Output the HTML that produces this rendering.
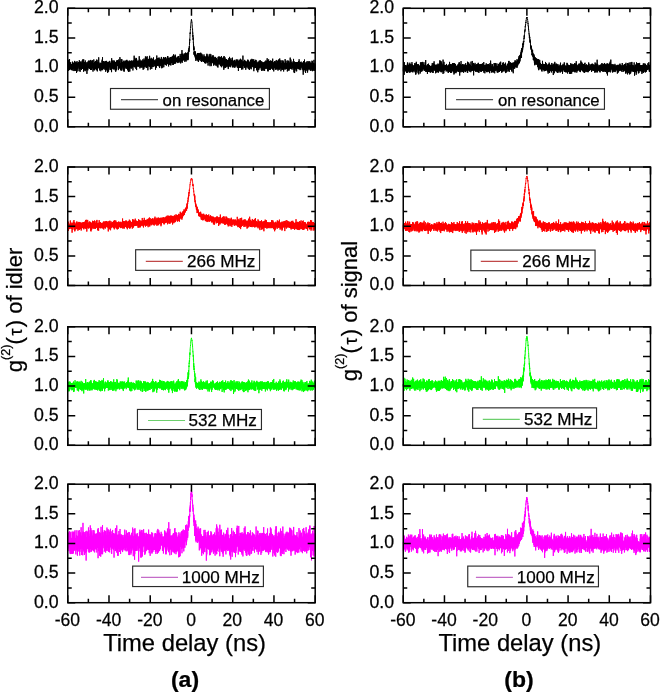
<!DOCTYPE html>
<html><head><meta charset="utf-8"><style>
html,body{margin:0;padding:0;background:#fff;}
svg{display:block;will-change:transform;}
</style></head><body>
<svg width="660" height="692" viewBox="0 0 660 692" font-family="Liberation Sans, sans-serif" fill="#000">
<style>text{stroke:#000;stroke-width:0.25px;}</style>
<rect width="660" height="692" fill="#fff"/>
<path transform="translate(67.750 8.300) scale(0.0103130)" d="M0 5946 l6 -680 6 540 6 -155 6 -46 6 168 6 158 6 -509 6 72 6 585 6 -1087 6 349 6 436 6 -420 6 346 6 -102 6 -215 6 517 6 -463 6 -208 6 19 6 410 6 -304 6 638 6 -370 6 -154 6 454 6 -319 6 -457 6 -226 6 465 6 -13 6 452 6 63 6 52 6 -494 6 -53 6 356 6 144 6 -376 6 -14 6 113 6 -355 6 345 6 -7 6 263 6 -314 6 -306 6 325 6 -3 6 -91 6 39 6 -64 6 -2 6 -20 6 357 6 -277 6 481 6 -473 6 387 6 -301 6 -138 6 225 6 -130 6 439 6 -198 6 -390 6 465 6 -456 6 515 6 -121 6 47 6 -278 6 -134 6 405 6 -224 6 -456 6 490 6 126 6 -304 6 154 6 121 6 277 6 -661 6 351 6 -144 6 268 6 -597 6 140 6 -59 6 275 6 -146 6 -106 6 -34 6 180 6 94 6 75 6 98 6 55 6 -335 6 153 6 442 6 -465 6 -308 6 339 6 398 6 -437 6 -229 6 147 6 159 6 -575 6 -13 6 505 6 -231 6 106 6 -98 6 -170 6 160 6 185 6 187 6 40 6 -198 6 -299 6 216 6 63 6 -52 6 56 6 -129 6 422 6 215 6 -392 6 183 6 -698 6 448 6 24 6 324 6 -460 6 229 6 -441 6 71 6 408 6 -299 6 791 6 -518 6 -484 6 115 6 155 6 52 6 351 6 -16 6 -399 6 -389 6 993 6 -707 6 7 6 -88 6 459 6 -86 6 -145 6 271 6 51 6 -87 6 -206 6 -112 6 101 6 -26 6 192 6 9 6 -465 6 297 6 7 6 -257 6 -77 6 -8 6 218 6 116 6 -86 6 27 6 -307 6 279 6 -88 6 169 6 -354 6 865 6 -615 6 -94 6 483 6 -836 6 581 6 3 6 232 6 -495 6 165 6 206 6 -206 6 -116 6 -134 6 252 6 298 6 -103 6 440 6 -396 6 -370 6 68 6 145 6 59 6 -487 6 329 6 -158 6 129 6 269 6 -561 6 704 6 -10 6 -194 6 76 6 -44 6 11 6 -400 6 235 6 -75 6 489 6 -187 6 -487 6 577 6 -601 6 557 6 -335 6 289 6 -264 6 277 6 -162 6 -487 6 517 6 -609 6 629 6 181 6 -315 6 122 6 -547 6 226 6 -81 6 139 6 -464 6 423 6 66 6 343 6 20 6 -275 6 -206 6 -30 6 520 6 -372 6 85 6 331 6 -411 6 701 6 -639 6 -557 6 881 6 -262 6 482 6 -287 6 -382 6 454 6 -254 6 81 6 5 6 -143 6 -74 6 -189 6 101 6 352 6 -499 6 42 6 708 6 -561 6 -41 6 -35 6 105 6 465 6 -259 6 454 6 -482 6 -552 6 340 6 -39 6 340 6 127 6 13 6 -301 6 234 6 -42 6 -449 6 702 6 -82 6 -203 6 -104 6 8 6 319 6 -401 6 81 6 -122 6 363 6 -335 6 6 6 222 6 -111 6 85 6 -483 6 1129 6 -422 6 65 6 -335 6 76 6 -67 6 -285 6 592 6 -198 6 -157 6 247 6 -397 6 10 6 262 6 268 6 -850 6 284 6 12 6 89 6 20 6 -211 6 213 6 155 6 -338 6 164 6 209 6 34 6 -522 6 134 6 -338 6 630 6 55 6 -290 6 -245 6 197 6 41 6 -367 6 663 6 127 6 -127 6 -108 6 -174 6 -163 6 155 6 -281 6 592 6 -689 6 685 6 -500 6 531 6 -323 6 74 6 -118 6 -59 6 243 6 -37 6 -77 6 389 6 -145 6 225 6 -410 6 -559 6 373 6 405 6 -40 6 -424 6 365 6 286 6 -148 6 8 6 -8 6 -428 6 152 6 393 6 -239 6 151 6 17 6 75 6 -819 6 517 6 -222 6 -74 6 315 6 -231 6 -2 6 80 6 -490 6 475 6 129 6 -221 6 -285 6 197 6 371 6 96 6 18 6 -68 6 -264 6 -116 6 785 6 -567 6 273 6 -450 6 -58 6 426 6 -83 6 126 6 -338 6 504 6 -122 6 -111 6 -481 6 -296 6 599 6 315 6 -329 6 238 6 -335 6 396 6 -187 6 -90 6 -134 6 150 6 -338 6 287 6 488 6 -689 6 305 6 95 6 -548 6 630 6 -269 6 198 6 -520 6 432 6 -151 6 409 6 -711 6 630 6 -498 6 -51 6 -30 6 -147 6 751 6 -396 6 67 6 -71 6 -171 6 249 6 233 6 -182 6 -411 6 683 6 -316 6 266 6 -525 6 693 6 -329 6 -54 6 -61 6 -565 6 203 6 650 6 -802 6 843 6 170 6 -94 6 -428 6 -83 6 690 6 -665 6 176 6 -245 6 275 6 -324 6 85 6 436 6 -658 6 310 6 -130 6 -134 6 562 6 -224 6 186 6 30 6 -304 6 -19 6 -249 6 -14 6 354 6 205 6 -1015 6 264 6 567 6 207 6 -128 6 -177 6 -214 6 41 6 134 6 171 6 -104 6 120 6 -96 6 44 6 -158 6 605 6 -387 6 -13 6 211 6 -241 6 221 6 -98 6 -94 6 -9 6 80 6 -422 6 227 6 -30 6 22 6 226 6 54 6 -433 6 300 6 356 6 107 6 -608 6 241 6 -169 6 121 6 -35 6 -59 6 269 6 -308 6 -253 6 73 6 611 6 -100 6 -2 6 -272 6 -277 6 133 6 521 6 -454 6 -189 6 315 6 -591 6 642 6 -458 6 -296 6 911 6 -240 6 -225 6 -662 6 1255 6 -592 6 71 6 177 6 104 6 -78 6 -56 6 243 6 -715 6 674 6 -171 6 58 6 -62 6 -127 6 213 6 -131 6 -492 6 168 6 337 6 -300 6 420 6 -249 6 415 6 -72 6 -70 6 -528 6 253 6 -80 6 99 6 -54 6 -13 6 -87 6 152 6 270 6 -32 6 -503 6 -50 6 214 6 553 6 -808 6 314 6 100 6 -24 6 98 6 -534 6 18 6 689 6 -219 6 -124 6 -244 6 929 6 -843 6 -185 6 502 6 -71 6 -324 6 219 6 429 6 -41 6 -34 6 97 6 -354 6 128 6 -140 6 -168 6 -271 6 394 6 522 6 -817 6 379 6 -322 6 405 6 -189 6 110 6 -28 6 -327 6 485 6 -206 6 -14 6 153 6 455 6 -640 6 800 6 -336 6 -262 6 -223 6 -109 6 9 6 58 6 240 6 -396 6 372 6 -349 6 842 6 -321 6 -95 6 -145 6 600 6 -805 6 -44 6 51 6 327 6 -495 6 502 6 -365 6 242 6 -10 6 34 6 -34 6 -284 6 -82 6 3 6 130 6 60 6 54 6 -328 6 552 6 48 6 -171 6 430 6 -359 6 -45 6 243 6 -113 6 -319 6 231 6 -76 6 -241 6 413 6 133 6 -277 6 -116 6 560 6 -619 6 243 6 25 6 112 6 -170 6 -288 6 109 6 -71 6 294 6 -490 6 79 6 324 6 652 6 -673 6 -675 6 704 6 241 6 -683 6 581 6 -278 6 -68 6 560 6 -401 6 -267 6 380 6 -245 6 169 6 -264 6 -206 6 738 6 -203 6 -171 6 257 6 48 6 -120 6 -19 6 96 6 -247 6 -120 6 15 6 17 6 -129 6 640 6 -313 6 -76 6 -85 6 535 6 -873 6 692 6 -289 6 -118 6 -88 6 443 6 -36 6 -228 6 -55 6 -81 6 242 6 159 6 160 6 -770 6 779 6 -518 6 105 6 -121 6 -48 6 -99 6 351 6 -114 6 587 6 -500 6 238 6 -188 6 -348 6 282 6 -246 6 323 6 -151 6 203 6 532 6 -457 6 -112 6 -106 6 38 6 32 6 -268 6 80 6 255 6 -317 6 713 6 -425 6 -34 6 -362 6 458 6 234 6 -412 6 -379 6 475 6 -28 6 26 6 -64 6 -313 6 -165 6 372 6 144 6 -489 6 437 6 8 6 106 6 -11 6 -139 6 131 6 -176 6 81 6 -116 6 234 6 -46 6 -110 6 43 6 -8 6 -267 6 559 6 216 6 -665 6 241 6 -397 6 358 6 270 6 -838 6 446 6 212 6 75 6 -327 6 308 6 -266 6 -193 6 636 6 -257 6 -209 6 -294 6 182 6 345 6 -478 6 453 6 -49 6 -134 6 366 6 -1038 6 467 6 244 6 196 6 147 6 -382 6 -80 6 272 6 -51 6 -187 6 153 6 447 6 -628 6 105 6 -121 6 369 6 341 6 -218 6 -385 6 -443 6 -69 6 510 6 438 6 -279 6 -195 6 2 6 85 6 -310 6 557 6 315 6 -321 6 71 6 -845 6 602 6 308 6 -508 6 -98 6 237 6 -35 6 -206 6 126 6 302 6 -321 6 -85 6 146 6 -132 6 71 6 204 6 -22 6 -189 6 289 6 -423 6 -17 6 807 6 -487 6 169 6 -30 6 -193 6 77 6 -182 6 60 6 -12 6 286 6 -108 6 -449 6 978 6 -1043 6 566 6 -432 6 936 6 -540 6 -315 6 173 6 -215 6 469 6 -78 6 23 6 -289 6 11 6 145 6 35 6 7 6 -94 6 256 6 -221 6 21 6 98 6 7 6 -508 6 519 6 -255 6 -237 6 155 6 179 6 -247 6 605 6 -49 6 -207 6 -44 6 -31 6 -490 6 47 6 428 6 -73 6 288 6 -304 6 411 6 -680 6 476 6 -268 6 462 6 -669 6 193 6 -334 6 469 6 417 6 -207 6 117 6 -703 6 546 6 31 6 -334 6 81 6 -56 6 246 6 370 6 -158 6 207 6 -861 6 91 6 318 6 -247 6 -13 6 9 6 25 6 -87 6 198 6 570 6 135 6 -998 6 165 6 769 6 -665 6 260 6 -82 6 508 6 -835 6 211 6 -223 6 -67 6 -50 6 -90 6 336 6 18 6 212 6 -290 6 190 6 232 6 -589 6 120 6 841 6 -203 6 -408 6 278 6 -637 6 258 6 -97 6 -92 6 -100 6 400 6 -224 6 92 6 -136 6 60 6 -216 6 219 6 253 6 -150 6 312 6 -362 6 -296 6 525 6 260 6 -391 6 106 6 -126 6 146 6 -166 6 272 6 -639 6 441 6 -184 6 -61 6 226 6 -151 6 174 6 49 6 -56 6 -177 6 436 6 -90 6 -26 6 -60 6 -427 6 294 6 68 6 -112 6 -228 6 448 6 -439 6 830 6 -358 6 -586 6 -20 6 336 6 153 6 -310 6 304 6 -485 6 90 6 102 6 398 6 -450 6 302 6 -5 6 46 6 -76 6 -153 6 -86 6 -1 6 -631 6 923 6 -372 6 449 6 -116 6 239 6 -587 6 234 6 31 6 61 6 -258 6 350 6 -222 6 -524 6 656 6 119 6 95 6 -451 6 183 6 202 6 19 6 -213 6 254 6 -765 6 565 6 -4 6 -22 6 424 6 -89 6 -269 6 -84 6 299 6 -724 6 305 6 -207 6 30 6 344 6 -657 6 570 6 495 6 111 6 -577 6 -215 6 197 6 -410 6 501 6 -214 6 -42 6 435 6 -330 6 -15 6 -180 6 -28 6 55 6 429 6 -368 6 -83 6 254 6 -176 6 -4 6 -102 6 271 6 -98 6 68 6 32 6 167 6 -69 6 193 6 -227 6 -217 6 17 6 -32 6 210 6 -368 6 452 6 -300 6 86 6 284 6 -10 6 -356 6 173 6 -58 6 -686 6 613 6 109 6 -151 6 326 6 -104 6 -152 6 307 6 -192 6 37 6 -72 6 457 6 -865 6 454 6 -156 6 387 6 66 6 -326 6 85 6 -238 6 383 6 15 6 -322 6 -90 6 -55 6 232 6 -72 6 258 6 -516 6 43 6 8 6 661 6 -606 6 392 6 -298 6 15 6 -193 6 343 6 37 6 162 6 43 6 -430 6 362 6 -385 6 256 6 45 6 -372 6 25 6 449 6 -199 6 -40 6 -164 6 341 6 -78 6 -74 6 -196 6 -50 6 349 6 -559 6 323 6 297 6 183 6 -256 6 456 6 -622 6 -92 6 -173 6 187 6 536 6 -347 6 -239 6 697 6 -328 6 -352 6 138 6 501 6 -366 6 -128 6 -500 6 611 6 113 6 -280 6 -22 6 -58 6 -212 6 365 6 316 6 -343 6 5 6 -231 6 31 6 381 6 -365 6 -57 6 288 6 -276 6 189 6 -4 6 79 6 -231 6 -502 6 640 6 336 6 -226 6 85 6 -220 6 112 6 -648 6 432 6 -270 6 621 6 -120 6 -550 6 903 6 -440 6 408 6 -747 6 714 6 -269 6 -31 6 365 6 -1006 6 637 6 -439 6 566 6 186 6 -407 6 6 6 -661 6 961 6 122 6 -207 6 -244 6 -64 6 317 6 -97 6 -217 6 -131 6 407 6 -176 6 699 6 -434 6 -338 6 106 6 41 6 -434 6 458 6 194 6 -315 6 0 6 326 6 -519 6 -170 6 553 6 68 6 -191 6 -321 6 436 6 39 6 -34 6 -201 6 6 6 92 6 -332 6 -253 6 682 6 -391 6 185 6 -659 6 935 6 -130 6 -109 6 369 6 -294 6 -223 6 520 6 -380 6 -400 6 574 6 71 6 394 6 -585 6 365 6 -526 6 -262 6 261 6 324 6 -348 6 270 6 158 6 -152 6 -179 6 145 6 -215 6 -389 6 367 6 -34 6 341 6 -481 6 235 6 -158 6 429 6 -244 6 621 6 -480 6 117 6 38 6 -658 6 784 6 -333 6 -2 6 -162 6 -115 6 626 6 -255 6 38 6 -336 6 -58 6 323 6 31 6 112 6 -331 6 -312 6 309 6 258 6 31 6 -30 6 224 6 -810 6 397 6 96 6 -615 6 482 6 -303 6 290 6 -199 6 245 6 105 6 -187 6 -74 6 -89 6 211 6 107 6 29 6 -163 6 189 6 -39 6 -208 6 -11 6 19 6 298 6 165 6 -410 6 37 6 118 6 -141 6 -154 6 250 6 -144 6 328 6 -181 6 145 6 146 6 -449 6 779 6 -662 6 -201 6 90 6 463 6 -426 6 492 6 -226 6 -551 6 302 6 -243 6 540 6 233 6 -317 6 -483 6 84 6 -35 6 288 6 -14 6 25 6 -737 6 667 6 -399 6 460 6 -370 6 583 6 -138 6 -205 6 219 6 -39 6 -60 6 89 6 -497 6 99 6 599 6 -739 6 414 6 -2 6 31 6 -247 6 37 6 292 6 -137 6 321 6 -750 6 640 6 8 6 -42 6 -203 6 -146 6 261 6 -91 6 85 6 -386 6 250 6 454 6 -750 6 268 6 -377 6 599 6 -28 6 -77 6 290 6 -245 6 -385 6 130 6 732 6 -872 6 218 6 -110 6 183 6 -36 6 31 6 0 6 256 6 -491 6 194 6 -41 6 9 6 152 6 -58 6 300 6 -378 6 -4 6 121 6 347 6 -719 6 354 6 -37 6 68 6 66 6 -46 6 165 6 -125 6 -622 6 206 6 -193 6 614 6 297 6 -124 6 298 6 -874 6 -34 6 261 6 -64 6 1 6 113 6 -199 6 408 6 -135 6 -70 6 363 6 -163 6 -339 6 20 6 658 6 -793 6 131 6 -98 6 194 6 -153 6 438 6 -253 6 198 6 -128 6 -396 6 -107 6 371 6 110 6 -286 6 74 6 -341 6 299 6 692 6 -560 6 88 6 111 6 -220 6 18 6 94 6 -433 6 262 6 -8 6 56 6 -247 6 541 6 -540 6 335 6 -402 6 15 6 213 6 220 6 -172 6 -17 6 419 6 -264 6 86 6 -481 6 -77 6 561 6 -47 6 182 6 -366 6 -128 6 -228 6 710 6 -512 6 248 6 131 6 -87 6 95 6 -280 6 102 6 -274 6 394 6 309 6 -204 6 -308 6 418 6 -168 6 -297 6 438 6 -510 6 115 6 211 6 -125 6 104 6 -25 6 -17 6 -80 6 24 6 149 6 53 6 -700 6 726 6 -219 6 -311 6 47 6 393 6 -627 6 54 6 475 6 210 6 -428 6 185 6 24 6 117 6 -49 6 -175 6 -170 6 678 6 69 6 -765 6 413 6 -352 6 132 6 -261 6 76 6 269 6 -27 6 -111 6 -98 6 312 6 202 6 -371 6 33 6 24 6 191 6 -367 6 530 6 -284 6 -405 6 545 6 -348 6 -9 6 4 6 476 6 -611 6 196 6 -81 6 41 6 55 6 -265 6 -50 6 747 6 -247 6 -140 6 453 6 -825 6 506 6 -304 6 77 6 97 6 178 6 -148 6 -103 6 -158 6 222 6 42 6 -35 6 -351 6 227 6 217 6 131 6 -193 6 112 6 -112 6 -403 6 149 6 104 6 -41 6 -298 6 643 6 -358 6 145 6 -79 6 14 6 87 6 -195 6 607 6 -552 6 -89 6 366 6 3 6 -648 6 628 6 -118 6 87 6 -37 6 12 6 321 6 -1007 6 694 6 -248 6 101 6 -320 6 145 6 -98 6 -10 6 72 6 179 6 -197 6 556 6 -553 6 40 6 87 6 363 6 -594 6 445 6 -291 6 549 6 -372 6 103 6 27 6 -26 6 -543 6 400 6 -84 6 -399 6 789 6 -657 6 419 6 56 6 -50 6 309 6 -63 6 -89 6 -128 6 -284 6 -83 6 320 6 -165 6 -15 6 145 6 -102 6 179 6 -254 6 171 6 -60 6 -49 6 23 6 189 6 137 6 -283 6 109 6 -10 6 -95 6 132 6 -256 6 9 6 284 6 -280 6 291 6 -371 6 21 6 137 6 -199 6 -30 6 125 6 498 6 -432 6 -16 6 -134 6 390 6 -371 6 76 6 -13 6 358 6 -83 6 -438 6 66 6 197 6 -257 6 178 6 147 6 252 6 -566 6 250 6 -83 6 440 6 -274 6 -184 6 117 6 105 6 80 6 -288 6 123 6 -7 6 -12 6 76 6 -70 6 60 6 -141 6 301 6 -61 6 -244 6 40 6 -71 6 -401 6 271 6 -84 6 152 6 113 6 145 6 226 6 -97 6 197 6 -263 6 98 6 -135 6 -204 6 81 6 -279 6 -5 6 -27 6 33 6 125 6 165 6 -208 6 148 6 -12 6 -131 6 318 6 113 6 -418 6 -312 6 139 6 -517 6 1050 6 -162 6 350 6 -308 6 -587 6 57 6 557 6 -149 6 105 6 109 6 -236 6 16 6 -91 6 -37 6 -94 6 -145 6 306 6 25 6 -47 6 -94 6 119 6 180 6 -101 6 -268 6 371 6 -389 6 462 6 -423 6 2 6 167 6 -41 6 42 6 -404 6 443 6 60 6 -234 6 -156 6 161 6 99 6 -247 6 371 6 3 6 94 6 -514 6 713 6 -195 6 -322 6 -36 6 -279 6 272 6 190 6 -393 6 64 6 -21 6 17 6 114 6 406 6 -85 6 -629 6 397 6 389 6 -395 6 -190 6 116 6 77 6 480 6 -494 6 38 6 -376 6 343 6 9 6 78 6 -68 6 -84 6 159 6 73 6 70 6 -281 6 93 6 -11 6 242 6 -149 6 217 6 -586 6 -51 6 152 6 100 6 -124 6 388 6 -40 6 -514 6 437 6 -209 6 113 6 341 6 -367 6 -313 6 -112 6 739 6 -209 6 -216 6 -328 6 -68 6 -96 6 -45 6 369 6 70 6 -392 6 178 6 -94 6 25 6 -43 6 -280 6 279 6 65 6 -240 6 -196 6 -1 6 -97 6 210 6 -249 6 -367 6 99 6 -14 6 -331 6 134 6 -257 6 -25 6 -115 6 -163 6 -221 6 14 6 118 6 -75 6 -170 6 -107 6 -162 6 -36 6 -99 6 46 6 -191 6 -111 6 -136 6 -13 6 -24 6 6 6 -106 6 -44 6 -31 6 -43 6 -37 6 -14 6 -76 6 121 6 32 6 -58 6 88 6 -10 6 32 6 77 6 -25 6 61 6 87 6 39 6 54 6 148 6 20 6 114 6 97 6 126 6 -92 6 211 6 257 6 -85 6 407 6 -195 6 39 6 15 6 235 6 206 6 -249 6 202 6 47 6 300 6 -47 6 437 6 -262 6 478 6 -96 6 143 6 -368 6 94 6 316 6 -264 6 254 6 420 6 -242 6 290 6 -292 6 -18 6 243 6 -264 6 -19 6 404 6 -260 6 153 6 58 6 -371 6 493 6 -53 6 -44 6 -115 6 -29 6 359 6 -459 6 -86 6 -29 6 385 6 145 6 122 6 -285 6 92 6 2 6 121 6 333 6 -393 6 -21 6 44 6 221 6 -233 6 -24 6 207 6 -366 6 144 6 -34 6 -51 6 137 6 -34 6 -126 6 -45 6 -26 6 227 6 -197 6 -77 6 535 6 -206 6 -79 6 -4 6 -374 6 130 6 279 6 -3 6 271 6 -84 6 -488 6 647 6 -493 6 282 6 -82 6 -42 6 -405 6 316 6 -34 6 -106 6 685 6 -863 6 751 6 -200 6 -296 6 408 6 111 6 -616 6 315 6 -264 6 98 6 146 6 -400 6 416 6 -482 6 621 6 24 6 -65 6 -195 6 294 6 -91 6 -455 6 269 6 -206 6 170 6 205 6 40 6 -202 6 26 6 129 6 9 6 -428 6 89 6 160 6 139 6 19 6 -518 6 559 6 -621 6 638 6 179 6 -750 6 459 6 -350 6 235 6 148 6 -253 6 267 6 -154 6 125 6 351 6 -463 6 202 6 -82 6 -118 6 396 6 -420 6 -7 6 -288 6 239 6 106 6 215 6 -133 6 301 6 -390 6 133 6 37 6 -80 6 -93 6 44 6 313 6 -540 6 282 6 -64 6 73 6 206 6 -259 6 144 6 101 6 -209 6 -135 6 33 6 92 6 176 6 -60 6 -40 6 281 6 -482 6 157 6 298 6 -600 6 -93 6 701 6 -240 6 144 6 -346 6 466 6 -403 6 25 6 -156 6 654 6 -243 6 -120 6 -252 6 190 6 -141 6 65 6 296 6 -169 6 63 6 -16 6 132 6 -362 6 100 6 483 6 -575 6 286 6 202 6 -587 6 271 6 -80 6 108 6 -20 6 389 6 -559 6 328 6 -163 6 23 6 195 6 64 6 -240 6 -312 6 426 6 -11 6 -152 6 150 6 -415 6 188 6 -449 6 505 6 -441 6 621 6 -180 6 286 6 -148 6 -15 6 -204 6 -165 6 359 6 264 6 -319 6 38 6 72 6 -298 6 -60 6 406 6 4 6 419 6 -435 6 -325 6 391 6 -405 6 53 6 13 6 -3 6 160 6 -245 6 -8 6 159 6 87 6 -297 6 -44 6 477 6 -327 6 175 6 -509 6 596 6 68 6 67 6 -408 6 441 6 -379 6 260 6 -414 6 -50 6 97 6 694 6 -109 6 280 6 -1195 6 726 6 -40 6 -102 6 -124 6 212 6 -88 6 18 6 292 6 -700 6 19 6 385 6 37 6 -453 6 -126 6 540 6 -123 6 230 6 -168 6 654 6 -68 6 -609 6 146 6 -132 6 73 6 -118 6 79 6 98 6 -133 6 246 6 -470 6 543 6 -130 6 -295 6 289 6 -300 6 -113 6 153 6 280 6 -533 6 330 6 325 6 -678 6 418 6 -98 6 -64 6 324 6 -322 6 490 6 -59 6 -133 6 -587 6 362 6 -128 6 366 6 -221 6 606 6 -424 6 -157 6 230 6 325 6 -77 6 -520 6 -161 6 395 6 -450 6 665 6 -439 6 75 6 -171 6 588 6 -573 6 205 6 226 6 -92 6 -53 6 -114 6 263 6 5 6 -218 6 31 6 -122 6 -92 6 638 6 -404 6 -74 6 45 6 261 6 -411 6 -230 6 438 6 145 6 -361 6 176 6 -21 6 -23 6 159 6 -101 6 165 6 290 6 -696 6 176 6 84 6 -328 6 350 6 -295 6 69 6 261 6 225 6 -401 6 59 6 -182 6 597 6 -330 6 -83 6 -24 6 53 6 -43 6 615 6 -468 6 84 6 206 6 -386 6 119 6 180 6 56 6 -400 6 670 6 -571 6 241 6 -292 6 -416 6 210 6 254 6 -366 6 -88 6 209 6 -201 6 384 6 -98 6 170 6 70 6 -94 6 189 6 -159 6 -542 6 353 6 213 6 -449 6 66 6 592 6 -86 6 -571 6 385 6 -19 6 168 6 138 6 -531 6 462 6 -317 6 -310 6 312 6 178 6 -198 6 17 6 242 6 -170 6 350 6 129 6 -283 6 287 6 -265 6 -120 6 -71 6 -397 6 662 6 -109 6 2 6 131 6 -719 6 667 6 -127 6 -13 6 -621 6 654 6 111 6 -477 6 453 6 347 6 -772 6 48 6 566 6 -44 6 -287 6 225 6 133 6 -75 6 -713 6 171 6 515 6 -218 6 -61 6 108 6 -71 6 -428 6 575 6 34 6 -173 6 152 6 -54 6 1 6 135 6 -531 6 453 6 -478 6 525 6 17 6 -280 6 124 6 -267 6 42 6 -396 6 1275 6 -460 6 -241 6 42 6 -38 6 -640 6 1177 6 -713 6 222 6 -57 6 -261 6 279 6 -207 6 -121 6 24 6 747 6 -295 6 160 6 -125 6 -144 6 -553 6 665 6 -83 6 -30 6 -406 6 503 6 -246 6 -90 6 62 6 637 6 -174 6 -484 6 601 6 -375 6 315 6 -465 6 111 6 370 6 -317 6 200 6 -123 6 -441 6 238 6 -13 6 -292 6 350 6 -294 6 225 6 31 6 156 6 115 6 50 6 -25 6 -354 6 28 6 305 6 -503 6 455 6 -59 6 240 6 -130 6 -416 6 105 6 262 6 -454 6 317 6 -34 6 -238 6 146 6 193 6 177 6 -570 6 888 6 -422 6 275 6 -282 6 -348 6 288 6 23 6 -91 6 -489 6 144 6 279 6 212 6 -59 6 -179 6 142 6 -28 6 224 6 78 6 -63 6 -325 6 283 6 -841 6 480 6 -24 6 -84 6 496 6 31 6 -229 6 -201 6 9 6 -266 6 59 6 83 6 -22 6 209 6 -145 6 274 6 33 6 -331 6 629 6 -742 6 -112 6 567 6 -301 6 140 6 278 6 -328 6 -40 6 -117 6 326 6 -114 6 182 6 -392 6 269 6 -233 6 373 6 -192 6 248 6 -38 6 -449 6 315 6 -23 6 -198 6 375 6 -668 6 660 6 -92 6 -623 6 946 6 -845 6 335 6 -30 6 381 6 -296 6 350 6 -549 6 304 6 99 6 -39 6 -79 6 -274 6 149 6 276 6 27 6 40 6 -443 6 78 6 387 6 126 6 -379 6 127 6 -267 6 158 6 -119 6 -104 6 -57 6 307 6 -225 6 314 6 154 6 -346 6 -236 6 -52 6 361 6 403 6 -495 6 131 6 -202 6 -109 6 368 6 67 6 -77 6 72 6 77 6 -293 6 231 6 -108 6 13 6 68 6 -294 6 260 6 -91 6 -213 6 230 6 318 6 -237 6 1 6 -267 6 -249 6 355 6 81 6 -385 6 523 6 -241 6 -42 6 129 6 33 6 -88 6 -323 6 229 6 283 6 -213 6 -163 6 -197 6 236 6 149 6 -287 6 120 6 180 6 196 6 -181 6 -208 6 489 6 128 6 -509 6 495 6 -56 6 -263 6 8 6 -70 6 -25 6 -87 6 153 6 176 6 484 6 -982 6 111 6 41 6 157 6 208 6 -328 6 134 6 312 6 -575 6 592 6 -238 6 -530 6 622 6 -238 6 -212 6 256 6 343 6 -221 6 -106 6 352 6 -709 6 270 6 -94 6 108 6 -26 6 179 6 271 6 -519 6 155 6 -371 6 662 6 -320 6 -488 6 854 6 -36 6 -343 6 -355 6 700 6 -302 6 60 6 91 6 -73 6 -357 6 264 6 354 6 -169 6 -173 6 365 6 -172 6 -69 6 414 6 -962 6 845 6 -407 6 58 6 105 6 -442 6 281 6 219 6 -489 6 152 6 387 6 120 6 -587 6 249 6 324 6 -490 6 485 6 -182 6 32 6 284 6 -651 6 -688 6 699 6 58 6 162 6 -46 6 -84 6 -85 6 276 6 -134 6 62 6 -189 6 -94 6 -40 6 377 6 9 6 -288 6 232 6 -12 6 -166 6 19 6 -232 6 622 6 -573 6 389 6 -280 6 483 6 -286 6 120 6 -587 6 667 6 -512 6 478 6 76 6 -350 6 -184 6 274 6 -161 6 89 6 72 6 -354 6 339 6 -213 6 498 6 -238 6 -278 6 345 6 413 6 -711 6 42 6 213 6 -98 6 110 6 -178 6 -176 6 195 6 98 6 98 6 -80 6 84 6 -361 6 498 6 -117 6 -229 6 4 6 20 6 166 6 -153 6 401 6 24 6 -59 6 -409 6 -243 6 442 6 31 6 -65 6 -518 6 392 6 28 6 163 6 -261 6 -198 6 273 6 246 6 -522 6 329 6 -444 6 698 6 -223 6 -101 6 497 6 -455 6 -126 6 182 6 -139 6 65 6 253 6 -385 6 363 6 -110 6 108 6 -338 6 274 6 1 6 411 6 -458 6 -312 6 758 6 -603 6 101 6 418 6 -324 6 -336 6 236 6 -88 6 -185 6 351 6 -291 6 519 6 -94 6 -568 6 23 6 103 6 598 6 -313 6 163 6 -689 6 801 6 -18 6 -166 6 -227 6 223 6 -68 6 -147 6 65 6 468 6 -152 6 -709 6 389 6 -434 6 88 6 86 6 255 6 -361 6 488 6 -660 6 403 6 -3 6 240 6 44 6 -80 6 65 6 86 6 50 6 -312 6 -245 6 -188 6 292 6 212 6 -177 6 -267 6 384 6 -214 6 151 6 62 6 171 6 -313 6 377 6 43 6 -329 6 -154 6 12 6 20 6 282 6 -42 6 -307 6 -230 6 1164 6 -954 6 242 6 69 6 168 6 -25 6 140 6 -359 6 305 6 -193 6 324 6 -659 6 126 6 453 6 -398 6 210 6 117 6 -230 6 -188 6 -164 6 305 6 -221 6 121 6 1 6 -74 6 574 6 -235 6 -465 6 697 6 -121 6 -670 6 716 6 -281 6 -35 6 139 6 -300 6 17 6 385 6 -601 6 633 6 -91 6 -73 6 -84 6 323 6 -330 6 603 6 -418 6 102 6 -46 6 -151 6 -78 6 245 6 -188 6 377 6 -276 6 -320 6 398 6 -91 6 -70 6 -203 6 108 6 132 6 205 6 -303 6 764 6 -807 6 287 6 -340 6 173 6 -344 6 486 6 328 6 -489 6 126 6 -96 6 -313 6 511 6 -385 6 -51 6 -45 6 749 6 -524 6 206 6 -112 6 142 6 -118 6 -309 6 -190 6 249 6 470 6 -604 6 606 6 -209 6 -367 6 419 6 -319 6 241 6 216 6 -333 6 183 6 -560 6 -20 6 66 6 632 6 -712 6 387 6 -48 6 76 6 182 6 -165 6 -184 6 -163 6 239 6 136 6 121 6 -40 6 -474 6 229 6 112 6 459 6 31 6 -598 6 11 6 -119 6 225 6 210 6 259 6 -194 6 344 6 -642 6 -43 6 -221 6 787 6 -101 6 -498 6 71 6 575 6 -319 6 -198 6 120 6 -187 6 84 6 147 6 -232 6 114 6 -306 6 644 6 -299 6 110 6 -107 6 -160 6 -59 6 689 6 -815 6 153 6 4 6 112 6 -217 6 133 6 547 6 -280 6 -102 6 28 6 21 6 -261 6 428 6 -91 6 60 6 -238 6 -116 6 333 6 -320 6 232 6 -485 6 905 6 -551 6 -288 6 376 6 183 6 -58 6 -354 6 273 6 -398 6 250 6 150 6 -29 6 -227 6 -135 6 453 6 94 6 -4 6 -409 6 -336 6 583 6 -297 6 266 6 -330 6 600 6 -517 6 473 6 -113 6 -295 6 143 6 -43 6 -148 6 82 6 -322 6 183 6 401 6 -195 6 120 6 -36 6 -546 6 640 6 -513 6 -58 6 -307 6 680 6 -62 6 -11 6 166 6 -534 6 -47 6 1064 6 -493 6 -378 6 557 6 -85 6 -181 6 12 6 43 6 -10 6 -489 6 1036 6 -454 6 160 6 -346 6 171 6 -232 6 119 6 -577 6 910 6 -209 6 -342 6 317 6 -134 6 424 6 -564 6 211 6 -173 6 374 6 -93 6 79 6 -634 6 861 6 -550 6 43 6 -255 6 250 6 332 6 -390 6 567 6 -703 6 294 6 161 6 -61 6 -274 6 571 6 -854 6 610 6 -563 6 342 6 -443 6 794 6 -530 6 238 6 145 6 -373 6 273 6 127 6 -131 6 143 6 -141 6 -45 6 -285 6 298 6 173 6 -388 6 285 6 154 6 61 6 -754 6 475 6 -437 6 660 6 20 6 -706 6 502 6 -16 6 9 6 205 6 -521 6 568 6 -502 6 467 6 -939 6 483 6 -99 6 714 6 -521 6 251 6 61 6 -7 6 -425 6 200 6 138 6 27 6 10 6 -26 6 -66 6 221 6 -61 6 335 6 -557 6 -154 6 271 6 -478 6 548 6 -204 6 -286 6 233 6 263 6 -293 6 193 6 -385 6 88 6 252 6 -190 6 -307 6 153 6 68 6 266 6 102 6 42 6 -452 6 535 6 -377 6 -303 6 810 6 -493 6 342 6 -220 6 -164 6 382 6 85 6 -232 6 -156 6 153 6 143 6 -416 6 459 6 81 6 -392 6 -520 6 674 6 -105 6 237 6 -105 6 133 6 -357 6 242 6 29 6 -437 6 606 6 -605 6 282 6 186 6 -225 6 63 6 -150 6 135 6 -533 6 210 6 -17 6 591 6 -219 6 -389 6 149 6 147 6 26 6 -287 6 749 6 -264 6 132 6 -644 6 643 6 -282 6 -412 6 419 6 -149 6 65 6 -166 6 -386 6 857 6 -285 6 -433 6 -183 6 658 6 -407 6 181 6 10 6 522 6 53 6 -449 6 66 6 -6 6 275 6 -667 6 414 6 -737 6 749 6 -154 6 -97 6 280 6 167 6 -111 6 -148 6 132 6 -634 6 638 6 -329 6 -10 6 159 6 319 6 -402 6 -111 6 197 6 38 6 556 6 -273 6 -230 6 -95 6 -143 6 268 6 -121 6 305 6 -420 6 -24 6 212 6 -274 6 322 6 48 6 -50 6 -580 6 917 6 -461 6 139 6 -117 6 403 6 -561 6 19 6 234 6 42 6 -126 6 -226 6 630 6 -744 6 435 6 -292 6 422 6 -708 6 429 6 -382 6 604 6 7 6 -451 6 107 6 92 6 -228 6 206 6 194 6 394 6 100 6 -745 6 20 6 373 6 -366 6 189 6 -62 6 -236 6 645 6 -490 6 -43 6 181 6 -90 6 331 6 -328 6 -122 6 -37 6 374 6 -380 6 127 6 -92 6 179 6 -170 6 110 6 -566 6 694 6 -365 6 295 6 373 6 -499 6 -189 6 118 6 -6 6 405 6 -284 6 429 6 -802 6 58 6 657 6 -164 6 214 6 -123 6 -78 6 186 6 -180 6 -280 6 235 6 -255 6 226 6 -68 6 347 6 -557 6 525 6 -197 6 235 6 -455 6 395 6 -411 6 -346 6 404 6 659 6 -824 6 207 6 -112 6 51 6 -191 6 36 6 274 6 301 6 -295 6 -218 6 671 6 -513 6 497 6 -744 6 -188 6 248 6 331 6 -309 6 -139 6 -87 6 65 6 83 6 530 6 -226 6 -146 6 109 6 510 6 -454 6 137 6 -234 6 -34 6 455 6 -173 6 -234 6 308 6 -257 6 206 6 -34 6 -404 6 258 6 108 6 -531 6 471 6 -72 6 -12 6 -767 6 610 6 -58 6 313 6 -309 6 -72 6 586 6 -409 6 -310 6 -44 6 401 6 -526 6 762 6 -442 6 130 6 404 6 -525 6 582 6 -159 6 -142 6 282 6 -606 6 414 6 202 6 -382 6 68 6 275 6 -139 6 -366 6 17 6 614 6 -652 6 -2 6 -44 6 415 6 74 6 -172 6 141 6 -101 6 88 6 -80 6 53 6 -135 6 -32 6 107 6 74 6 -548 6 171 6 113 6 349 6 -384 6 201 6 -193 6 93 6 -583 6 638 6 263 6 -534 6 -17 6 -48 6 1009 6 -426 6 -30 6 211 6 -450 6 -134 6 -107 6 43 6 227 6 -389 6 333 6 782 6 -634 6 113 6 -278 6 196 6 -24 6 -434 6 547 6 158 6 -413 6 -102 6 196 6 -27 6 150 6 188 6 -143 6 79 6 -587 6 381 6 -427 6 397 6 199 6 -282 6 -3 6 -289 6 860 6 -410 6 -212 6 296 6 -223 6 105 6 -441 6 44 6 850 6 -132 6 -192 6 -186 6 23 6 91 6 -287 6 -69 6 198 6 101 6 -86 6 223 6 -425 6 -2 6 451 6 -611 6 386 6 -224 6 212 6 45 6 -228 6 432 6 -187 6 243 6 -432 6 185 6 23 6 53 6 -300 6 97 6 124 6 63 6 -576 6 73 6 671 6 -596 6 174 6 56 6 -31 6 459 6 -982 6 106 6 515 6 7 6 -35 6 210 6 -310 6 149 6 266 6 -148 6 41 6 -10 6 -68 6 -246 6 268 6 308 6 -782 6 518 6 -519 6 307 6 -77 6 355 6 -240 6 123 6 -83 6 -136 6 221 6 -312 6 574 6 -87 6 -385 6 -24 6 -139 6 -140 6 297 6 -79 6 128 6 25 6 63 6 -54 6 171 6 -103 6 -243 6 76 6 -166 6 413 6 -29 6 -200 6 327 6 11 6 -385 6 235 6 -296 6 198 6 134 6 156 6 -570 6 326 6 207 6 156 6 -63 6 -213 6 -417 6 548 6 -306 6 19 6 903 6 -520 6 -530 6 731 6 -809 6 285 6 432 6 -903 6 508 6 -434 6 350 6 245 6 -478 6 -171 6 132 6 629 6 -462 6 459 6 -147 6 -497 6 710 6 -1003 6 1033 6 -61 6 -526 6 246 6 -15 6 201 6 -426 6 131 6 79 6 187 6 176 6 -381 6 557 6 -392 6 -329 6 -15 6 282 6 557 6 -804 6 -86 6 213 6 -315 6 64 6 695 6 -372 6 67 6 -529 6 127 6 247 6 -117 6 -81 6 409 6 -136 6 -21 6 83 6 -24 6 -144 6 394 6 -37 6 -498 6 -191 6 -89 6 935 6 -549 6 312 6 -76 6 -81 6 -160 6 -42 6 768 6 -468 6 -433 6 246 6 449 6 -162 6 -46 6 -467 6 -191 6 734 6 -413 6 205 6 -221 6 208 6 230 6 -122 6 2 6 -543 6 569 6 -337 6 361 6 -45 6 -230 6 206 6 -652 6 166 6 630 6 -423 6 -256 6 699 6 -206 6 -486 6 594 6 -375 6 183 6 -66 6 313 6 -249 6 94 6 -565 6 288 6 136 6 34 6 -182 6 590 6 -153 6 -22 6 -30 6 217 6 -556 6 255 6 -444 6 353 6 65 6 -209 6 2 6 186 6 -223 6 -175 6 440 6 -449 6 383 6 -272 6 234 6 87 6 -176 6 365 6 124 6 -401 6 52 6 226 6 -832 6 439 6 291 6 -319 6 -6 6 239 6 -38 6 415 6 -535 6 -426 6 190 6 26 6 418 6 127 6 -504 6 151 6 127 6 30 6 -323 6 81 6 281 6 -90 6 398 6 -126 6 -447 6 263 6 104 6 -291 6 -254 6 539 6 -132 6 -17 6 -692 6 364 6 193 6 433 6 -559 6 49 6 196 6 142 6 -77 6 308 6 -324 6 19 6 115 6 -150 6 322 6 -693 6 330 6 262 6 -499 6 54 6 270" fill="none" stroke="#000000" stroke-width="96.965"/>
<rect x="67.75" y="8.30" width="247.45" height="118.50" fill="none" stroke="#000" stroke-width="1.5"/>
<path d="M67.75 126.80v-7.50M67.75 8.30v7.50M88.37 126.80v-4.00M88.37 8.30v4.00M108.99 126.80v-7.50M108.99 8.30v7.50M129.61 126.80v-4.00M129.61 8.30v4.00M150.23 126.80v-7.50M150.23 8.30v7.50M170.85 126.80v-4.00M170.85 8.30v4.00M191.47 126.80v-7.50M191.47 8.30v7.50M212.10 126.80v-4.00M212.10 8.30v4.00M232.72 126.80v-7.50M232.72 8.30v7.50M253.34 126.80v-4.00M253.34 8.30v4.00M273.96 126.80v-7.50M273.96 8.30v7.50M294.58 126.80v-4.00M294.58 8.30v4.00M315.20 126.80v-7.50M315.20 8.30v7.50M67.75 126.80h7.50M315.20 126.80h-7.50M67.75 111.99h4.00M315.20 111.99h-4.00M67.75 97.17h7.50M315.20 97.17h-7.50M67.75 82.36h4.00M315.20 82.36h-4.00M67.75 67.55h7.50M315.20 67.55h-7.50M67.75 52.74h4.00M315.20 52.74h-4.00M67.75 37.92h7.50M315.20 37.92h-7.50M67.75 23.11h4.00M315.20 23.11h-4.00M67.75 8.30h7.50M315.20 8.30h-7.50" stroke="#000" stroke-width="1.5" fill="none"/>
<rect x="110.50" y="88.50" width="158.90" height="20.75" fill="#fff" stroke="#2a2a2a" stroke-width="1.15"/>
<path d="M121.00 99.60H158.00" stroke="#505050" stroke-width="1.1"/>
<text x="264.25" y="105.55" font-size="16.8" text-anchor="end">on resonance</text>
<g font-size="18.5"><text transform="translate(58.65 131.70) scale(0.96 1.02)" text-anchor="end">0.0</text>
<text transform="translate(58.65 102.08) scale(0.96 1.02)" text-anchor="end">0.5</text>
<text transform="translate(58.65 72.45) scale(0.96 1.02)" text-anchor="end">1.0</text>
<text transform="translate(58.65 42.82) scale(0.96 1.02)" text-anchor="end">1.5</text>
<text transform="translate(58.65 13.20) scale(0.96 1.02)" text-anchor="end">2.0</text></g>
<path transform="translate(403.250 8.300) scale(0.0103047)" d="M0 6118 l6 -288 6 -122 6 -40 6 -65 6 16 6 536 6 -367 6 458 6 -653 6 129 6 -125 6 210 6 10 6 124 6 514 6 -593 6 -637 6 296 6 345 6 -126 6 -28 6 236 6 -133 6 -79 6 193 6 -220 6 -178 6 91 6 128 6 102 6 -206 6 289 6 22 6 -438 6 377 6 225 6 -505 6 30 6 -93 6 280 6 -286 6 292 6 201 6 -190 6 -100 6 307 6 -208 6 -99 6 154 6 -116 6 25 6 177 6 -261 6 -56 6 590 6 -304 6 -342 6 83 6 535 6 -486 6 -267 6 119 6 24 6 199 6 -43 6 279 6 -266 6 -522 6 530 6 204 6 -330 6 584 6 -983 6 377 6 201 6 23 6 123 6 -234 6 18 6 362 6 -582 6 309 6 167 6 -463 6 43 6 300 6 19 6 -399 6 340 6 -137 6 -267 6 588 6 67 6 -150 6 -62 6 -139 6 -217 6 320 6 -484 6 336 6 501 6 -444 6 -172 6 -88 6 413 6 -139 6 -532 6 474 6 243 6 137 6 -247 6 -184 6 335 6 -561 6 480 6 263 6 -582 6 139 6 61 6 -344 6 427 6 -297 6 281 6 -494 6 371 6 -5 6 -129 6 153 6 -122 6 157 6 -195 6 126 6 138 6 -253 6 22 6 349 6 -174 6 314 6 -406 6 -166 6 -361 6 485 6 -173 6 -97 6 170 6 589 6 -318 6 -183 6 10 6 39 6 233 6 220 6 -510 6 -178 6 372 6 -235 6 247 6 -89 6 99 6 -319 6 396 6 -241 6 -173 6 210 6 274 6 -366 6 129 6 251 6 -251 6 26 6 -206 6 249 6 -132 6 -115 6 568 6 -653 6 219 6 230 6 -256 6 -204 6 390 6 -31 6 -434 6 -45 6 -95 6 439 6 224 6 2 6 -143 6 152 6 -324 6 -187 6 527 6 -575 6 538 6 -47 6 154 6 -476 6 184 6 -25 6 661 6 -521 6 -203 6 692 6 -1066 6 370 6 -175 6 316 6 -276 6 -84 6 -292 6 815 6 -708 6 714 6 -281 6 123 6 -50 6 398 6 -373 6 206 6 -227 6 -105 6 45 6 37 6 -340 6 240 6 -61 6 -169 6 318 6 -38 6 -128 6 212 6 -344 6 427 6 -96 6 -16 6 41 6 -69 6 105 6 432 6 -800 6 360 6 -264 6 410 6 -375 6 426 6 -623 6 361 6 71 6 549 6 -133 6 -399 6 31 6 -1 6 -23 6 -334 6 310 6 0 6 80 6 73 6 -326 6 180 6 -11 6 -151 6 53 6 -166 6 10 6 461 6 -114 6 -397 6 305 6 -230 6 343 6 352 6 -54 6 -341 6 -60 6 -631 6 362 6 10 6 -50 6 572 6 -378 6 37 6 -471 6 605 6 172 6 -349 6 59 6 -65 6 -32 6 17 6 179 6 -44 6 -626 6 666 6 -257 6 342 6 162 6 -596 6 158 6 -258 6 59 6 180 6 226 6 -611 6 421 6 -474 6 324 6 -50 6 64 6 34 6 149 6 -578 6 731 6 141 6 -412 6 215 6 -370 6 262 6 -308 6 246 6 198 6 -102 6 -232 6 298 6 50 6 -147 6 -112 6 -207 6 182 6 -97 6 237 6 -460 6 -77 6 642 6 -202 6 83 6 -100 6 142 6 89 6 135 6 -178 6 -118 6 -230 6 106 6 222 6 55 6 192 6 -494 6 134 6 -116 6 -33 6 47 6 147 6 43 6 161 6 -81 6 -239 6 -413 6 602 6 -144 6 -669 6 701 6 99 6 -79 6 60 6 382 6 -623 6 592 6 -273 6 -28 6 -196 6 152 6 61 6 89 6 -247 6 133 6 88 6 142 6 -106 6 -227 6 389 6 -383 6 11 6 -239 6 417 6 67 6 -197 6 66 6 503 6 -858 6 216 6 23 6 215 6 -265 6 147 6 -424 6 202 6 -165 6 600 6 -80 6 -103 6 45 6 -503 6 281 6 324 6 -182 6 -474 6 483 6 -208 6 527 6 -262 6 -91 6 23 6 -58 6 -79 6 -180 6 654 6 -408 6 -146 6 107 6 -207 6 288 6 69 6 89 6 -392 6 496 6 -193 6 -87 6 -149 6 206 6 147 6 -344 6 390 6 -92 6 289 6 -492 6 9 6 427 6 -342 6 -177 6 278 6 227 6 -355 6 -159 6 558 6 -612 6 208 6 -223 6 442 6 -445 6 139 6 -105 6 160 6 -206 6 260 6 60 6 135 6 120 6 -369 6 92 6 -52 6 40 6 -142 6 68 6 144 6 -304 6 -307 6 674 6 -99 6 -224 6 288 6 -395 6 383 6 117 6 -58 6 -452 6 694 6 -486 6 512 6 -652 6 75 6 -61 6 -337 6 496 6 -280 6 125 6 -105 6 404 6 -425 6 322 6 -408 6 118 6 196 6 -122 6 11 6 68 6 -556 6 793 6 120 6 -10 6 -245 6 -46 6 -166 6 -70 6 166 6 22 6 245 6 -440 6 -86 6 338 6 -190 6 306 6 -139 6 -28 6 -173 6 526 6 -345 6 -188 6 126 6 -73 6 718 6 -369 6 -98 6 78 6 361 6 -772 6 187 6 499 6 -329 6 -118 6 -208 6 67 6 383 6 -81 6 -199 6 -172 6 326 6 43 6 -275 6 101 6 -280 6 202 6 -117 6 676 6 -137 6 40 6 -191 6 -235 6 144 6 -178 6 289 6 -395 6 29 6 591 6 -150 6 -102 6 -328 6 9 6 -231 6 756 6 -394 6 54 6 61 6 -31 6 444 6 -541 6 164 6 192 6 -612 6 484 6 -212 6 212 6 198 6 -250 6 -178 6 303 6 -347 6 -276 6 117 6 344 6 110 6 -394 6 531 6 -82 6 -638 6 308 6 -27 6 178 6 -722 6 -70 6 754 6 -227 6 255 6 -173 6 -204 6 11 6 351 6 -150 6 -563 6 431 6 -110 6 198 6 156 6 230 6 -27 6 160 6 -133 6 -49 6 -372 6 555 6 -483 6 554 6 -1061 6 739 6 -170 6 -372 6 453 6 -69 6 -10 6 -96 6 246 6 -524 6 141 6 233 6 -252 6 309 6 99 6 -99 6 -133 6 469 6 -284 6 -180 6 361 6 -333 6 335 6 -303 6 64 6 -97 6 251 6 290 6 146 6 -1383 6 1122 6 -139 6 184 6 -710 6 156 6 -32 6 466 6 -504 6 416 6 -468 6 311 6 519 6 -513 6 181 6 -772 6 878 6 -240 6 -3 6 132 6 -25 6 -159 6 -94 6 183 6 -37 6 -63 6 224 6 -167 6 -63 6 -233 6 82 6 43 6 -99 6 398 6 -447 6 352 6 -52 6 62 6 -250 6 305 6 -286 6 218 6 37 6 -209 6 292 6 -478 6 447 6 -55 6 -391 6 625 6 -554 6 195 6 -6 6 -24 6 258 6 -595 6 258 6 -26 6 -36 6 -37 6 154 6 291 6 81 6 17 6 -210 6 -336 6 535 6 -221 6 -219 6 218 6 -17 6 188 6 -287 6 175 6 28 6 -69 6 -179 6 -139 6 493 6 -381 6 370 6 176 6 -277 6 -168 6 26 6 -99 6 554 6 -790 6 131 6 37 6 523 6 -475 6 221 6 -4 6 -116 6 372 6 -620 6 14 6 50 6 -139 6 715 6 -323 6 10 6 208 6 -475 6 -402 6 831 6 -376 6 114 6 -18 6 11 6 -134 6 302 6 -53 6 -473 6 378 6 4 6 402 6 -511 6 -33 6 78 6 -298 6 817 6 -660 6 580 6 -132 6 217 6 -645 6 220 6 72 6 -108 6 492 6 -340 6 -186 6 183 6 -121 6 349 6 -401 6 109 6 -119 6 -308 6 342 6 156 6 -227 6 345 6 -631 6 376 6 -2 6 -110 6 403 6 -283 6 48 6 -543 6 162 6 -89 6 409 6 -24 6 -207 6 398 6 55 6 -568 6 248 6 1 6 501 6 -294 6 9 6 55 6 -236 6 286 6 58 6 -717 6 337 6 345 6 -724 6 357 6 46 6 699 6 -963 6 301 6 -246 6 -112 6 686 6 -724 6 235 6 164 6 550 6 -977 6 375 6 -68 6 413 6 -412 6 8 6 -212 6 555 6 287 6 -357 6 88 6 -290 6 99 6 -84 6 -244 6 -95 6 373 6 377 6 -359 6 45 6 -27 6 16 6 -26 6 497 6 -627 6 11 6 40 6 105 6 -231 6 592 6 -361 6 -156 6 237 6 -86 6 -246 6 270 6 162 6 -91 6 -192 6 320 6 -240 6 95 6 -105 6 -158 6 5 6 150 6 -35 6 -127 6 354 6 -212 6 295 6 -541 6 257 6 313 6 -182 6 -279 6 106 6 437 6 -770 6 344 6 -35 6 154 6 113 6 157 6 -375 6 39 6 53 6 -229 6 98 6 303 6 -139 6 -345 6 563 6 -792 6 604 6 -704 6 479 6 460 6 -463 6 81 6 116 6 -109 6 0 6 746 6 -900 6 231 6 -70 6 -156 6 162 6 275 6 -462 6 257 6 -126 6 215 6 -126 6 188 6 -580 6 594 6 -456 6 641 6 -481 6 121 6 -287 6 170 6 -461 6 -150 6 786 6 -280 6 370 6 5 6 -206 6 -215 6 53 6 188 6 -295 6 520 6 -62 6 -188 6 394 6 -717 6 335 6 44 6 -175 6 403 6 -278 6 359 6 -349 6 -65 6 -334 6 359 6 -305 6 309 6 364 6 -538 6 155 6 148 6 -342 6 450 6 -152 6 -247 6 -32 6 341 6 -217 6 50 6 -123 6 194 6 428 6 -396 6 -427 6 533 6 -144 6 -234 6 240 6 194 6 -240 6 39 6 152 6 -161 6 279 6 40 6 -99 6 -214 6 -43 6 137 6 -383 6 110 6 125 6 -247 6 -81 6 177 6 288 6 -321 6 -77 6 174 6 119 6 -87 6 -15 6 492 6 -774 6 347 6 -440 6 435 6 198 6 -370 6 167 6 -181 6 300 6 5 6 51 6 2 6 -252 6 384 6 -328 6 -206 6 465 6 -166 6 126 6 -88 6 -120 6 -124 6 -43 6 352 6 -304 6 294 6 122 6 -42 6 222 6 -449 6 427 6 -461 6 -555 6 810 6 265 6 -559 6 321 6 -228 6 -8 6 -53 6 -469 6 448 6 11 6 80 6 143 6 -24 6 97 6 -436 6 230 6 -187 6 76 6 -434 6 528 6 -163 6 278 6 -402 6 306 6 -54 6 319 6 -439 6 -252 6 69 6 555 6 -450 6 362 6 214 6 -91 6 -570 6 357 6 205 6 -357 6 5 6 146 6 -182 6 196 6 -366 6 106 6 190 6 -95 6 -124 6 230 6 -143 6 148 6 47 6 362 6 -149 6 -52 6 -242 6 -584 6 814 6 -113 6 194 6 -204 6 -36 6 -209 6 475 6 -431 6 59 6 125 6 215 6 -42 6 -194 6 -177 6 154 6 150 6 -238 6 303 6 -419 6 -491 6 802 6 -369 6 458 6 -242 6 -103 6 -155 6 269 6 -303 6 600 6 -242 6 -47 6 -22 6 49 6 -453 6 511 6 -320 6 134 6 -373 6 519 6 -216 6 33 6 868 6 -831 6 -146 6 -114 6 594 6 -199 6 -328 6 539 6 -73 6 -321 6 -23 6 -150 6 49 6 209 6 288 6 -91 6 -149 6 -87 6 74 6 -172 6 356 6 -75 6 198 6 -759 6 498 6 -263 6 -66 6 208 6 124 6 72 6 -55 6 337 6 -274 6 -299 6 109 6 -125 6 7 6 21 6 137 6 -18 6 -168 6 296 6 227 6 -502 6 184 6 -239 6 397 6 231 6 -340 6 108 6 75 6 -575 6 289 6 335 6 97 6 -343 6 -158 6 70 6 -204 6 193 6 -34 6 545 6 -731 6 420 6 -339 6 569 6 -149 6 -478 6 554 6 -322 6 128 6 -489 6 311 6 -209 6 304 6 381 6 -855 6 597 6 -143 6 21 6 353 6 -525 6 252 6 317 6 -63 6 182 6 -340 6 -134 6 176 6 -210 6 74 6 -197 6 118 6 39 6 148 6 87 6 -64 6 -294 6 198 6 -447 6 148 6 501 6 -415 6 -183 6 435 6 -432 6 451 6 -533 6 240 6 177 6 331 6 -357 6 149 6 -259 6 288 6 -313 6 220 6 -245 6 -55 6 148 6 -74 6 -138 6 472 6 -358 6 81 6 -312 6 410 6 -267 6 616 6 -678 6 190 6 9 6 -118 6 496 6 -238 6 -70 6 90 6 48 6 -340 6 213 6 63 6 -65 6 -294 6 -124 6 178 6 135 6 423 6 -178 6 84 6 4 6 -492 6 413 6 -455 6 290 6 57 6 16 6 281 6 -234 6 -290 6 38 6 122 6 -121 6 121 6 -56 6 -460 6 519 6 430 6 88 6 -317 6 -217 6 -178 6 232 6 -37 6 -107 6 362 6 -213 6 -88 6 168 6 100 6 -312 6 -131 6 235 6 556 6 -357 6 -84 6 -196 6 209 6 -9 6 -322 6 -65 6 271 6 271 6 29 6 -426 6 326 6 -172 6 38 6 -77 6 -42 6 313 6 -88 6 -189 6 36 6 317 6 -748 6 757 6 -557 6 611 6 -593 6 627 6 -615 6 171 6 -143 6 354 6 -231 6 4 6 19 6 165 6 -438 6 725 6 -62 6 -16 6 -662 6 529 6 -35 6 -1 6 -94 6 -14 6 53 6 236 6 -443 6 95 6 -347 6 251 6 113 6 311 6 -349 6 -117 6 -246 6 291 6 -93 6 46 6 -237 6 112 6 250 6 343 6 -706 6 354 6 204 6 147 6 76 6 -466 6 98 6 -109 6 -209 6 421 6 -208 6 189 6 78 6 313 6 -333 6 -430 6 369 6 -189 6 42 6 -440 6 129 6 485 6 -49 6 -363 6 208 6 29 6 -246 6 138 6 94 6 -663 6 603 6 403 6 -386 6 15 6 -329 6 314 6 221 6 -230 6 367 6 -197 6 -166 6 279 6 268 6 -223 6 -52 6 -317 6 241 6 -91 6 201 6 -231 6 161 6 -274 6 77 6 -278 6 199 6 209 6 126 6 -247 6 -120 6 -188 6 485 6 176 6 118 6 -189 6 -184 6 20 6 10 6 -62 6 -85 6 462 6 -395 6 50 6 3 6 60 6 329 6 -535 6 217 6 -82 6 -97 6 61 6 -86 6 -3 6 310 6 50 6 -449 6 364 6 -672 6 747 6 -289 6 53 6 -76 6 275 6 -288 6 -381 6 581 6 379 6 -650 6 52 6 -58 6 337 6 -278 6 -108 6 312 6 -122 6 -106 6 -53 6 224 6 -98 6 -410 6 -7 6 700 6 -735 6 582 6 -328 6 523 6 -236 6 104 6 -334 6 140 6 -53 6 10 6 45 6 -163 6 181 6 48 6 125 6 61 6 -83 6 -205 6 -149 6 261 6 -482 6 170 6 274 6 -71 6 85 6 412 6 -602 6 136 6 430 6 -580 6 327 6 -73 6 336 6 -381 6 -106 6 194 6 -94 6 428 6 -549 6 132 6 -2 6 -162 6 -82 6 253 6 -224 6 -211 6 665 6 -268 6 391 6 -449 6 -233 6 344 6 230 6 -138 6 -217 6 435 6 -20 6 -426 6 415 6 -327 6 260 6 122 6 -550 6 -73 6 435 6 -705 6 489 6 -86 6 78 6 287 6 -483 6 201 6 -84 6 80 6 124 6 -628 6 435 6 153 6 -205 6 429 6 -361 6 -535 6 772 6 -267 6 382 6 -277 6 -248 6 487 6 -19 6 -479 6 205 6 -92 6 30 6 417 6 96 6 41 6 -545 6 438 6 82 6 -278 6 -94 6 -94 6 476 6 -719 6 520 6 -250 6 44 6 217 6 -320 6 13 6 -182 6 -182 6 -52 6 272 6 61 6 239 6 262 6 -443 6 230 6 -72 6 48 6 -207 6 189 6 -641 6 346 6 317 6 -203 6 -238 6 597 6 -325 6 171 6 -136 6 126 6 -155 6 -65 6 -39 6 486 6 -505 6 155 6 153 6 -134 6 -384 6 406 6 164 6 -365 6 208 6 -209 6 99 6 -254 6 454 6 -53 6 -340 6 -142 6 343 6 -231 6 169 6 106 6 384 6 -868 6 216 6 792 6 -706 6 319 6 98 6 -104 6 -300 6 182 6 36 6 -11 6 49 6 -210 6 592 6 -164 6 -268 6 231 6 -307 6 123 6 -178 6 129 6 -178 6 137 6 -170 6 247 6 322 6 -409 6 -4 6 117 6 -346 6 108 6 -236 6 438 6 3 6 -210 6 -226 6 500 6 -274 6 119 6 61 6 -280 6 7 6 37 6 310 6 -149 6 381 6 -507 6 417 6 -234 6 -256 6 246 6 -90 6 185 6 -748 6 871 6 -147 6 -102 6 -634 6 726 6 -145 6 -172 6 664 6 -690 6 118 6 -265 6 -7 6 232 6 -142 6 399 6 111 6 -210 6 -100 6 114 6 -171 6 -49 6 -255 6 431 6 69 6 -216 6 54 6 -84 6 -256 6 571 6 -357 6 -141 6 14 6 626 6 -267 6 -362 6 288 6 -101 6 124 6 -319 6 236 6 119 6 -89 6 -294 6 223 6 457 6 103 6 -623 6 532 6 -407 6 193 6 -209 6 213 6 370 6 -846 6 323 6 30 6 -391 6 195 6 -93 6 292 6 -77 6 -75 6 234 6 -321 6 85 6 163 6 19 6 -286 6 228 6 -129 6 23 6 105 6 666 6 -793 6 -104 6 316 6 3 6 -345 6 456 6 -541 6 145 6 -183 6 308 6 -36 6 -42 6 396 6 -148 6 -440 6 388 6 57 6 -285 6 -232 6 308 6 43 6 -57 6 -103 6 430 6 -424 6 -15 6 -143 6 -12 6 88 6 -300 6 427 6 22 6 -381 6 320 6 146 6 -13 6 -119 6 282 6 -508 6 142 6 -213 6 486 6 -150 6 58 6 -256 6 25 6 -84 6 5 6 372 6 -294 6 34 6 16 6 -117 6 498 6 -259 6 -93 6 113 6 59 6 -441 6 4 6 -179 6 542 6 280 6 -622 6 201 6 145 6 -335 6 117 6 330 6 -380 6 347 6 -453 6 357 6 46 6 -464 6 -53 6 233 6 171 6 -363 6 86 6 -32 6 116 6 210 6 -214 6 -390 6 405 6 -121 6 -22 6 -208 6 118 6 126 6 -463 6 322 6 -39 6 176 6 152 6 -394 6 140 6 -141 6 473 6 -760 6 298 6 -160 6 341 6 -236 6 -26 6 -194 6 46 6 509 6 -435 6 -1 6 66 6 -116 6 -83 6 -86 6 363 6 -71 6 -179 6 -129 6 271 6 -192 6 205 6 -250 6 18 6 -140 6 -172 6 352 6 -229 6 321 6 -344 6 -269 6 535 6 -196 6 419 6 -623 6 -314 6 487 6 -232 6 -196 6 322 6 -182 6 127 6 -74 6 -107 6 -160 6 72 6 13 6 -10 6 -220 6 58 6 -17 6 304 6 -274 6 92 6 -440 6 123 6 -144 6 287 6 62 6 -138 6 -234 6 143 6 -226 6 -120 6 183 6 -210 6 369 6 -165 6 -121 6 -76 6 89 6 -171 6 -210 6 -19 6 4 6 106 6 -306 6 39 6 131 6 -259 6 90 6 -141 6 -33 6 -71 6 -137 6 -144 6 144 6 -30 6 -40 6 -97 6 -66 6 97 6 -168 6 -223 6 60 6 -77 6 23 6 -203 6 49 6 2 6 -30 6 -127 6 -124 6 81 6 -35 6 16 6 -196 6 38 6 -59 6 -28 6 -46 6 -101 6 29 6 -63 6 9 6 -34 6 -53 6 -12 6 55 6 -45 6 33 6 -52 6 54 6 24 6 -46 6 71 6 -2 6 5 6 81 6 26 6 -1 6 -35 6 116 6 37 6 82 6 52 6 -31 6 174 6 52 6 -75 6 193 6 88 6 -56 6 20 6 0 6 19 6 391 6 -99 6 66 6 -1 6 159 6 -21 6 32 6 61 6 151 6 -50 6 160 6 50 6 -8 6 -59 6 344 6 -157 6 -111 6 181 6 124 6 -44 6 -111 6 249 6 108 6 -135 6 168 6 97 6 -152 6 253 6 -29 6 -177 6 194 6 -113 6 452 6 1 6 -62 6 -55 6 289 6 -270 6 145 6 30 6 -47 6 74 6 175 6 -114 6 178 6 -355 6 304 6 -1 6 92 6 -80 6 -5 6 86 6 175 6 -324 6 212 6 332 6 88 6 -159 6 34 6 109 6 -93 6 -197 6 -135 6 198 6 3 6 -119 6 -162 6 202 6 116 6 152 6 176 6 -236 6 -120 6 179 6 174 6 -187 6 142 6 112 6 274 6 -449 6 241 6 -323 6 353 6 -118 6 138 6 -424 6 91 6 276 6 -261 6 528 6 -350 6 247 6 -66 6 76 6 -191 6 479 6 -245 6 -348 6 730 6 -393 6 236 6 279 6 -599 6 188 6 -340 6 642 6 -439 6 -234 6 706 6 -495 6 0 6 109 6 -233 6 158 6 293 6 21 6 -120 6 -357 6 375 6 -203 6 223 6 -151 6 27 6 -136 6 -118 6 495 6 144 6 -216 6 -1 6 -56 6 -148 6 307 6 -82 6 5 6 -226 6 333 6 -339 6 -152 6 467 6 -345 6 192 6 138 6 -442 6 172 6 339 6 -183 6 273 6 159 6 -522 6 232 6 -351 6 328 6 -20 6 89 6 -55 6 214 6 -117 6 336 6 22 6 -93 6 -156 6 -112 6 25 6 -293 6 -279 6 1080 6 -847 6 118 6 338 6 -156 6 468 6 -375 6 -394 6 617 6 -127 6 -151 6 -123 6 144 6 131 6 -258 6 278 6 -660 6 260 6 257 6 207 6 -50 6 41 6 -86 6 -165 6 387 6 -323 6 39 6 219 6 -498 6 183 6 38 6 203 6 40 6 -170 6 340 6 -406 6 338 6 -247 6 -151 6 212 6 88 6 26 6 -197 6 285 6 -236 6 -227 6 645 6 -243 6 -237 6 314 6 -13 6 45 6 -466 6 677 6 -450 6 21 6 -47 6 183 6 -191 6 136 6 80 6 -773 6 356 6 474 6 -83 6 -256 6 -224 6 369 6 -202 6 116 6 -218 6 388 6 53 6 -235 6 2 6 52 6 -265 6 121 6 132 6 290 6 -418 6 -38 6 341 6 -125 6 231 6 -276 6 78 6 353 6 -401 6 76 6 3 6 -311 6 127 6 -88 6 271 6 -377 6 479 6 -339 6 505 6 -387 6 281 6 100 6 -480 6 109 6 -69 6 105 6 -51 6 69 6 29 6 -63 6 -494 6 751 6 111 6 -131 6 -56 6 -274 6 -128 6 -11 6 309 6 -213 6 -258 6 275 6 -152 6 516 6 -421 6 19 6 461 6 -286 6 -132 6 344 6 -407 6 -15 6 153 6 94 6 20 6 -129 6 -169 6 566 6 -352 6 -12 6 256 6 96 6 -242 6 335 6 -433 6 116 6 188 6 -253 6 198 6 -28 6 -432 6 446 6 408 6 -652 6 308 6 -33 6 -556 6 370 6 -203 6 505 6 -79 6 -45 6 -355 6 319 6 289 6 -613 6 293 6 -139 6 -154 6 -321 6 504 6 -370 6 677 6 -352 6 -31 6 577 6 -282 6 -58 6 -280 6 226 6 -16 6 59 6 -260 6 119 6 4 6 36 6 -210 6 318 6 -157 6 -11 6 -83 6 -145 6 151 6 383 6 -534 6 -51 6 -14 6 91 6 553 6 -329 6 -211 6 -6 6 207 6 -51 6 278 6 -340 6 563 6 -423 6 -270 6 492 6 -563 6 -157 6 327 6 237 6 -8 6 165 6 -442 6 419 6 -295 6 292 6 -372 6 437 6 -287 6 137 6 -396 6 324 6 -54 6 -294 6 511 6 30 6 -267 6 220 6 -615 6 351 6 -26 6 134 6 643 6 -1007 6 318 6 436 6 -216 6 -240 6 -287 6 205 6 -6 6 9 6 279 6 -53 6 -155 6 310 6 -313 6 -144 6 692 6 -488 6 11 6 -84 6 -377 6 715 6 -758 6 287 6 -411 6 652 6 -168 6 111 6 -143 6 319 6 -24 6 -140 6 -185 6 445 6 -222 6 68 6 -210 6 -122 6 530 6 -110 6 -149 6 152 6 -556 6 -62 6 215 6 54 6 371 6 -31 6 -317 6 -243 6 421 6 -146 6 -303 6 -28 6 626 6 -292 6 -108 6 550 6 -268 6 -153 6 166 6 -241 6 209 6 306 6 -105 6 204 6 -184 6 -436 6 69 6 -50 6 -181 6 559 6 -148 6 -142 6 -354 6 318 6 96 6 -100 6 277 6 243 6 -559 6 207 6 -200 6 375 6 -66 6 -380 6 127 6 -170 6 371 6 -171 6 -141 6 -48 6 216 6 -77 6 86 6 14 6 -20 6 -117 6 411 6 -296 6 225 6 -236 6 63 6 -97 6 100 6 -22 6 285 6 -636 6 631 6 122 6 -511 6 -54 6 155 6 55 6 186 6 -684 6 815 6 -923 6 895 6 -129 6 -177 6 46 6 -214 6 307 6 -116 6 283 6 -633 6 339 6 104 6 -179 6 -204 6 123 6 245 6 -199 6 -44 6 -20 6 165 6 -226 6 407 6 -282 6 214 6 -202 6 147 6 -289 6 246 6 -364 6 484 6 -448 6 429 6 371 6 -338 6 -426 6 152 6 -65 6 200 6 -166 6 304 6 -622 6 30 6 259 6 235 6 16 6 -292 6 59 6 287 6 -376 6 -30 6 69 6 35 6 35 6 53 6 68 6 70 6 -420 6 633 6 -380 6 -170 6 -328 6 602 6 -392 6 20 6 74 6 -206 6 796 6 -603 6 244 6 -124 6 131 6 160 6 234 6 -521 6 150 6 249 6 -273 6 225 6 -52 6 -240 6 -135 6 620 6 -420 6 -155 6 426 6 -216 6 -144 6 -139 6 476 6 111 6 -229 6 -25 6 -107 6 -18 6 454 6 -606 6 544 6 -458 6 -36 6 19 6 27 6 -12 6 262 6 10 6 -675 6 123 6 53 6 119 6 552 6 -792 6 479 6 -44 6 -181 6 329 6 -453 6 854 6 -835 6 163 6 314 6 -389 6 -73 6 84 6 -32 6 273 6 -299 6 0 6 -53 6 143 6 536 6 -504 6 424 6 -122 6 -147 6 -67 6 108 6 -141 6 -41 6 77 6 25 6 -62 6 -77 6 372 6 132 6 -585 6 215 6 563 6 -788 6 -5 6 684 6 -148 6 -153 6 162 6 -135 6 -130 6 -242 6 798 6 -592 6 -231 6 812 6 -636 6 89 6 115 6 -308 6 -131 6 51 6 -220 6 638 6 310 6 -353 6 -162 6 -232 6 145 6 263 6 -456 6 211 6 50 6 100 6 -141 6 -39 6 126 6 560 6 -350 6 -305 6 -263 6 90 6 16 6 -147 6 244 6 -151 6 69 6 179 6 262 6 171 6 -481 6 387 6 -261 6 -195 6 334 6 -377 6 195 6 222 6 -342 6 -33 6 280 6 -230 6 378 6 -291 6 -42 6 308 6 -263 6 -313 6 485 6 115 6 68 6 -152 6 77 6 127 6 -409 6 -54 6 303 6 -242 6 -203 6 133 6 39 6 -116 6 311 6 -361 6 -227 6 586 6 285 6 -269 6 64 6 -285 6 -231 6 149 6 -269 6 294 6 86 6 469 6 -542 6 239 6 -24 6 -62 6 -437 6 173 6 196 6 336 6 -232 6 -37 6 -265 6 76 6 5 6 341 6 -439 6 -405 6 951 6 -84 6 -254 6 -211 6 167 6 37 6 -319 6 593 6 228 6 -121 6 -539 6 -34 6 312 6 246 6 -131 6 -289 6 -135 6 371 6 49 6 23 6 -71 6 -296 6 113 6 -39 6 59 6 -21 6 349 6 -56 6 -327 6 -13 6 -159 6 268 6 185 6 -156 6 9 6 -180 6 162 6 -160 6 -9 6 0 6 -13 6 365 6 -497 6 -122 6 187 6 -182 6 269 6 221 6 -252 6 131 6 20 6 -401 6 575 6 -467 6 390 6 270 6 -572 6 143 6 -27 6 -10 6 -195 6 165 6 140 6 -40 6 -126 6 230 6 -218 6 557 6 -440 6 -24 6 -166 6 411 6 -201 6 -151 6 -544 6 605 6 -98 6 263 6 -614 6 543 6 3 6 -88 6 332 6 -66 6 -148 6 106 6 -406 6 337 6 -619 6 446 6 229 6 -202 6 -120 6 158 6 -98 6 152 6 127 6 -153 6 -416 6 487 6 -75 6 332 6 -196 6 -222 6 153 6 -338 6 43 6 322 6 -77 6 -173 6 68 6 151 6 346 6 -724 6 304 6 -32 6 198 6 -495 6 360 6 -65 6 495 6 -349 6 -90 6 -101 6 -66 6 200 6 -274 6 259 6 11 6 -36 6 377 6 122 6 -910 6 805 6 -253 6 -268 6 283 6 -401 6 693 6 -471 6 -109 6 -352 6 160 6 495 6 -357 6 132 6 336 6 -157 6 -352 6 304 6 150 6 -74 6 144 6 71 6 -436 6 -20 6 -131 6 583 6 -94 6 -347 6 63 6 73 6 229 6 -197 6 247 6 -661 6 187 6 379 6 -499 6 510 6 -361 6 94 6 127 6 -392 6 674 6 -296 6 0 6 328 6 -62 6 -367 6 -29 6 282 6 -350 6 21 6 -69 6 227 6 -33 6 -158 6 261 6 62 6 83 6 -385 6 -171 6 695 6 -353 6 -226 6 -173 6 270 6 239 6 -343 6 -360 6 428 6 -74 6 -231 6 713 6 -512 6 -151 6 106 6 178 6 119 6 43 6 166 6 -178 6 151 6 -240 6 27 6 82 6 -39 6 -103 6 286 6 -411 6 99 6 -90 6 202 6 -28 6 -77 6 7 6 110 6 -14 6 44 6 -35 6 83 6 11 6 43 6 -519 6 448 6 -124 6 193 6 -247 6 -237 6 427 6 -193 6 49 6 -205 6 206 6 5 6 28 6 376 6 -645 6 -143 6 542 6 -370 6 185 6 -317 6 431 6 -213 6 -193 6 167 6 74 6 53 6 122 6 -163 6 239 6 -571 6 237 6 153 6 294 6 -558 6 -62 6 192 6 -95 6 0 6 197 6 49 6 -83 6 -245 6 392 6 217 6 -365 6 2 6 44 6 -57 6 291 6 -68 6 -99 6 -68 6 -124 6 -47 6 114 6 74 6 180 6 -108 6 236 6 -181 6 -242 6 -31 6 340 6 -469 6 757 6 -617 6 114 6 35 6 -120 6 175 6 -570 6 581 6 -27 6 -138 6 487 6 -391 6 274 6 -592 6 397 6 -78 6 354 6 -769 6 760 6 -56 6 -154 6 329 6 -200 6 -194 6 -317 6 -10 6 489 6 -127 6 -266 6 -109 6 435 6 -124 6 -53 6 -33 6 85 6 -441 6 434 6 -306 6 140 6 -648 6 442 6 734 6 -555 6 582 6 -735 6 357 6 394 6 -241 6 -140 6 -387 6 292 6 -83 6 251 6 -39 6 221 6 -235 6 -24 6 -42 6 167 6 -130 6 52 6 -149 6 194 6 -6 6 65 6 -42 6 -86 6 161 6 -493 6 48 6 144 6 -86 6 433 6 -128 6 -36 6 -154 6 -124 6 -12 6 505 6 -306 6 -257 6 301 6 -159 6 469 6 -376 6 67 6 378 6 -610 6 -126 6 121 6 254 6 -46 6 113 6 -277 6 31 6 -212 6 314 6 -205 6 253 6 106 6 -153 6 185 6 1 6 -351 6 10 6 326 6 26 6 -153 6 121 6 -318 6 227 6 216 6 -100 6 -278 6 -357 6 337 6 413 6 -100 6 -235 6 73 6 -69 6 -406 6 666 6 -13 6 -203 6 -19 6 -39 6 -134 6 184 6 -236 6 191 6 -44 6 459 6 -186 6 -105 6 -227 6 282 6 71 6 -47 6 -539 6 699 6 -375 6 39 6 -303 6 161 6 222 6 -257 6 -99 6 360 6 286 6 -103 6 -272 6 233 6 -251 6 -219 6 202 6 -432 6 505 6 238 6 -309 6 -173 6 517 6 -403 6 -261 6 313 6 -351 6 726 6 -451 6 490 6 15 6 -59 6 -551 6 164 6 -239 6 493 6 183 6 -560 6 342 6 182 6 -502 6 -59 6 397 6 -202 6 -88 6 327 6 -27 6 -241 6 -300 6 575 6 -394 6 49 6 85 6 85 6 141 6 -333 6 173 6 526 6 -625 6 249 6 -146 6 -480 6 374 6 538 6 -366 6 159 6 -478 6 963 6 -866 6 116 6 90 6 -173 6 -310 6 818 6 -301 6 -110 6 -12 6 62 6 -165 6 75 6 127 6 322 6 -573 6 -178 6 62 6 169 6 -174 6 600 6 -516 6 102 6 91 6 -273 6 296 6 47 6 143 6 184 6 -309 6 -497 6 -26 6 556 6 -173 6 -310 6 578 6 -130 6 216 6 -682 6 508 6 -60 6 -75 6 187 6 -775 6 316 6 -217 6 944 6 -641 6 212 6 215 6 -274 6 -349 6 100 6 382 6 -884 6 502 6 447 6 6 6 -48 6 -128 6 100 6 28 6 -368 6 366 6 -181 6 172 6 -86 6 -330 6 264 6 -173 6 194 6 -273 6 263 6 -270 6 557 6 -550 6 151 6 316 6 -56 6 303 6 -393 6 -102 6 165 6 -360 6 737 6 -443 6 237 6 -166 6 -313 6 200 6 -343 6 423 6 69 6 -86 6 276 6 -138 6 -182 6 -228 6 446 6 -20 6 158 6 -40 6 -303 6 -23 6 -62 6 137 6 -302 6 643 6 -393 6 -154 6 222 6 -175 6 151 6 34 6 -123 6 185 6 -142 6 -145 6 389 6 -409 6 -112 6 -110 6 449 6 -333 6 682 6 -109 6 -328 6 271 6 -39 6 19 6 -159 6 78 6 68 6 -207 6 111 6 -119 6 -70 6 -56 6 175 6 48 6 -1 6 150 6 -350 6 117 6 -249 6 169 6 180 6 -304 6 259 6 -50 6 -121 6 51 6 227 6 -330 6 70 6 92 6 40 6 -98 6 391 6 -630 6 850 6 -330 6 -6 6 -306 6 80 6 -71 6 353 6 -540 6 67 6 669 6 -511 6 478 6 -308 6 -247 6 119 6 298 6 -152 6 -381 6 203 6 -123 6 540 6 -495 6 73 6 255 6 -525 6 321 6 -204 6 307 6 -202 6 -30 6 143 6 -49 6 -45 6 89 6 257 6 -353 6 100 6 -82 6 236 6 -517 6 135 6 -106 6 -110 6 195 6 285 6 215 6 -533 6 190 6 -124 6 -108 6 329 6 168 6 -294 6 186 6 88 6 -268 6 139 6 -167 6 351 6 -214 6 31 6 -51 6 127 6 -277 6 462 6 -415 6 -142 6 243 6 -20 6 186 6 -226 6 -39 6 57 6 -42 6 -39 6 70 6 450 6 -154 6 -222 6 -495 6 236 6 240 6 38 6 52 6 -223 6 194 6 -78 6 204 6 -98 6 121 6 -43 6 -96 6 -333 6 180 6 -151 6 329 6 -161 6 191 6 -90 6 -6 6 318 6 -363 6 271 6 -366 6 244 6 201 6 -81 6 -64 6 -503 6 583 6 -189 6 -119 6 75 6 -24 6 -163 6 302 6 -529 6 82 6 250 6 -250 6 268 6 117 6 167 6 -114 6 -268 6 52 6 -273 6 8 6 144 6 165 6 -357 6 393 6 509 6 -460 6 -157 6 -23 6 -2 6 -44 6 727 6 -1054 6 375 6 102 6 437 6 -597 6 403 6 208 6 -558 6 11 6 147 6 169 6 -289 6 79 6 -60 6 -16 6 417 6 -421 6 371 6 -375 6 184 6 28 6 -464 6 308 6 5 6 -128 6 -305 6 1096 6 -735 6 99 6 -237 6 240 6 17 6 -141 6 136 6 184 6 -199 6 -402 6 277 6 634 6 -475 6 185 6 -420 6 456 6 -230 6 -131 6 -72 6 319 6 -196 6 -438 6 644 6 -156 6 200 6 -151 6 -151 6 98 6 -135 6 428 6 -315 6 102 6 565 6 -879 6 218 6 157 6 -369 6 118 6 641 6 -626 6 -434 6 468 6 -118 6 560 6 -27 6 -27 6 -560 6 33 6 767 6 -760 6 670 6 -152 6 -294 6 135 6 -144 6 -59 6 -215 6 371 6 42 6 10 6 -706 6 279 6 -8 6 141 6 71 6 -267 6 338 6 328 6 19 6 -931 6 805 6 -82 6 -117 6 -276 6 494 6 -203 6 -136 6 378 6 -307 6 -233 6 194 6 34 6 -91 6 128 6 87 6 20 6 -311 6 565 6 -99 6 -454 6 -91 6 249 6 217 6 175 6 -503 6 96 6 -35 6 -17 6 335 6 -63 6 -147 6 19 6 328 6 -85 6 -237 6 -362 6 -227 6 488 6 131 6 -141 6 51 6 213 6 545 6 -782 6 182 6 -128 6 211 6 -148 6 -112 6 341 6 -145 6 -305 6 -37 6 583 6 -591 6 -116 6 199 6 -9 6 72 6 -59 6 198 6 -403 6 299 6 325 6 -451 6 -84 6 113 6 319 6 -368 6 802 6 -1046 6 260 6 538 6 62 6 -1015 6 490 6 219 6 -242 6 127 6 -5 6 -115 6 4 6 308 6 -311 6 20 6 273 6 -443 6 96 6 355 6 -643 6 282 6 -189 6 484 6 -62 6 -139 6 159 6 -82 6 280 6 -794 6 347 6 -180 6 -97 6 407 6 -466 6 989 6 -445 6 38 6 -113 6 253 6 -462 6 -251 6 398 6 -84 6 633 6 -326 6 -260 6 245 6 -224 6 160 6 -173 6 398 6 -435 6 -210 6 167 6 -326 6 505 6 -223 6 499 6 -518 6 102 6 173 6 -317 6 521 6 -204 6 -129 6 299 6 -5 6 -450 6 307 6 156 6 -127 6 24 6 42 6 -253 6 320 6 96 6 -347 6 29 6 -294 6 577 6 -169 6 -360 6 151 6 210 6 58 6 -341 6 165 6 180 6 -87 6 -9 6 -303 6 790 6 -446 6 -405 6 657 6 -316 6 -254 6 489 6 -173 6 73 6 -234 6 187 6 91 6 -259 6 -28 6 -208 6 345 6 -52 6 93 6 -395 6 -7 6 453 6 301 6 -919 6 857 6 -25 6 -270 6 -553 6 177 6 309 6 -215 6 197 6 -291 6 351 6 -459 6 229 6 260 6 261 6 -649 6 141 6 339 6 -14 6 -93 6 -32 6 -38 6 -35 6 -4 6 128 6 -592 6 526 6 85 6 -270 6 320 6 -297 6 67 6 -201 6 450 6 210 6 -692 6 305 6 -433 6 227 6 267 6 -181 6 342 6 -44 6 -224 6 -26 6 406 6 -553 6 57 6 -120 6 563 6 -458 6 268 6 -31 6 -344 6 221 6 -116 6 -72 6 -54 6 460 6 5 6 -293 6 -45 6 284 6 -254 6 282 6 -132 6 -39 6 -75 6 -103 6 220 6 -111 6 218 6 -353 6 35 6 243 6 -548 6 438 6 41 6 30 6 -180 6 49 6 173 6 -247 6 -127 6 -94 6 196 6 188 6 95 6 -289 6 -160 6 -215 6 559 6 170 6 -23 6 -293 6 -67 6 307 6 102 6 166 6 -581 6 504 6 -461 6 169 6 399 6 -178 6 -470 6 219 6 53 6 -321 6 280 6 -30 6 -3 6 8 6 -223 6 359 6 -361 6 -95 6 452" fill="none" stroke="#000000" stroke-width="97.043"/>
<rect x="403.25" y="8.30" width="247.25" height="118.50" fill="none" stroke="#000" stroke-width="1.5"/>
<path d="M403.25 126.80v-7.50M403.25 8.30v7.50M423.85 126.80v-4.00M423.85 8.30v4.00M444.46 126.80v-7.50M444.46 8.30v7.50M465.06 126.80v-4.00M465.06 8.30v4.00M485.67 126.80v-7.50M485.67 8.30v7.50M506.27 126.80v-4.00M506.27 8.30v4.00M526.88 126.80v-7.50M526.88 8.30v7.50M547.48 126.80v-4.00M547.48 8.30v4.00M568.08 126.80v-7.50M568.08 8.30v7.50M588.69 126.80v-4.00M588.69 8.30v4.00M609.29 126.80v-7.50M609.29 8.30v7.50M629.90 126.80v-4.00M629.90 8.30v4.00M650.50 126.80v-7.50M650.50 8.30v7.50M403.25 126.80h7.50M650.50 126.80h-7.50M403.25 111.99h4.00M650.50 111.99h-4.00M403.25 97.17h7.50M650.50 97.17h-7.50M403.25 82.36h4.00M650.50 82.36h-4.00M403.25 67.55h7.50M650.50 67.55h-7.50M403.25 52.74h4.00M650.50 52.74h-4.00M403.25 37.92h7.50M650.50 37.92h-7.50M403.25 23.11h4.00M650.50 23.11h-4.00M403.25 8.30h7.50M650.50 8.30h-7.50" stroke="#000" stroke-width="1.5" fill="none"/>
<rect x="445.55" y="88.55" width="158.90" height="20.70" fill="#fff" stroke="#2a2a2a" stroke-width="1.15"/>
<path d="M456.05 99.65H493.05" stroke="#505050" stroke-width="1.1"/>
<text x="599.65" y="105.55" font-size="16.8" text-anchor="end">on resonance</text>
<g font-size="18.5"><text transform="translate(394.15 131.70) scale(0.96 1.02)" text-anchor="end">0.0</text>
<text transform="translate(394.15 102.08) scale(0.96 1.02)" text-anchor="end">0.5</text>
<text transform="translate(394.15 72.45) scale(0.96 1.02)" text-anchor="end">1.0</text>
<text transform="translate(394.15 42.82) scale(0.96 1.02)" text-anchor="end">1.5</text>
<text transform="translate(394.15 13.20) scale(0.96 1.02)" text-anchor="end">2.0</text></g>
<path transform="translate(67.750 167.000) scale(0.0103130)" d="M0 5594 l6 322 6 -244 6 -226 6 56 6 264 6 -192 6 15 6 74 6 -7 6 -354 6 900 6 -397 6 -291 6 197 6 -91 6 8 6 105 6 -48 6 151 6 -146 6 -151 6 -49 6 96 6 151 6 28 6 257 6 -296 6 151 6 -51 6 -68 6 -80 6 -14 6 25 6 222 6 -130 6 -222 6 154 6 -101 6 69 6 -283 6 -32 6 -180 6 573 6 -230 6 409 6 -394 6 50 6 164 6 -359 6 251 6 333 6 -592 6 270 6 -138 6 283 6 22 6 88 6 -27 6 -350 6 33 6 428 6 -319 6 -5 6 156 6 -204 6 211 6 -340 6 247 6 -88 6 711 6 -578 6 -93 6 129 6 -78 6 142 6 -350 6 370 6 -138 6 -338 6 53 6 233 6 243 6 124 6 -453 6 39 6 100 6 0 6 -469 6 237 6 170 6 43 6 25 6 -132 6 114 6 -71 6 105 6 -232 6 98 6 269 6 -788 6 509 6 145 6 149 6 -256 6 135 6 -452 6 230 6 218 6 229 6 -503 6 485 6 -423 6 69 6 565 6 -489 6 -373 6 499 6 266 6 -105 6 -319 6 -73 6 -107 6 111 6 239 6 -100 6 -40 6 -14 6 215 6 -373 6 -89 6 241 6 -57 6 279 6 -291 6 199 6 17 6 -333 6 131 6 120 6 231 6 -329 6 -321 6 259 6 17 6 -196 6 -178 6 301 6 -91 6 161 6 -58 6 7 6 -132 6 312 6 -157 6 1 6 78 6 101 6 -280 6 235 6 232 6 -451 6 427 6 -439 6 653 6 -501 6 -357 6 398 6 -273 6 310 6 72 6 -95 6 -246 6 -67 6 -28 6 106 6 183 6 394 6 -249 6 -450 6 621 6 -416 6 11 6 422 6 -403 6 148 6 -118 6 61 6 22 6 142 6 216 6 -753 6 527 6 -120 6 23 6 -17 6 90 6 -261 6 113 6 96 6 22 6 -222 6 285 6 -291 6 -160 6 51 6 100 6 445 6 -481 6 91 6 -222 6 384 6 -20 6 -385 6 451 6 -391 6 161 6 563 6 -402 6 3 6 176 6 112 6 -393 6 220 6 -70 6 56 6 -141 6 -149 6 -62 6 58 6 176 6 -39 6 -149 6 -134 6 268 6 240 6 -317 6 -68 6 220 6 -333 6 335 6 -96 6 -75 6 -248 6 561 6 -346 6 -49 6 181 6 -231 6 338 6 104 6 15 6 -111 6 79 6 -319 6 99 6 293 6 -610 6 269 6 383 6 41 6 -387 6 -262 6 338 6 -258 6 -135 6 183 6 212 6 199 6 -131 6 -403 6 263 6 207 6 -119 6 -42 6 -269 6 345 6 -497 6 333 6 -27 6 300 6 -310 6 29 6 -93 6 290 6 -187 6 356 6 -108 6 -677 6 568 6 64 6 -339 6 218 6 -570 6 519 6 -129 6 197 6 -286 6 224 6 -548 6 702 6 -238 6 -56 6 381 6 -124 6 52 6 184 6 -406 6 651 6 -320 6 -32 6 -289 6 87 6 -243 6 -33 6 212 6 232 6 -344 6 295 6 -83 6 -74 6 -297 6 -241 6 289 6 347 6 -288 6 -71 6 435 6 -207 6 167 6 -11 6 -145 6 -11 6 185 6 -161 6 256 6 -217 6 -64 6 125 6 217 6 -155 6 -236 6 -117 6 3 6 -13 6 -147 6 441 6 -320 6 396 6 -517 6 155 6 402 6 -344 6 -63 6 366 6 -232 6 -109 6 -198 6 487 6 -425 6 516 6 -36 6 -440 6 120 6 306 6 -465 6 208 6 63 6 96 6 466 6 -525 6 -190 6 202 6 -157 6 167 6 -300 6 867 6 -685 6 286 6 -230 6 -91 6 -101 6 70 6 -80 6 447 6 -231 6 470 6 -510 6 403 6 -550 6 176 6 98 6 74 6 -168 6 159 6 167 6 -368 6 254 6 -270 6 290 6 52 6 -696 6 330 6 -124 6 298 6 -45 6 -6 6 -399 6 261 6 116 6 28 6 -22 6 -200 6 204 6 -6 6 -263 6 76 6 35 6 -236 6 416 6 208 6 99 6 -313 6 -62 6 -149 6 486 6 -18 6 -225 6 14 6 226 6 -247 6 -176 6 191 6 -521 6 326 6 311 6 -119 6 245 6 -725 6 493 6 7 6 -210 6 215 6 69 6 -120 6 -220 6 -1 6 485 6 54 6 -422 6 155 6 30 6 -308 6 123 6 193 6 -228 6 275 6 -46 6 -484 6 428 6 -162 6 165 6 11 6 161 6 4 6 -487 6 -193 6 308 6 20 6 227 6 -99 6 -319 6 -223 6 385 6 60 6 -144 6 195 6 183 6 24 6 -124 6 27 6 399 6 -115 6 -530 6 -32 6 30 6 212 6 91 6 -128 6 -75 6 164 6 -321 6 361 6 338 6 -616 6 -45 6 219 6 -248 6 -31 6 764 6 -606 6 328 6 -386 6 88 6 -119 6 225 6 68 6 -180 6 -438 6 405 6 301 6 -206 6 44 6 -311 6 233 6 89 6 -100 6 180 6 -241 6 318 6 -128 6 -137 6 322 6 -7 6 -115 6 -456 6 125 6 158 6 -192 6 28 6 299 6 101 6 -471 6 379 6 -266 6 449 6 -301 6 236 6 -388 6 -21 6 75 6 -81 6 271 6 -192 6 -40 6 299 6 -302 6 67 6 -39 6 145 6 -38 6 -110 6 74 6 -92 6 389 6 -466 6 355 6 -375 6 506 6 -166 6 -179 6 -29 6 174 6 91 6 -309 6 -86 6 392 6 64 6 -123 6 -97 6 333 6 -150 6 -342 6 295 6 5 6 -475 6 89 6 -120 6 339 6 27 6 56 6 213 6 130 6 -411 6 140 6 -286 6 -70 6 506 6 -29 6 -326 6 -241 6 -33 6 456 6 -153 6 -279 6 444 6 48 6 -475 6 417 6 98 6 -566 6 408 6 -5 6 -202 6 -187 6 143 6 110 6 -37 6 -2 6 28 6 408 6 -412 6 336 6 -124 6 -177 6 50 6 -98 6 78 6 -102 6 -273 6 593 6 -445 6 -152 6 460 6 -14 6 -51 6 -115 6 236 6 -69 6 -67 6 -20 6 -275 6 387 6 -268 6 7 6 121 6 9 6 192 6 -20 6 -219 6 25 6 101 6 -287 6 205 6 15 6 45 6 -247 6 103 6 48 6 318 6 -595 6 620 6 -361 6 319 6 77 6 331 6 -665 6 -28 6 134 6 23 6 182 6 -263 6 48 6 245 6 -204 6 -28 6 159 6 -447 6 485 6 -654 6 160 6 325 6 -422 6 99 6 -24 6 212 6 234 6 228 6 -482 6 79 6 96 6 -534 6 314 6 400 6 -274 6 -131 6 353 6 -293 6 112 6 228 6 -381 6 -54 6 657 6 -610 6 205 6 -48 6 265 6 -135 6 -553 6 212 6 174 6 -51 6 183 6 -142 6 147 6 -222 6 276 6 -265 6 -117 6 221 6 -104 6 -17 6 162 6 176 6 -498 6 196 6 78 6 -311 6 414 6 -63 6 39 6 65 6 -178 6 98 6 -407 6 411 6 -379 6 426 6 -115 6 -73 6 182 6 -309 6 252 6 13 6 -269 6 286 6 -274 6 -88 6 55 6 -123 6 361 6 -329 6 352 6 222 6 -293 6 -421 6 585 6 -550 6 634 6 -462 6 81 6 187 6 360 6 -582 6 5 6 29 6 -95 6 354 6 -558 6 217 6 332 6 -586 6 429 6 -88 6 -77 6 339 6 5 6 -145 6 195 6 -187 6 -314 6 499 6 -242 6 129 6 -278 6 397 6 -11 6 -185 6 -432 6 590 6 152 6 -142 6 -337 6 -42 6 195 6 -62 6 327 6 -355 6 110 6 93 6 -322 6 -11 6 303 6 -139 6 427 6 -173 6 -467 6 482 6 -40 6 -405 6 678 6 -319 6 -285 6 237 6 84 6 34 6 -249 6 229 6 -248 6 90 6 -33 6 -219 6 312 6 94 6 -187 6 -54 6 88 6 298 6 -468 6 477 6 46 6 -578 6 -113 6 353 6 107 6 -438 6 535 6 -257 6 108 6 -233 6 56 6 214 6 -373 6 72 6 144 6 58 6 -44 6 233 6 -202 6 2 6 -158 6 148 6 41 6 -131 6 -141 6 77 6 136 6 62 6 -355 6 264 6 241 6 -281 6 391 6 -245 6 -232 6 159 6 33 6 -210 6 -86 6 419 6 34 6 -84 6 83 6 -317 6 -51 6 165 6 188 6 103 6 -279 6 123 6 -242 6 337 6 -140 6 -32 6 -280 6 48 6 58 6 53 6 -93 6 487 6 -531 6 225 6 -341 6 112 6 -60 6 369 6 -704 6 454 6 56 6 168 6 -183 6 483 6 -678 6 166 6 106 6 -279 6 163 6 13 6 189 6 -166 6 293 6 -9 6 -250 6 150 6 143 6 -227 6 323 6 -666 6 483 6 -3 6 -477 6 595 6 143 6 -433 6 52 6 -252 6 211 6 304 6 -338 6 72 6 -294 6 184 6 240 6 -48 6 -137 6 84 6 -123 6 -12 6 280 6 -273 6 -117 6 394 6 48 6 -432 6 40 6 -75 6 -162 6 366 6 181 6 -248 6 173 6 -205 6 -71 6 124 6 -92 6 108 6 -50 6 277 6 -555 6 462 6 -52 6 59 6 -90 6 36 6 304 6 -694 6 231 6 128 6 -50 6 -206 6 37 6 105 6 -118 6 680 6 -671 6 213 6 105 6 53 6 -217 6 355 6 -403 6 216 6 -293 6 488 6 -422 6 164 6 143 6 -471 6 27 6 398 6 -124 6 -344 6 267 6 142 6 63 6 -34 6 -264 6 -67 6 255 6 130 6 -46 6 197 6 -441 6 93 6 -214 6 -230 6 179 6 343 6 -14 6 191 6 152 6 -776 6 319 6 351 6 -435 6 548 6 -367 6 -65 6 150 6 -24 6 -257 6 258 6 -329 6 578 6 -272 6 -418 6 537 6 -3 6 -202 6 94 6 -138 6 -149 6 86 6 69 6 118 6 -120 6 -140 6 355 6 -91 6 137 6 -221 6 -33 6 138 6 109 6 -68 6 -280 6 240 6 -277 6 283 6 29 6 -304 6 310 6 -381 6 656 6 -435 6 106 6 -28 6 -130 6 442 6 -810 6 504 6 -572 6 320 6 120 6 348 6 -647 6 209 6 -107 6 543 6 42 6 -272 6 -183 6 -53 6 -85 6 416 6 92 6 -414 6 346 6 -189 6 -419 6 491 6 -160 6 22 6 50 6 -76 6 -24 6 87 6 -290 6 113 6 386 6 -487 6 258 6 60 6 120 6 -307 6 161 6 147 6 9 6 -391 6 289 6 14 6 -577 6 429 6 -63 6 102 6 31 6 185 6 -331 6 83 6 216 6 -143 6 -365 6 289 6 45 6 134 6 -12 6 -219 6 -63 6 128 6 -140 6 340 6 -82 6 -149 6 -158 6 318 6 -278 6 395 6 -427 6 -36 6 313 6 -131 6 -78 6 276 6 -54 6 6 6 -192 6 -73 6 355 6 -36 6 -268 6 248 6 -86 6 -197 6 147 6 -194 6 184 6 40 6 120 6 288 6 -356 6 278 6 -509 6 7 6 59 6 -132 6 -191 6 746 6 -311 6 -185 6 203 6 -24 6 -234 6 110 6 368 6 -550 6 439 6 -202 6 -68 6 435 6 -655 6 200 6 54 6 -78 6 196 6 -181 6 10 6 549 6 -192 6 -415 6 384 6 -308 6 139 6 -174 6 482 6 -367 6 21 6 -52 6 8 6 30 6 -57 6 -22 6 201 6 -386 6 274 6 119 6 -246 6 408 6 -486 6 273 6 -78 6 6 6 -85 6 216 6 -34 6 -157 6 187 6 -108 6 18 6 44 6 65 6 26 6 -78 6 151 6 -15 6 -735 6 509 6 -172 6 120 6 -85 6 113 6 -167 6 150 6 -16 6 285 6 -418 6 223 6 -35 6 -83 6 30 6 49 6 -242 6 400 6 218 6 -323 6 363 6 -389 6 -274 6 -53 6 494 6 -279 6 301 6 -291 6 -198 6 375 6 -407 6 236 6 -447 6 607 6 53 6 -417 6 75 6 57 6 257 6 -177 6 126 6 -391 6 171 6 242 6 30 6 117 6 -164 6 -109 6 -85 6 -124 6 292 6 -329 6 617 6 -364 6 -141 6 217 6 -142 6 -110 6 259 6 -145 6 -171 6 433 6 -437 6 233 6 250 6 -346 6 -57 6 159 6 -99 6 -29 6 79 6 -15 6 -134 6 12 6 146 6 346 6 -107 6 -171 6 -288 6 121 6 -242 6 247 6 6 6 140 6 -292 6 485 6 -321 6 91 6 72 6 -278 6 51 6 51 6 134 6 212 6 -20 6 225 6 -225 6 -311 6 -206 6 472 6 -442 6 -125 6 148 6 -115 6 325 6 87 6 -146 6 -132 6 93 6 51 6 -117 6 315 6 -315 6 522 6 -646 6 6 6 -180 6 613 6 -64 6 87 6 80 6 164 6 -589 6 190 6 -17 6 313 6 -368 6 -356 6 353 6 -129 6 379 6 -426 6 209 6 -29 6 -47 6 115 6 -177 6 149 6 61 6 121 6 14 6 -383 6 -43 6 224 6 15 6 72 6 -144 6 -231 6 213 6 152 6 -303 6 55 6 481 6 -251 6 -325 6 160 6 84 6 -91 6 300 6 -2 6 -199 6 -46 6 -284 6 325 6 -79 6 -236 6 405 6 -62 6 -59 6 -45 6 19 6 -102 6 358 6 24 6 -233 6 291 6 -607 6 449 6 -42 6 -221 6 52 6 -46 6 112 6 243 6 -217 6 94 6 192 6 -261 6 -235 6 354 6 -36 6 4 6 -285 6 527 6 -473 6 68 6 38 6 157 6 -127 6 -413 6 322 6 116 6 -232 6 391 6 -447 6 230 6 -494 6 54 6 305 6 30 6 156 6 -185 6 -29 6 393 6 27 6 -386 6 209 6 -137 6 7 6 -8 6 75 6 -162 6 -154 6 -36 6 373 6 -91 6 6 6 296 6 10 6 -268 6 -110 6 -58 6 267 6 -244 6 143 6 60 6 -267 6 500 6 115 6 -793 6 367 6 -155 6 165 6 110 6 85 6 121 6 -374 6 231 6 -174 6 -75 6 64 6 -30 6 -261 6 223 6 7 6 76 6 -300 6 27 6 348 6 -182 6 97 6 55 6 85 6 -504 6 232 6 495 6 -592 6 -133 6 305 6 33 6 -41 6 -145 6 274 6 -178 6 354 6 -498 6 427 6 -141 6 -145 6 -113 6 320 6 -7 6 -407 6 397 6 34 6 -58 6 -222 6 -5 6 -58 6 107 6 155 6 -161 6 -58 6 353 6 -100 6 -110 6 -309 6 360 6 -71 6 3 6 -62 6 -52 6 308 6 335 6 -670 6 531 6 -445 6 -22 6 -55 6 323 6 -255 6 -65 6 -4 6 -103 6 413 6 -88 6 -47 6 -43 6 -198 6 34 6 133 6 -305 6 210 6 324 6 -453 6 478 6 -7 6 -157 6 9 6 -67 6 -21 6 146 6 -11 6 -260 6 69 6 95 6 107 6 -156 6 187 6 56 6 -426 6 57 6 189 6 -359 6 312 6 -140 6 28 6 67 6 -4 6 -258 6 111 6 507 6 -451 6 512 6 -215 6 -273 6 279 6 -428 6 293 6 -176 6 53 6 -93 6 -96 6 507 6 -259 6 -47 6 -155 6 88 6 150 6 198 6 43 6 -126 6 -201 6 3 6 -235 6 208 6 -90 6 395 6 -299 6 135 6 17 6 -337 6 229 6 11 6 -16 6 246 6 48 6 -643 6 335 6 11 6 -43 6 122 6 -32 6 105 6 -219 6 88 6 -217 6 -96 6 476 6 -319 6 198 6 -469 6 354 6 -141 6 265 6 -318 6 361 6 91 6 216 6 -433 6 63 6 -107 6 198 6 -161 6 0 6 190 6 -546 6 -55 6 348 6 -50 6 -22 6 -13 6 274 6 -198 6 -275 6 355 6 13 6 118 6 -90 6 314 6 -386 6 -203 6 134 6 27 6 18 6 -2 6 199 6 150 6 -676 6 241 6 485 6 -686 6 364 6 -251 6 195 6 94 6 -269 6 213 6 381 6 -546 6 115 6 -4 6 44 6 -135 6 -197 6 90 6 124 6 36 6 150 6 -456 6 670 6 -171 6 -151 6 -56 6 -26 6 121 6 -416 6 116 6 561 6 -168 6 73 6 -502 6 333 6 200 6 -229 6 181 6 -244 6 -118 6 329 6 -249 6 -16 6 184 6 -218 6 204 6 -237 6 141 6 54 6 -335 6 75 6 230 6 510 6 -614 6 138 6 -163 6 71 6 52 6 10 6 -315 6 -18 6 34 6 436 6 -137 6 -98 6 378 6 -536 6 385 6 -374 6 276 6 -172 6 382 6 142 6 -316 6 111 6 -9 6 -150 6 -136 6 -95 6 312 6 99 6 -246 6 175 6 25 6 -137 6 -281 6 148 6 423 6 -725 6 587 6 -267 6 169 6 -317 6 97 6 -141 6 169 6 66 6 -244 6 556 6 -114 6 29 6 -229 6 54 6 63 6 -282 6 33 6 177 6 165 6 -635 6 319 6 159 6 -134 6 -36 6 174 6 -251 6 107 6 106 6 -288 6 275 6 -309 6 202 6 66 6 -255 6 272 6 -165 6 -143 6 301 6 39 6 -244 6 -41 6 559 6 -479 6 -111 6 294 6 -276 6 231 6 55 6 -60 6 -188 6 193 6 30 6 -104 6 -137 6 496 6 -551 6 -58 6 430 6 -172 6 -93 6 58 6 -311 6 301 6 120 6 -30 6 -131 6 188 6 -28 6 -16 6 -387 6 180 6 311 6 -293 6 546 6 -465 6 -110 6 43 6 -37 6 54 6 149 6 -83 6 4 6 207 6 -268 6 178 6 -284 6 -283 6 18 6 -88 6 517 6 3 6 -190 6 262 6 -267 6 202 6 -155 6 120 6 -341 6 68 6 55 6 346 6 -422 6 272 6 157 6 -286 6 -130 6 428 6 -390 6 167 6 -10 6 -121 6 136 6 52 6 -300 6 594 6 -588 6 380 6 -425 6 398 6 -434 6 514 6 -594 6 269 6 54 6 12 6 -228 6 194 6 -137 6 71 6 201 6 -467 6 300 6 -82 6 0 6 33 6 -282 6 209 6 101 6 -64 6 57 6 123 6 -370 6 332 6 -364 6 175 6 -125 6 128 6 37 6 -427 6 421 6 80 6 -227 6 -162 6 414 6 -127 6 -230 6 -23 6 48 6 144 6 -110 6 130 6 -190 6 58 6 -54 6 64 6 -154 6 88 6 108 6 -341 6 165 6 63 6 -30 6 -261 6 193 6 -46 6 148 6 -85 6 19 6 22 6 13 6 -120 6 118 6 -291 6 -38 6 215 6 -201 6 136 6 -162 6 -36 6 266 6 83 6 -419 6 -23 6 45 6 44 6 -3 6 215 6 -539 6 440 6 -341 6 27 6 -93 6 160 6 -79 6 -187 6 157 6 -176 6 131 6 -208 6 -68 6 15 6 -92 6 151 6 -107 6 -58 6 -225 6 170 6 -101 6 -160 6 60 6 -111 6 148 6 -239 6 50 6 -91 6 -61 6 185 6 -312 6 86 6 -178 6 70 6 -87 6 89 6 -81 6 -214 6 88 6 -127 6 -26 6 21 6 -110 6 -53 6 -95 6 13 6 -37 6 -161 6 -46 6 28 6 10 6 -116 6 2 6 -131 6 26 6 -12 6 -52 6 -11 6 -70 6 14 6 -87 6 -50 6 -13 6 24 6 -66 6 7 6 15 6 -57 6 -42 6 10 6 10 6 5 6 -18 6 -11 6 16 6 -21 6 23 6 8 6 58 6 -4 6 35 6 11 6 29 6 -51 6 163 6 -25 6 68 6 -1 6 43 6 -18 6 114 6 67 6 -5 6 45 6 170 6 -167 6 198 6 -91 6 62 6 37 6 119 6 113 6 46 6 -85 6 165 6 -12 6 104 6 65 6 -67 6 193 6 -8 6 55 6 11 6 68 6 126 6 -6 6 38 6 -165 6 151 6 126 6 17 6 86 6 -151 6 224 6 121 6 -433 6 496 6 16 6 82 6 -115 6 158 6 46 6 -164 6 -20 6 162 6 193 6 -151 6 164 6 -79 6 29 6 209 6 -225 6 137 6 34 6 156 6 -229 6 235 6 -78 6 170 6 54 6 25 6 78 6 -142 6 -210 6 54 6 285 6 11 6 -301 6 123 6 126 6 73 6 21 6 292 6 -223 6 -370 6 87 6 282 6 -138 6 44 6 184 6 62 6 -31 6 -97 6 -154 6 171 6 47 6 52 6 -213 6 -47 6 221 6 83 6 -71 6 -30 6 -80 6 42 6 276 6 -92 6 56 6 -151 6 277 6 115 6 -276 6 95 6 1 6 -40 6 130 6 -145 6 197 6 14 6 -258 6 140 6 -216 6 136 6 163 6 -17 6 81 6 -152 6 -79 6 91 6 -28 6 191 6 -342 6 110 6 -59 6 343 6 -142 6 92 6 -363 6 285 6 -385 6 293 6 168 6 -284 6 -76 6 308 6 70 6 -79 6 185 6 -16 6 181 6 -248 6 119 6 -229 6 -16 6 -116 6 128 6 82 6 -240 6 323 6 234 6 -119 6 -147 6 -155 6 -71 6 329 6 -333 6 114 6 -38 6 271 6 -123 6 313 6 -360 6 80 6 -173 6 -66 6 333 6 -294 6 -24 6 222 6 -349 6 436 6 109 6 -235 6 -277 6 197 6 374 6 -197 6 -284 6 323 6 -92 6 146 6 -491 6 46 6 494 6 87 6 -388 6 22 6 72 6 -16 6 69 6 -200 6 11 6 -69 6 69 6 240 6 -19 6 -24 6 -62 6 135 6 26 6 -95 6 36 6 -51 6 -286 6 48 6 305 6 -97 6 68 6 96 6 -229 6 420 6 -357 6 90 6 160 6 -285 6 -78 6 123 6 -28 6 224 6 -221 6 -174 6 439 6 -557 6 671 6 -447 6 253 6 -136 6 42 6 -4 6 -165 6 219 6 -82 6 -162 6 221 6 342 6 -269 6 7 6 56 6 -257 6 93 6 151 6 -36 6 149 6 -151 6 -410 6 612 6 -612 6 333 6 29 6 62 6 117 6 -316 6 163 6 60 6 -101 6 -273 6 345 6 -50 6 -257 6 407 6 -320 6 -270 6 421 6 282 6 -445 6 218 6 -281 6 140 6 41 6 200 6 -352 6 124 6 2 6 -3 6 1 6 42 6 51 6 269 6 -182 6 -37 6 -250 6 7 6 352 6 -80 6 20 6 -159 6 6 6 -54 6 218 6 -55 6 -415 6 554 6 -448 6 118 6 -29 6 142 6 21 6 -132 6 160 6 -17 6 40 6 -117 6 87 6 39 6 -155 6 71 6 258 6 -212 6 -249 6 171 6 -193 6 557 6 -355 6 404 6 -441 6 220 6 -82 6 -104 6 223 6 -22 6 -52 6 -194 6 -105 6 369 6 29 6 -167 6 219 6 31 6 -324 6 180 6 -358 6 430 6 -417 6 47 6 268 6 -90 6 502 6 -508 6 35 6 152 6 -375 6 650 6 -534 6 113 6 -24 6 298 6 -371 6 203 6 -118 6 -130 6 310 6 344 6 -551 6 20 6 82 6 71 6 49 6 -182 6 -81 6 180 6 -305 6 266 6 -155 6 143 6 -29 6 -174 6 54 6 -93 6 12 6 188 6 -124 6 44 6 4 6 -57 6 124 6 -10 6 -62 6 256 6 -310 6 -26 6 533 6 -488 6 257 6 21 6 -256 6 276 6 -197 6 156 6 101 6 -526 6 451 6 78 6 -146 6 -380 6 602 6 -481 6 328 6 -166 6 51 6 -193 6 318 6 -465 6 400 6 180 6 -280 6 -108 6 22 6 -47 6 206 6 -292 6 104 6 315 6 -91 6 58 6 -78 6 -89 6 120 6 -49 6 -161 6 -18 6 -105 6 813 6 -442 6 13 6 -28 6 64 6 6 6 -292 6 -99 6 422 6 -323 6 520 6 -482 6 -202 6 131 6 316 6 9 6 -99 6 -282 6 166 6 28 6 -54 6 285 6 195 6 -279 6 -15 6 -139 6 44 6 -564 6 654 6 23 6 -352 6 243 6 -341 6 7 6 190 6 15 6 417 6 -516 6 200 6 -77 6 -63 6 152 6 198 6 -79 6 88 6 -348 6 175 6 -16 6 99 6 -61 6 187 6 -228 6 218 6 -244 6 97 6 -125 6 -115 6 113 6 56 6 -126 6 254 6 -90 6 -83 6 331 6 -134 6 -495 6 334 6 7 6 -70 6 137 6 46 6 -22 6 -242 6 -105 6 395 6 -78 6 -102 6 287 6 -218 6 -177 6 -14 6 -233 6 496 6 -60 6 -159 6 103 6 -149 6 203 6 316 6 -162 6 160 6 -332 6 -201 6 129 6 190 6 278 6 -357 6 122 6 -4 6 -118 6 -424 6 508 6 58 6 130 6 -429 6 343 6 172 6 -251 6 -139 6 281 6 -214 6 293 6 -526 6 444 6 -205 6 165 6 -73 6 -158 6 167 6 -88 6 -237 6 -252 6 317 6 146 6 -34 6 271 6 -28 6 4 6 -279 6 100 6 44 6 -498 6 438 6 -155 6 69 6 77 6 -83 6 371 6 -297 6 -168 6 -119 6 348 6 -299 6 108 6 221 6 226 6 -349 6 175 6 -333 6 144 6 343 6 -185 6 -155 6 -167 6 710 6 -563 6 335 6 -195 6 120 6 -334 6 111 6 -264 6 89 6 373 6 277 6 -363 6 57 6 -122 6 158 6 -15 6 -260 6 96 6 174 6 -203 6 242 6 -169 6 -172 6 270 6 160 6 -277 6 102 6 -403 6 354 6 99 6 104 6 200 6 -263 6 -164 6 183 6 -265 6 -74 6 40 6 253 6 24 6 -303 6 279 6 -4 6 -12 6 -354 6 602 6 -559 6 42 6 -129 6 210 6 -333 6 278 6 307 6 105 6 -273 6 -79 6 29 6 -130 6 -24 6 673 6 -454 6 -1 6 -111 6 261 6 -368 6 207 6 -236 6 369 6 -95 6 224 6 -69 6 -117 6 45 6 -162 6 -22 6 84 6 -2 6 212 6 -127 6 -37 6 95 6 -279 6 39 6 259 6 -66 6 -71 6 -28 6 -262 6 320 6 77 6 -180 6 -51 6 -106 6 411 6 -132 6 -88 6 8 6 324 6 -364 6 -195 6 156 6 144 6 168 6 -8 6 -178 6 136 6 0 6 168 6 -390 6 -74 6 173 6 -126 6 92 6 -285 6 326 6 -13 6 222 6 -214 6 66 6 17 6 -374 6 139 6 -47 6 133 6 232 6 -180 6 -185 6 353 6 -126 6 -29 6 -197 6 187 6 -132 6 17 6 172 6 -90 6 276 6 -145 6 -196 6 26 6 9 6 59 6 -150 6 37 6 105 6 314 6 -871 6 136 6 589 6 -443 6 333 6 -273 6 388 6 -157 6 84 6 -228 6 -31 6 149 6 456 6 -446 6 217 6 -497 6 392 6 310 6 -378 6 226 6 -337 6 325 6 -313 6 389 6 -533 6 233 6 -145 6 181 6 -430 6 430 6 -164 6 147 6 -253 6 510 6 27 6 -399 6 242 6 49 6 -276 6 94 6 471 6 -492 6 126 6 99 6 -345 6 34 6 -154 6 367 6 78 6 -671 6 329 6 29 6 307 6 -82 6 -237 6 727 6 -322 6 -304 6 422 6 -499 6 181 6 288 6 -324 6 -7 6 24 6 -129 6 418 6 -200 6 -198 6 47 6 7 6 -504 6 628 6 34 6 -236 6 162 6 -218 6 214 6 -375 6 468 6 -80 6 -221 6 157 6 -165 6 27 6 -22 6 412 6 -416 6 159 6 -51 6 226 6 -264 6 -63 6 86 6 -28 6 66 6 70 6 -133 6 129 6 -10 6 -114 6 -100 6 -146 6 116 6 202 6 170 6 -217 6 258 6 0 6 175 6 -606 6 19 6 428 6 -230 6 -48 6 -227 6 21 6 448 6 -234 6 367 6 -281 6 -30 6 65 6 165 6 -152 6 -480 6 536 6 -123 6 -182 6 22 6 234 6 -352 6 4 6 235 6 -19 6 79 6 -127 6 51 6 -165 6 548 6 -507 6 205 6 -303 6 50 6 260 6 -25 6 88 6 105 6 -155 6 -191 6 200 6 211 6 -249 6 204 6 -214 6 -120 6 -51 6 -39 6 382 6 339 6 -489 6 40 6 -188 6 13 6 187 6 -66 6 -155 6 299 6 290 6 -484 6 38 6 129 6 -347 6 274 6 117 6 -187 6 -293 6 551 6 -374 6 412 6 -384 6 230 6 -11 6 -215 6 -354 6 831 6 -296 6 114 6 -386 6 215 6 185 6 -336 6 39 6 151 6 -181 6 92 6 -117 6 397 6 -336 6 -57 6 351 6 -854 6 385 6 248 6 160 6 -62 6 -41 6 -95 6 348 6 -38 6 -473 6 516 6 -651 6 418 6 255 6 -108 6 -501 6 284 6 246 6 -450 6 150 6 224 6 96 6 82 6 -308 6 -93 6 -195 6 -9 6 107 6 482 6 -172 6 -218 6 153 6 -72 6 109 6 -87 6 -197 6 97 6 382 6 -190 6 136 6 95 6 -511 6 197 6 -484 6 347 6 30 6 202 6 43 6 -295 6 251 6 -406 6 113 6 1 6 153 6 219 6 -420 6 350 6 -113 6 -155 6 225 6 16 6 177 6 -476 6 -126 6 506 6 -397 6 -154 6 29 6 143 6 335 6 155 6 -151 6 -236 6 -180 6 18 6 281 6 -111 6 170 6 271 6 -225 6 -340 6 55 6 132 6 17 6 -456 6 369 6 150 6 221 6 -152 6 -203 6 183 6 -199 6 194 6 -634 6 621 6 -263 6 329 6 -206 6 -115 6 133 6 381 6 -625 6 154 6 321 6 -86 6 -215 6 287 6 -281 6 378 6 -272 6 -136 6 246 6 -111 6 -48 6 -212 6 49 6 196 6 -9 6 130 6 6 6 15 6 23 6 -280 6 224 6 121 6 -3 6 -142 6 -111 6 207 6 88 6 -238 6 -152 6 393 6 -115 6 292 6 -858 6 690 6 33 6 -288 6 118 6 -221 6 321 6 -189 6 -20 6 -64 6 -265 6 378 6 160 6 -255 6 231 6 -327 6 129 6 31 6 336 6 -6 6 -185 6 -108 6 402 6 -313 6 -140 6 166 6 -307 6 135 6 -260 6 449 6 -229 6 637 6 -384 6 -350 6 271 6 21 6 141 6 -577 6 82 6 259 6 -73 6 70 6 276 6 -342 6 174 6 50 6 -374 6 211 6 211 6 -313 6 117 6 -76 6 92 6 -86 6 6 6 236 6 -601 6 371 6 544 6 -691 6 493 6 -371 6 -233 6 370 6 -37 6 -255 6 109 6 16 6 142 6 -43 6 389 6 -294 6 -57 6 -150 6 26 6 360 6 -105 6 292 6 -411 6 -328 6 266 6 190 6 -178 6 62 6 212 6 -65 6 -138 6 -203 6 283 6 18 6 144 6 -268 6 209 6 -576 6 342 6 634 6 -892 6 222 6 68 6 -44 6 158 6 60 6 -32 6 -117 6 -109 6 -309 6 309 6 -89 6 -32 6 352 6 38 6 -23 6 -479 6 582 6 -390 6 279 6 -679 6 783 6 -23 6 -148 6 126 6 -376 6 -35 6 -8 6 -226 6 603 6 -219 6 109 6 69 6 -217 6 -367 6 617 6 -622 6 375 6 156 6 142 6 -407 6 141 6 61 6 92 6 -93 6 45 6 -101 6 398 6 -420 6 -148 6 37 6 432 6 -291 6 -37 6 -172 6 52 6 -29 6 236 6 -167 6 161 6 37 6 252 6 -377 6 107 6 272 6 -577 6 343 6 -156 6 10 6 107 6 -80 6 -141 6 339 6 112 6 -475 6 102 6 254 6 -361 6 451 6 -263 6 -47 6 65 6 -89 6 190 6 228 6 -207 6 -234 6 105 6 18 6 57 6 -285 6 323 6 -158 6 -3 6 244 6 -347 6 72 6 -29 6 390 6 -507 6 315 6 -70 6 -87 6 -97 6 287 6 -172 6 60 6 12 6 -2 6 188 6 -180 6 -248 6 437 6 124 6 -602 6 554 6 -205 6 58 6 -168 6 120 6 -165 6 187 6 126 6 -696 6 454 6 -79 6 349 6 -107 6 -46 6 -291 6 357 6 -260 6 159 6 71 6 -279 6 85 6 264 6 -335 6 385 6 -356 6 119 6 -464 6 342 6 -320 6 307 6 193 6 -221 6 437 6 -50 6 -220 6 -325 6 120 6 454 6 139 6 -464 6 370 6 -87 6 -95 6 70 6 -26 6 -123 6 -236 6 321 6 -137 6 -80 6 -10 6 118 6 130 6 -134 6 278 6 -275 6 -265 6 131 6 714 6 -705 6 -2 6 180 6 -206 6 6 6 161 6 21 6 182 6 -436 6 646 6 -514 6 147 6 -86 6 96 6 -70 6 161 6 11 6 -515 6 397 6 -336 6 117 6 112 6 -21 6 69 6 -197 6 210 6 55 6 -208 6 135 6 -107 6 230 6 -114 6 -199 6 1 6 403 6 -192 6 190 6 -366 6 342 6 169 6 -126 6 7 6 -703 6 585 6 -262 6 293 6 -223 6 -167 6 62 6 -83 6 79 6 229 6 -141 6 70 6 125 6 -518 6 612 6 60 6 -147 6 -321 6 295 6 -129 6 192 6 -381 6 174 6 48 6 -264 6 444 6 -452 6 120 6 404 6 -203 6 -131 6 307 6 -44 6 -444 6 -262 6 220 6 201 6 94 6 217 6 -346 6 253 6 -110 6 -18 6 -141 6 57 6 539 6 -311 6 -309 6 -63 6 101 6 -45 6 413 6 -204 6 -30 6 -165 6 162 6 123 6 -290 6 177 6 -110 6 443 6 -344 6 -86 6 -176 6 266 6 332 6 -61 6 -471 6 21 6 239 6 128 6 -379 6 315 6 -90 6 280 6 226 6 -556 6 -318 6 421 6 184 6 -506 6 458 6 222 6 -314 6 -162 6 226 6 -163 6 -2 6 -9 6 -286 6 261 6 -74 6 -154 6 328 6 -239 6 290 6 -127 6 27 6 -212 6 20 6 313 6 58 6 28 6 -32 6 -61 6 -117 6 156 6 -529 6 117 6 -168 6 314 6 -41 6 176 6 -276 6 124 6 127 6 -97 6 -291 6 46 6 317 6 389 6 184 6 -554 6 1 6 -2 6 -87 6 -28 6 261 6 -39 6 -433 6 -127 6 404 6 0 6 -140 6 96 6 57 6 15 6 -292 6 429 6 -246 6 332 6 -336 6 46 6 81 6 -89 6 411 6 -184 6 -69 6 -104 6 25 6 133 6 -152 6 -58 6 -424 6 458 6 -31 6 6 6 121 6 24 6 -236 6 203 6 44 6 -92 6 -318 6 542 6 -154 6 -132 6 -59 6 -212 6 -66 6 514 6 -272 6 -230 6 150 6 393 6 -49 6 -135 6 -148 6 366 6 -366 6 292 6 -250 6 -19 6 52 6 -110 6 203 6 -40 6 -217 6 369 6 9 6 156 6 -611 6 485 6 -332 6 166 6 -70 6 166 6 -50 6 -218 6 172 6 222 6 -166 6 240 6 -371 6 -69 6 130 6 -253 6 -7 6 340 6 -242 6 261 6 -83 6 79 6 -64 6 255 6 -201 6 214 6 -555 6 406 6 -87 6 292 6 -167 6 -242 6 512 6 -473 6 158 6 -516 6 284 6 -45 6 114 6 -143 6 430 6 -561 6 177 6 467 6 -388 6 67 6 -288 6 346 6 -65 6 -78 6 124 6 -372 6 242 6 221 6 -172 6 85 6 -373 6 546 6 143 6 -777 6 419 6 -232 6 223 6 98 6 -202 6 90 6 142 6 252 6 -438 6 -211 6 42 6 503 6 -549 6 549 6 -176 6 -113 6 3 6 174 6 -100 6 -87 6 1 6 -116 6 -45 6 156 6 167 6 -288 6 151 6 153 6 319 6 -508 6 -97 6 -76 6 403 6 -177 6 332 6 -378 6 -17 6 219 6 -269 6 -95 6 -9 6 384 6 -186 6 -201 6 242 6 39 6 -25 6 -227 6 222 6 326 6 -505 6 -431 6 471 6 -182 6 207 6 109 6 157 6 -303 6 102 6 -182 6 150 6 -100 6 536 6 -471 6 -55 6 60 6 -204 6 284 6 -147 6 522 6 -540 6 5 6 325 6 263 6 -238 6 -184 6 -329 6 558 6 -321 6 -33 6 14 6 244 6 -265 6 405 6 114 6 -367 6 157 6 278 6 -713 6 107 6 35 6 306 6 -46 6 176 6 -311 6 50 6 -46 6 -300 6 394 6 -66 6 262 6 -610 6 66 6 707 6 -17 6 -782 6 -53 6 246 6 -145 6 550 6 -279 6 -156 6 207 6 158 6 -161 6 143 6 -562 6 464 6 64 6 244 6 -681 6 334 6 -150 6 137 6 -78 6 51 6 128 6 -219 6 262 6 -222 6 -19 6 -87 6 346 6 -660 6 436 6 282 6 101 6 -353 6 36 6 -146 6 448 6 -305 6 -98 6 -109 6 555 6 -229 6 37 6 -136 6 36 6 -78 6 206 6 -271 6 401 6 -303 6 -444 6 643 6 -574 6 96 6 367 6 -196 6 -24 6 323 6 230 6 -372 6 215 6 -385 6 464 6 -777 6 -63 6 646 6 263 6 -485 6 176 6 -85 6 305 6 -26 6 -408 6 382 6 142 6 -519 6 -17 6 189 6 152 6 -555 6 412 6 -212 6 415 6 7 6 -329 6 -272 6 529 6 -92 6 -38 6 -371 6 294 6 -88 6 -107 6 39 6 -193 6 612 6 -332 6 -16 6 330 6 -281 6 -26 6 131 6 60 6 -398 6 204 6 70 6 -70 6 156 6 -150 6 -53 6 278 6 -159 6 -3 6 -47 6 116 6 -81 6 96 6 85 6 -73 6 222 6 -454 6 52 6 255 6 12 6 -12 6 67 6 -14 6 -340 6 170 6 -247 6 80 6 17 6 357 6 -634 6 401 6 438 6 -422 6 23 6 -191 6 330 6 -242 6 106 6 -326 6 311 6 -164 6 -105 6 376 6 -232 6 60 6 -329 6 206 6 275 6 -535 6 495 6 -102 6 -35 6 -96 6 260 6 -90 6 29 6 -118 6 208 6 -79 6 201 6 -647 6 250 6 -151 6 407 6 217 6 -28 6 -76 6 -367 6 188 6 32 6 149 6 -607 6 628 6 -235 6 12 6 -30 6 4 6 -109 6 -475 6 315 6 169 6 283 6 -533 6 -14 6 445 6 -233 6 599 6 -272 6 -446 6 592 6 -496 6 -97 6 531 6 -274 6 -339 6 -190 6 484 6 -301 6 487 6 -34 6 -233 6 -66 6 116 6 -202 6 61 6 -108 6 113 6 147 6 -24 6 49 6 -54 6 -201 6 19 6 -73 6 89 6 5 6 359 6 -96 6 23 6 61 6 360 6 -656 6 371 6 -62 6 -3 6 -479 6 239 6 -222 6 317 6 -170 6 -2 6 198 6 -61 6 389 6 -133 6 -240 6 505 6 -531 6 15 6 177 6 -301 6 62 6 -136 6 195 6 -86 6 63 6 348 6 -276 6 26 6 -48 6 14 6 -161 6 182 6 138" fill="none" stroke="#ff0000" stroke-width="96.965"/>
<rect x="67.75" y="167.00" width="247.45" height="118.50" fill="none" stroke="#000" stroke-width="1.5"/>
<path d="M67.75 285.50v-7.50M67.75 167.00v7.50M88.37 285.50v-4.00M88.37 167.00v4.00M108.99 285.50v-7.50M108.99 167.00v7.50M129.61 285.50v-4.00M129.61 167.00v4.00M150.23 285.50v-7.50M150.23 167.00v7.50M170.85 285.50v-4.00M170.85 167.00v4.00M191.47 285.50v-7.50M191.47 167.00v7.50M212.10 285.50v-4.00M212.10 167.00v4.00M232.72 285.50v-7.50M232.72 167.00v7.50M253.34 285.50v-4.00M253.34 167.00v4.00M273.96 285.50v-7.50M273.96 167.00v7.50M294.58 285.50v-4.00M294.58 167.00v4.00M315.20 285.50v-7.50M315.20 167.00v7.50M67.75 285.50h7.50M315.20 285.50h-7.50M67.75 270.69h4.00M315.20 270.69h-4.00M67.75 255.88h7.50M315.20 255.88h-7.50M67.75 241.06h4.00M315.20 241.06h-4.00M67.75 226.25h7.50M315.20 226.25h-7.50M67.75 211.44h4.00M315.20 211.44h-4.00M67.75 196.62h7.50M315.20 196.62h-7.50M67.75 181.81h4.00M315.20 181.81h-4.00M67.75 167.00h7.50M315.20 167.00h-7.50" stroke="#000" stroke-width="1.5" fill="none"/>
<rect x="135.65" y="249.75" width="123.90" height="20.60" fill="#fff" stroke="#2a2a2a" stroke-width="1.15"/>
<path d="M145.80 261.35H182.80" stroke="#c04848" stroke-width="1.1"/>
<text x="255.30" y="266.65" font-size="17.1" text-anchor="end">266 MHz</text>
<g font-size="18.5"><text transform="translate(58.65 290.40) scale(0.96 1.02)" text-anchor="end">0.0</text>
<text transform="translate(58.65 260.77) scale(0.96 1.02)" text-anchor="end">0.5</text>
<text transform="translate(58.65 231.15) scale(0.96 1.02)" text-anchor="end">1.0</text>
<text transform="translate(58.65 201.53) scale(0.96 1.02)" text-anchor="end">1.5</text>
<text transform="translate(58.65 171.90) scale(0.96 1.02)" text-anchor="end">2.0</text></g>
<path transform="translate(403.250 167.000) scale(0.0103047)" d="M0 5654 l6 605 6 -149 6 -600 6 610 6 -396 6 309 6 -395 6 71 6 -154 6 108 6 -144 6 478 6 -555 6 447 6 -289 6 228 6 -299 6 159 6 47 6 -89 6 144 6 -9 6 -322 6 191 6 106 6 113 6 -361 6 451 6 -164 6 248 6 -125 6 -101 6 -116 6 92 6 -225 6 626 6 -885 6 340 6 19 6 297 6 -408 6 389 6 -158 6 -59 6 -78 6 8 6 309 6 90 6 -587 6 123 6 45 6 29 6 -17 6 534 6 -428 6 -211 6 192 6 -144 6 69 6 190 6 75 6 -146 6 -256 6 584 6 -558 6 629 6 -869 6 479 6 -72 6 138 6 -318 6 373 6 -470 6 -176 6 477 6 193 6 -365 6 339 6 -90 6 -120 6 -191 6 484 6 -402 6 43 6 138 6 -178 6 134 6 102 6 361 6 104 6 -556 6 -141 6 379 6 -156 6 -416 6 162 6 577 6 -533 6 211 6 -176 6 97 6 232 6 -666 6 1032 6 -333 6 -489 6 287 6 -88 6 291 6 -393 6 346 6 103 6 2 6 -512 6 267 6 -174 6 73 6 128 6 223 6 -330 6 -75 6 397 6 -121 6 60 6 270 6 -532 6 -64 6 150 6 -73 6 15 6 -233 6 86 6 -27 6 381 6 -280 6 114 6 240 6 -347 6 475 6 -122 6 -489 6 89 6 566 6 -501 6 58 6 89 6 193 6 -187 6 -230 6 -243 6 212 6 386 6 -350 6 -313 6 511 6 239 6 -524 6 376 6 -148 6 -64 6 119 6 -41 6 -148 6 -20 6 94 6 -103 6 100 6 217 6 -545 6 322 6 -41 6 -121 6 263 6 278 6 77 6 -290 6 -322 6 146 6 -43 6 238 6 214 6 -260 6 354 6 -212 6 -305 6 264 6 177 6 -429 6 8 6 76 6 440 6 -561 6 220 6 -180 6 -122 6 137 6 -185 6 126 6 257 6 25 6 -558 6 -66 6 547 6 -131 6 -40 6 -78 6 517 6 -526 6 134 6 -12 6 126 6 -401 6 388 6 -480 6 48 6 466 6 -334 6 -9 6 288 6 421 6 -425 6 -142 6 -431 6 212 6 74 6 152 6 -146 6 397 6 -5 6 111 6 -36 6 -221 6 -481 6 761 6 -376 6 58 6 422 6 -376 6 444 6 -725 6 59 6 366 6 -80 6 28 6 34 6 -315 6 421 6 -172 6 190 6 -526 6 226 6 -205 6 424 6 400 6 -712 6 52 6 -116 6 206 6 -157 6 -44 6 316 6 369 6 -634 6 109 6 139 6 180 6 -663 6 350 6 7 6 233 6 -36 6 -216 6 339 6 -561 6 374 6 -388 6 254 6 209 6 -627 6 462 6 103 6 -324 6 121 6 83 6 449 6 -58 6 -588 6 321 6 -226 6 307 6 -257 6 458 6 -346 6 -373 6 273 6 133 6 -59 6 -23 6 -421 6 383 6 -63 6 209 6 -234 6 23 6 261 6 215 6 -320 6 -313 6 393 6 -49 6 -343 6 288 6 400 6 -795 6 351 6 134 6 -59 6 -173 6 230 6 -513 6 297 6 -40 6 73 6 191 6 -167 6 -353 6 502 6 -76 6 -112 6 249 6 -362 6 468 6 -363 6 312 6 -153 6 -1 6 -657 6 715 6 -353 6 134 6 256 6 -366 6 210 6 351 6 30 6 -421 6 -5 6 391 6 -366 6 86 6 -177 6 266 6 -172 6 45 6 -154 6 -107 6 -219 6 786 6 -389 6 259 6 54 6 141 6 -263 6 -132 6 67 6 -104 6 9 6 -59 6 92 6 -57 6 31 6 143 6 193 6 33 6 -418 6 318 6 -379 6 270 6 66 6 -114 6 -87 6 -346 6 472 6 21 6 -195 6 -136 6 239 6 91 6 -233 6 46 6 -33 6 395 6 -442 6 123 6 -220 6 287 6 -145 6 146 6 -521 6 790 6 -110 6 -36 6 481 6 -537 6 -473 6 193 6 -73 6 262 6 111 6 -105 6 248 6 95 6 -620 6 245 6 -306 6 604 6 -323 6 348 6 -672 6 322 6 246 6 -6 6 -497 6 514 6 -186 6 -50 6 222 6 -551 6 -73 6 520 6 -161 6 -118 6 22 6 -24 6 408 6 -258 6 314 6 -283 6 -136 6 -72 6 641 6 -514 6 361 6 -413 6 17 6 46 6 -170 6 151 6 228 6 -96 6 -151 6 436 6 -306 6 -133 6 311 6 -497 6 25 6 124 6 138 6 53 6 -204 6 27 6 -107 6 360 6 -284 6 -109 6 450 6 -237 6 23 6 49 6 -250 6 246 6 -192 6 65 6 -74 6 216 6 89 6 -281 6 130 6 -168 6 283 6 15 6 -271 6 119 6 59 6 -173 6 183 6 -78 6 -73 6 345 6 -442 6 208 6 57 6 -46 6 122 6 254 6 -402 6 106 6 -442 6 32 6 418 6 -175 6 -163 6 151 6 111 6 38 6 144 6 -397 6 53 6 95 6 35 6 -366 6 270 6 -191 6 540 6 -72 6 -11 6 -325 6 228 6 -354 6 254 6 -185 6 278 6 -259 6 252 6 -52 6 195 6 168 6 -134 6 -303 6 2 6 397 6 -90 6 45 6 -412 6 305 6 29 6 -311 6 224 6 -234 6 -51 6 279 6 237 6 -298 6 -513 6 682 6 -508 6 417 6 67 6 -510 6 398 6 361 6 -167 6 -105 6 -56 6 -387 6 66 6 200 6 -94 6 193 6 252 6 -356 6 51 6 -241 6 126 6 -175 6 328 6 -9 6 19 6 83 6 -406 6 193 6 287 6 -123 6 -528 6 -93 6 197 6 267 6 -309 6 347 6 236 6 -263 6 246 6 -184 6 -523 6 365 6 67 6 -126 6 265 6 -148 6 263 6 80 6 -185 6 152 6 221 6 -363 6 113 6 -28 6 -498 6 173 6 -75 6 252 6 175 6 -28 6 -569 6 973 6 -486 6 -152 6 362 6 -539 6 395 6 -172 6 -334 6 145 6 231 6 -23 6 -337 6 -93 6 293 6 502 6 -294 6 -325 6 380 6 -95 6 145 6 -119 6 -299 6 62 6 375 6 -500 6 575 6 -510 6 13 6 466 6 117 6 -611 6 74 6 92 6 213 6 -248 6 400 6 -484 6 -325 6 533 6 -263 6 405 6 -252 6 111 6 -138 6 159 6 303 6 -591 6 473 6 -482 6 494 6 -427 6 89 6 191 6 -318 6 154 6 -286 6 196 6 -118 6 699 6 -731 6 346 6 -2 6 230 6 -123 6 -92 6 -78 6 2 6 96 6 -116 6 -150 6 290 6 36 6 -370 6 136 6 296 6 -348 6 52 6 -375 6 276 6 18 6 189 6 186 6 -183 6 36 6 6 6 -305 6 465 6 -589 6 581 6 90 6 -505 6 254 6 101 6 -240 6 193 6 -130 6 106 6 -111 6 210 6 -324 6 239 6 -110 6 487 6 -568 6 230 6 -77 6 30 6 50 6 91 6 -410 6 303 6 -57 6 29 6 85 6 -389 6 380 6 -218 6 247 6 141 6 6 6 -421 6 528 6 -55 6 -228 6 -258 6 281 6 -385 6 267 6 12 6 -377 6 221 6 199 6 25 6 -291 6 -121 6 354 6 -27 6 -263 6 377 6 -240 6 35 6 88 6 162 6 307 6 -463 6 226 6 -318 6 172 6 -26 6 -396 6 159 6 349 6 -384 6 260 6 198 6 -307 6 28 6 -205 6 -11 6 -16 6 378 6 -132 6 363 6 -444 6 112 6 413 6 -590 6 37 6 433 6 138 6 -398 6 -123 6 73 6 -325 6 -194 6 473 6 67 6 51 6 -537 6 433 6 -141 6 -44 6 -31 6 128 6 -311 6 278 6 80 6 270 6 -155 6 -64 6 -235 6 344 6 -171 6 93 6 535 6 -633 6 -310 6 676 6 -556 6 509 6 -171 6 -70 6 -224 6 203 6 -15 6 -187 6 -14 6 239 6 -138 6 -192 6 189 6 322 6 -230 6 344 6 -804 6 432 6 400 6 -259 6 -190 6 -61 6 186 6 58 6 115 6 -398 6 -79 6 201 6 28 6 11 6 151 6 -36 6 -203 6 64 6 -36 6 255 6 -329 6 392 6 -495 6 311 6 -106 6 217 6 -131 6 146 6 -197 6 422 6 -638 6 206 6 -110 6 179 6 -137 6 263 6 42 6 -104 6 231 6 -493 6 249 6 -30 6 138 6 -301 6 -115 6 302 6 -309 6 165 6 25 6 414 6 -173 6 -456 6 28 6 -249 6 611 6 -308 6 499 6 -143 6 51 6 -55 6 -252 6 -246 6 269 6 312 6 -564 6 213 6 416 6 -641 6 291 6 -159 6 304 6 -22 6 -204 6 443 6 -365 6 -182 6 97 6 115 6 73 6 0 6 -416 6 263 6 23 6 241 6 -289 6 -79 6 667 6 -867 6 186 6 223 6 357 6 -937 6 386 6 263 6 210 6 -550 6 637 6 -401 6 66 6 200 6 -105 6 -5 6 -355 6 108 6 -166 6 479 6 -511 6 209 6 -200 6 345 6 -175 6 319 6 -467 6 233 6 159 6 -103 6 -44 6 429 6 -430 6 265 6 -213 6 -63 6 -484 6 430 6 389 6 -419 6 379 6 -27 6 -62 6 -374 6 -167 6 219 6 446 6 -326 6 -147 6 746 6 -482 6 -649 6 877 6 -83 6 33 6 -577 6 100 6 39 6 -96 6 410 6 278 6 -549 6 490 6 -512 6 24 6 79 6 -255 6 199 6 364 6 -100 6 -329 6 296 6 -286 6 202 6 -123 6 273 6 -177 6 328 6 -205 6 -281 6 268 6 70 6 -409 6 22 6 433 6 -313 6 -58 6 309 6 -28 6 -132 6 -372 6 343 6 4 6 580 6 -671 6 -135 6 462 6 -419 6 91 6 -97 6 180 6 -10 6 -548 6 146 6 615 6 164 6 -456 6 -14 6 74 6 56 6 -352 6 994 6 -451 6 -359 6 31 6 2 6 276 6 -546 6 161 6 29 6 89 6 423 6 -189 6 158 6 -280 6 338 6 -322 6 143 6 -136 6 488 6 -245 6 -266 6 -130 6 438 6 -423 6 -423 6 601 6 139 6 242 6 -48 6 -239 6 -56 6 -193 6 -279 6 596 6 -257 6 -278 6 197 6 76 6 8 6 328 6 18 6 -481 6 -137 6 64 6 5 6 -135 6 35 6 408 6 -140 6 561 6 -736 6 195 6 13 6 -199 6 515 6 -327 6 225 6 -538 6 628 6 -151 6 -226 6 -275 6 379 6 308 6 -155 6 -232 6 -48 6 396 6 -529 6 450 6 13 6 -163 6 224 6 2 6 -220 6 486 6 -449 6 185 6 -333 6 276 6 -408 6 122 6 -34 6 61 6 239 6 -274 6 -52 6 110 6 -47 6 -4 6 129 6 63 6 -143 6 -8 6 -106 6 -128 6 334 6 32 6 -535 6 445 6 -4 6 174 6 -268 6 570 6 -319 6 -109 6 103 6 -206 6 -200 6 171 6 163 6 448 6 -352 6 -445 6 -61 6 204 6 -59 6 13 6 500 6 -230 6 27 6 -249 6 -109 6 231 6 -401 6 443 6 87 6 7 6 327 6 -604 6 271 6 -259 6 47 6 -23 6 481 6 -278 6 -23 6 -130 6 294 6 9 6 -485 6 568 6 -362 6 292 6 -416 6 280 6 -23 6 122 6 229 6 -821 6 400 6 -338 6 176 6 361 6 -100 6 -240 6 107 6 166 6 -235 6 -105 6 -78 6 -106 6 349 6 97 6 -2 6 486 6 -862 6 -63 6 1121 6 -791 6 153 6 -64 6 340 6 -361 6 434 6 -599 6 -70 6 -66 6 649 6 -107 6 -125 6 -441 6 352 6 -395 6 304 6 -104 6 470 6 50 6 -195 6 92 6 64 6 -456 6 -228 6 517 6 -144 6 -325 6 281 6 -155 6 8 6 -109 6 12 6 188 6 283 6 -464 6 488 6 -279 6 -73 6 -548 6 485 6 57 6 179 6 -44 6 307 6 158 6 -463 6 -71 6 142 6 -45 6 0 6 -457 6 541 6 -574 6 588 6 -110 6 -38 6 -146 6 -193 6 97 6 -26 6 180 6 67 6 25 6 233 6 -750 6 509 6 145 6 106 6 -199 6 175 6 -471 6 -31 6 413 6 -438 6 103 6 105 6 14 6 125 6 -270 6 587 6 -546 6 182 6 503 6 -442 6 -108 6 -106 6 119 6 235 6 -266 6 28 6 762 6 -478 6 -170 6 66 6 -186 6 -422 6 458 6 112 6 -88 6 194 6 -76 6 33 6 -294 6 249 6 -145 6 -54 6 310 6 -364 6 -230 6 416 6 -116 6 -192 6 -46 6 232 6 112 6 -168 6 363 6 -62 6 -57 6 -221 6 350 6 -310 6 432 6 -152 6 -24 6 -324 6 -276 6 757 6 -411 6 85 6 -123 6 222 6 -317 6 662 6 -687 6 -110 6 511 6 -222 6 288 6 -178 6 -12 6 545 6 -800 6 44 6 -266 6 433 6 -47 6 -238 6 678 6 -535 6 200 6 -510 6 467 6 -267 6 326 6 634 6 -1050 6 75 6 10 6 298 6 -340 6 488 6 -39 6 -396 6 35 6 -238 6 578 6 -268 6 -19 6 -127 6 493 6 -266 6 115 6 -215 6 -547 6 500 6 -195 6 216 6 218 6 -144 6 65 6 27 6 -218 6 61 6 319 6 285 6 -353 6 -216 6 -221 6 271 6 -79 6 -113 6 -29 6 427 6 -120 6 -198 6 273 6 77 6 -139 6 -67 6 -238 6 351 6 75 6 -101 6 -280 6 592 6 -476 6 -157 6 315 6 42 6 132 6 -58 6 -171 6 -316 6 158 6 214 6 237 6 -57 6 -512 6 562 6 -539 6 189 6 -193 6 143 6 210 6 -120 6 88 6 189 6 -227 6 -31 6 233 6 -186 6 -225 6 165 6 251 6 -597 6 503 6 -417 6 180 6 -172 6 190 6 307 6 -523 6 434 6 164 6 8 6 -424 6 207 6 -9 6 226 6 -758 6 266 6 -76 6 185 6 -221 6 373 6 -415 6 313 6 91 6 -278 6 77 6 13 6 436 6 -141 6 77 6 -113 6 -200 6 247 6 -224 6 239 6 -163 6 -199 6 -132 6 -166 6 370 6 -20 6 -267 6 688 6 -117 6 -445 6 -29 6 -191 6 30 6 32 6 172 6 171 6 -256 6 679 6 -369 6 300 6 -284 6 585 6 -731 6 114 6 -257 6 602 6 -275 6 -276 6 588 6 -344 6 448 6 -910 6 638 6 -220 6 -60 6 480 6 -271 6 240 6 -493 6 -201 6 840 6 -501 6 311 6 -406 6 -44 6 -78 6 64 6 507 6 -70 6 -276 6 -168 6 330 6 -88 6 -195 6 73 6 -213 6 489 6 -362 6 88 6 1 6 60 6 83 6 -423 6 441 6 -230 6 66 6 173 6 -213 6 -10 6 -282 6 526 6 -308 6 12 6 -90 6 364 6 -218 6 344 6 -351 6 -179 6 -86 6 829 6 -402 6 -176 6 485 6 -959 6 485 6 456 6 -1084 6 596 6 537 6 -234 6 -37 6 -142 6 -395 6 523 6 -34 6 -122 6 -122 6 61 6 362 6 -492 6 389 6 -12 6 -732 6 946 6 -386 6 225 6 -393 6 67 6 298 6 -104 6 13 6 -232 6 501 6 -462 6 13 6 61 6 99 6 -255 6 25 6 80 6 33 6 -137 6 4 6 398 6 28 6 -184 6 72 6 -34 6 -85 6 -355 6 292 6 -27 6 -144 6 332 6 -73 6 345 6 -220 6 -332 6 227 6 -12 6 -425 6 -35 6 345 6 226 6 94 6 -278 6 246 6 -235 6 107 6 -81 6 50 6 -353 6 307 6 -402 6 457 6 -453 6 578 6 -279 6 136 6 159 6 -694 6 426 6 247 6 132 6 -469 6 -27 6 124 6 174 6 -34 6 177 6 -157 6 -39 6 -228 6 -30 6 422 6 204 6 -852 6 384 6 194 6 -221 6 235 6 -72 6 446 6 -455 6 -449 6 180 6 236 6 -74 6 -135 6 -81 6 414 6 -123 6 -98 6 -157 6 274 6 -184 6 -72 6 165 6 -108 6 -154 6 534 6 -311 6 -30 6 -406 6 899 6 -255 6 157 6 -100 6 -294 6 288 6 -191 6 -30 6 51 6 -238 6 106 6 258 6 -85 6 -162 6 193 6 -233 6 108 6 108 6 -44 6 171 6 -310 6 192 6 31 6 -94 6 -545 6 225 6 393 6 83 6 -380 6 375 6 -478 6 406 6 -394 6 -215 6 521 6 -220 6 -24 6 -359 6 -18 6 722 6 -474 6 50 6 164 6 -50 6 349 6 -44 6 -174 6 271 6 -375 6 37 6 -299 6 575 6 -542 6 212 6 15 6 65 6 -8 6 154 6 54 6 -488 6 779 6 -721 6 131 6 28 6 -181 6 224 6 -51 6 -93 6 170 6 -241 6 18 6 218 6 -118 6 294 6 -262 6 32 6 347 6 -318 6 -118 6 328 6 75 6 -278 6 120 6 83 6 -225 6 219 6 -234 6 -209 6 161 6 29 6 261 6 -508 6 339 6 -434 6 493 6 -130 6 290 6 -353 6 371 6 -316 6 -355 6 209 6 439 6 -484 6 460 6 -192 6 50 6 -36 6 -74 6 511 6 -749 6 250 6 201 6 -293 6 -250 6 535 6 -369 6 160 6 -40 6 136 6 -132 6 -125 6 467 6 -168 6 -57 6 12 6 240 6 -242 6 124 6 -334 6 82 6 -40 6 -50 6 183 6 109 6 -370 6 237 6 40 6 -485 6 660 6 -500 6 -113 6 358 6 52 6 -212 6 250 6 246 6 -665 6 -109 6 620 6 -438 6 104 6 42 6 -165 6 241 6 -32 6 -100 6 -42 6 577 6 -773 6 123 6 -112 6 258 6 180 6 -340 6 -1 6 -100 6 55 6 321 6 46 6 -194 6 -133 6 95 6 87 6 -148 6 410 6 -367 6 428 6 -815 6 721 6 -761 6 183 6 -42 6 41 6 240 6 -101 6 -321 6 541 6 -182 6 -249 6 323 6 -499 6 585 6 -96 6 -176 6 161 6 -110 6 -60 6 25 6 -113 6 -19 6 -1 6 15 6 16 6 -65 6 -19 6 -95 6 -179 6 438 6 -490 6 169 6 -39 6 285 6 -167 6 -23 6 103 6 -204 6 352 6 -73 6 -337 6 69 6 376 6 -404 6 41 6 -146 6 161 6 -25 6 176 6 -179 6 39 6 -190 6 459 6 -386 6 -223 6 689 6 -643 6 27 6 37 6 -56 6 168 6 -297 6 87 6 345 6 -454 6 299 6 -47 6 -261 6 117 6 -122 6 -39 6 43 6 -113 6 307 6 -571 6 114 6 227 6 -99 6 -300 6 359 6 94 6 -629 6 92 6 122 6 -234 6 162 6 -69 6 -11 6 -56 6 229 6 -187 6 -76 6 176 6 -3 6 -211 6 -275 6 212 6 -205 6 -60 6 -49 6 60 6 284 6 13 6 -179 6 -151 6 -63 6 4 6 -60 6 -162 6 179 6 -265 6 -40 6 227 6 -271 6 -27 6 -110 6 -42 6 238 6 -492 6 139 6 -139 6 -44 6 133 6 -146 6 -42 6 -276 6 264 6 -312 6 0 6 27 6 17 6 -128 6 -126 6 62 6 -144 6 -87 6 -62 6 11 6 -121 6 -61 6 106 6 -106 6 -44 6 -89 6 -129 6 -34 6 -40 6 -3 6 -110 6 71 6 -46 6 -117 6 7 6 -76 6 -15 6 -22 6 45 6 -20 6 29 6 -60 6 1 6 23 6 -3 6 -4 6 -9 6 72 6 25 6 8 6 5 6 -20 6 71 6 184 6 14 6 5 6 134 6 -110 6 134 6 76 6 -6 6 27 6 96 6 37 6 -4 6 190 6 -11 6 194 6 15 6 -110 6 197 6 81 6 -90 6 167 6 -65 6 -34 6 25 6 282 6 2 6 144 6 -177 6 169 6 -185 6 398 6 7 6 364 6 -190 6 43 6 -81 6 -13 6 258 6 -35 6 -44 6 128 6 -51 6 -74 6 324 6 -80 6 -74 6 183 6 -162 6 295 6 -163 6 157 6 -14 6 217 6 -219 6 360 6 -291 6 188 6 -5 6 -127 6 440 6 -298 6 92 6 166 6 -177 6 159 6 -273 6 405 6 -305 6 53 6 194 6 197 6 -81 6 237 6 -73 6 9 6 -137 6 323 6 -291 6 177 6 -221 6 85 6 230 6 -127 6 26 6 152 6 -26 6 -1 6 174 6 61 6 -238 6 377 6 -389 6 -45 6 245 6 -140 6 238 6 -244 6 -436 6 497 6 118 6 12 6 272 6 -110 6 -67 6 78 6 -118 6 -207 6 520 6 -129 6 -136 6 267 6 -35 6 -258 6 -4 6 62 6 271 6 -288 6 -44 6 262 6 -88 6 76 6 5 6 66 6 -174 6 250 6 -488 6 221 6 187 6 -482 6 420 6 493 6 -665 6 90 6 155 6 -12 6 142 6 127 6 -10 6 -717 6 640 6 -148 6 -330 6 517 6 -118 6 82 6 219 6 -399 6 -16 6 179 6 3 6 -165 6 -8 6 -254 6 262 6 -14 6 303 6 154 6 -540 6 443 6 -308 6 127 6 194 6 -216 6 -302 6 78 6 387 6 -37 6 375 6 -167 6 -131 6 -112 6 -88 6 189 6 -345 6 449 6 -333 6 362 6 -133 6 -110 6 -120 6 315 6 -60 6 -32 6 -102 6 -245 6 161 6 217 6 -1 6 -323 6 -21 6 72 6 221 6 194 6 -28 6 -181 6 251 6 -183 6 -490 6 382 6 -100 6 390 6 -506 6 379 6 -93 6 -24 6 31 6 129 6 -243 6 -304 6 513 6 -250 6 413 6 -298 6 203 6 -435 6 396 6 -226 6 119 6 276 6 -265 6 14 6 -169 6 211 6 344 6 -163 6 -103 6 -254 6 227 6 -272 6 257 6 -140 6 -129 6 181 6 397 6 -603 6 292 6 -217 6 768 6 -587 6 10 6 89 6 -70 6 193 6 -16 6 -297 6 151 6 -205 6 76 6 237 6 -155 6 75 6 -182 6 -245 6 349 6 119 6 -569 6 522 6 98 6 -74 6 384 6 -789 6 90 6 5 6 116 6 160 6 74 6 55 6 -325 6 -40 6 33 6 393 6 -638 6 582 6 -168 6 13 6 95 6 388 6 -222 6 -142 6 -338 6 309 6 -163 6 336 6 -181 6 -341 6 -134 6 318 6 -45 6 94 6 61 6 -48 6 -196 6 366 6 95 6 -369 6 259 6 -214 6 315 6 -283 6 149 6 26 6 -266 6 285 6 388 6 -253 6 -215 6 -408 6 438 6 176 6 -134 6 -350 6 147 6 -27 6 -14 6 -210 6 607 6 -566 6 154 6 337 6 -362 6 -144 6 349 6 -273 6 683 6 -137 6 -432 6 90 6 -128 6 35 6 -79 6 503 6 -2 6 -565 6 174 6 62 6 47 6 -391 6 506 6 -241 6 -230 6 441 6 1 6 -57 6 364 6 -677 6 30 6 -188 6 402 6 -102 6 -57 6 -214 6 286 6 -33 6 251 6 -221 6 75 6 -228 6 66 6 409 6 -13 6 -309 6 167 6 -153 6 -181 6 520 6 -358 6 297 6 -200 6 21 6 210 6 271 6 -415 6 179 6 -297 6 16 6 -179 6 86 6 535 6 -39 6 -181 6 -165 6 -81 6 201 6 -220 6 274 6 -438 6 331 6 16 6 -9 6 -110 6 -317 6 275 6 -166 6 367 6 -303 6 -25 6 -53 6 422 6 -12 6 -203 6 -119 6 310 6 -222 6 -301 6 767 6 -150 6 -229 6 -147 6 108 6 -119 6 -195 6 408 6 79 6 -485 6 666 6 -552 6 -100 6 221 6 185 6 -158 6 156 6 -551 6 297 6 120 6 -79 6 -19 6 -114 6 155 6 240 6 -109 6 174 6 68 6 -355 6 174 6 -83 6 -176 6 -61 6 176 6 140 6 -261 6 318 6 -503 6 426 6 -346 6 471 6 -400 6 81 6 127 6 -260 6 115 6 93 6 41 6 -125 6 73 6 203 6 -18 6 -117 6 222 6 168 6 -603 6 304 6 -616 6 447 6 -129 6 9 6 157 6 88 6 268 6 -108 6 57 6 21 6 20 6 -375 6 474 6 -776 6 526 6 -266 6 24 6 -28 6 113 6 22 6 -69 6 -163 6 37 6 112 6 360 6 -128 6 -208 6 -238 6 -60 6 443 6 -200 6 197 6 82 6 -222 6 -106 6 72 6 562 6 -759 6 707 6 -686 6 -78 6 -377 6 1002 6 -204 6 -139 6 -71 6 199 6 -346 6 336 6 -98 6 12 6 -170 6 56 6 451 6 -522 6 398 6 -17 6 -45 6 -109 6 -183 6 2 6 454 6 -305 6 -251 6 30 6 160 6 200 6 -290 6 185 6 247 6 246 6 -655 6 -152 6 -169 6 140 6 189 6 126 6 -68 6 -103 6 402 6 -284 6 111 6 -232 6 17 6 604 6 -119 6 -340 6 -120 6 301 6 -207 6 30 6 113 6 20 6 -211 6 -179 6 384 6 -250 6 72 6 168 6 4 6 84 6 -239 6 -94 6 192 6 328 6 -406 6 47 6 60 6 -330 6 423 6 -110 6 -100 6 -291 6 557 6 -280 6 447 6 -252 6 -85 6 224 6 -405 6 66 6 223 6 -193 6 181 6 -94 6 -11 6 -349 6 494 6 -317 6 -131 6 229 6 -115 6 -309 6 677 6 8 6 -375 6 120 6 -323 6 451 6 -141 6 -122 6 603 6 -774 6 295 6 208 6 -63 6 -23 6 -401 6 482 6 -479 6 415 6 -224 6 177 6 -73 6 -218 6 230 6 111 6 -343 6 -228 6 483 6 14 6 62 6 176 6 -132 6 -241 6 217 6 -203 6 29 6 -95 6 -190 6 341 6 285 6 -347 6 -73 6 -264 6 377 6 158 6 52 6 -326 6 179 6 -268 6 -73 6 288 6 -124 6 117 6 -122 6 428 6 -108 6 -540 6 677 6 -97 6 -347 6 330 6 -113 6 101 6 -518 6 348 6 -376 6 300 6 403 6 -383 6 429 6 -606 6 686 6 -708 6 110 6 -205 6 227 6 36 6 143 6 54 6 24 6 -87 6 -23 6 -561 6 419 6 288 6 -488 6 272 6 175 6 -178 6 171 6 -263 6 187 6 -300 6 499 6 -317 6 336 6 -688 6 657 6 -688 6 486 6 -280 6 404 6 -110 6 -375 6 598 6 -420 6 480 6 -812 6 227 6 636 6 -323 6 -314 6 -264 6 514 6 394 6 -686 6 452 6 -170 6 105 6 208 6 188 6 -841 6 315 6 26 6 139 6 -213 6 324 6 18 6 54 6 16 6 -384 6 401 6 -752 6 444 6 78 6 -47 6 -404 6 862 6 -518 6 -390 6 152 6 168 6 160 6 -608 6 617 6 -525 6 639 6 136 6 -351 6 100 6 446 6 -535 6 -556 6 582 6 -131 6 103 6 -1 6 -59 6 19 6 33 6 -80 6 -14 6 60 6 372 6 -144 6 70 6 -203 6 -400 6 280 6 158 6 -547 6 268 6 332 6 -259 6 -124 6 13 6 348 6 -187 6 199 6 152 6 -416 6 557 6 -406 6 -263 6 90 6 145 6 -97 6 50 6 -261 6 173 6 -47 6 315 6 -121 6 81 6 -346 6 40 6 160 6 -166 6 169 6 55 6 -166 6 63 6 -452 6 794 6 -501 6 420 6 -380 6 393 6 161 6 -727 6 385 6 -400 6 520 6 22 6 -454 6 409 6 -147 6 209 6 -143 6 432 6 -398 6 -53 6 -237 6 -11 6 238 6 -41 6 30 6 -486 6 629 6 -341 6 157 6 306 6 -405 6 -135 6 187 6 325 6 -386 6 -11 6 236 6 -295 6 557 6 -87 6 -192 6 -76 6 -199 6 -12 6 377 6 -394 6 -120 6 160 6 212 6 30 6 125 6 249 6 -256 6 145 6 -357 6 16 6 -57 6 11 6 -35 6 223 6 -38 6 -171 6 -225 6 712 6 -146 6 -182 6 169 6 -102 6 -124 6 179 6 -353 6 24 6 -12 6 62 6 -68 6 822 6 -831 6 383 6 -681 6 626 6 -227 6 400 6 -69 6 -305 6 -41 6 -254 6 152 6 -94 6 -155 6 770 6 -663 6 502 6 -247 6 92 6 -221 6 12 6 59 6 223 6 312 6 -425 6 22 6 -18 6 -115 6 -303 6 182 6 147 6 215 6 155 6 -605 6 180 6 142 6 351 6 -265 6 -217 6 45 6 192 6 -140 6 97 6 33 6 -394 6 145 6 91 6 172 6 -402 6 600 6 -353 6 297 6 227 6 -359 6 356 6 -387 6 246 6 -307 6 111 6 235 6 -245 6 78 6 -501 6 14 6 141 6 -26 6 -338 6 470 6 19 6 -313 6 211 6 338 6 -551 6 305 6 -275 6 -31 6 430 6 -93 6 -119 6 409 6 -65 6 -247 6 36 6 202 6 -184 6 -103 6 240 6 24 6 -139 6 205 6 -45 6 -104 6 349 6 -303 6 -178 6 279 6 -482 6 180 6 -223 6 308 6 -156 6 156 6 223 6 -370 6 291 6 -283 6 344 6 -225 6 66 6 -340 6 343 6 -317 6 131 6 -221 6 424 6 -302 6 9 6 51 6 91 6 -256 6 617 6 -472 6 292 6 -241 6 -75 6 112 6 140 6 149 6 117 6 -166 6 -258 6 434 6 -901 6 585 6 157 6 -401 6 -15 6 152 6 258 6 -183 6 -241 6 87 6 610 6 -617 6 -206 6 541 6 265 6 -250 6 -194 6 66 6 1 6 639 6 -525 6 10 6 -144 6 -268 6 431 6 -422 6 -56 6 81 6 340 6 -413 6 390 6 -42 6 289 6 -121 6 -16 6 -506 6 226 6 12 6 146 6 14 6 127 6 -139 6 -384 6 352 6 -502 6 327 6 205 6 -368 6 294 6 -232 6 338 6 -437 6 230 6 42 6 -163 6 328 6 349 6 -279 6 -389 6 -140 6 645 6 -416 6 -15 6 432 6 84 6 -776 6 301 6 165 6 -192 6 487 6 -450 6 111 6 50 6 -319 6 245 6 -3 6 111 6 77 6 -151 6 -355 6 773 6 -197 6 -105 6 -275 6 295 6 -284 6 612 6 -239 6 -394 6 694 6 -597 6 -236 6 141 6 -15 6 363 6 -61 6 -359 6 154 6 -321 6 297 6 58 6 30 6 -326 6 103 6 333 6 -241 6 324 6 -401 6 261 6 -379 6 -14 6 151 6 534 6 -229 6 -192 6 5 6 -22 6 -148 6 385 6 124 6 34 6 -560 6 50 6 308 6 -93 6 -303 6 368 6 -234 6 -23 6 123 6 -128 6 -69 6 342 6 294 6 -347 6 308 6 48 6 -545 6 388 6 -122 6 -141 6 244 6 -346 6 -295 6 626 6 -185 6 582 6 -385 6 -591 6 406 6 86 6 -213 6 177 6 -402 6 362 6 119 6 -81 6 527 6 -695 6 -24 6 547 6 195 6 -479 6 -183 6 -299 6 547 6 -16 6 -171 6 -304 6 505 6 -123 6 82 6 -382 6 -133 6 -133 6 99 6 165 6 334 6 -242 6 -177 6 101 6 381 6 -135 6 34 6 -320 6 160 6 156 6 -253 6 64 6 240 6 -393 6 225 6 51 6 192 6 -249 6 -88 6 628 6 -347 6 -89 6 -186 6 408 6 -743 6 515 6 143 6 -167 6 -229 6 200 6 161 6 -219 6 -16 6 39 6 250 6 -294 6 -732 6 850 6 -95 6 526 6 -479 6 -70 6 176 6 -64 6 194 6 -414 6 179 6 279 6 -192 6 -145 6 18 6 -525 6 595 6 -47 6 220 6 -327 6 326 6 -306 6 263 6 39 6 -6 6 -645 6 719 6 -497 6 220 6 298 6 -219 6 104 6 -253 6 -183 6 -194 6 576 6 6 6 23 6 -155 6 180 6 -583 6 422 6 32 6 637 6 -730 6 271 6 -775 6 399 6 228 6 -206 6 -320 6 354 6 -94 6 603 6 -243 6 108 6 -381 6 437 6 59 6 -294 6 -59 6 -170 6 -234 6 73 6 259 6 -15 6 472 6 -697 6 464 6 -95 6 -82 6 217 6 -169 6 -276 6 -99 6 -124 6 235 6 321 6 -225 6 344 6 319 6 -668 6 228 6 0 6 138 6 -682 6 415 6 -276 6 268 6 -33 6 14 6 -298 6 779 6 -369 6 87 6 -249 6 230 6 -134 6 145 6 69 6 -303 6 -137 6 165 6 388 6 -134 6 -357 6 264 6 -272 6 169 6 -326 6 568 6 -279 6 -150 6 82 6 416 6 -109 6 -88 6 163 6 -150 6 10 6 -34 6 3 6 90 6 -363 6 -56 6 268 6 -334 6 16 6 363 6 -491 6 59 6 135 6 285 6 -164 6 201 6 -297 6 239 6 200 6 1 6 -130 6 87 6 -329 6 -65 6 141 6 121 6 -25 6 64 6 72 6 -302 6 244 6 -259 6 359 6 50 6 -353 6 -562 6 621 6 199 6 -525 6 325 6 89 6 195 6 -441 6 275 6 93 6 -124 6 -324 6 67 6 445 6 199 6 -818 6 341 6 -453 6 382 6 -30 6 125 6 -16 6 -47 6 45 6 -357 6 410 6 38 6 -351 6 483 6 -146 6 -77 6 362 6 -445 6 125 6 -219 6 135 6 346 6 45 6 -142 6 -120 6 -21 6 18 6 -189 6 411 6 -145 6 -481 6 352 6 -12 6 -174 6 460 6 -374 6 103 6 145 6 -221 6 -286 6 265 6 102 6 -400 6 231 6 -323 6 151 6 261 6 177 6 -72 6 -326 6 545 6 -840 6 1131 6 -680 6 -146 6 456 6 308 6 -375 6 -22 6 -300 6 212 6 -61 6 87 6 -376 6 449 6 -68 6 -102 6 -595 6 1383 6 -213 6 -367 6 75 6 -197 6 -197 6 20 6 208 6 107 6 -120 6 126 6 -636 6 173 6 311 6 -193 6 275 6 -109 6 -44 6 306 6 -280 6 154 6 -261 6 358 6 -104 6 -268 6 -226 6 224 6 47 6 413 6 -201 6 -170 6 50 6 -35 6 -245 6 -53 6 437 6 70 6 185 6 -398 6 -125 6 -152 6 462 6 -60 6 87 6 -713 6 127 6 490 6 -161 6 236 6 -87 6 -602 6 574 6 -16 6 -47 6 316 6 59 6 106 6 -718 6 420 6 -39 6 -355 6 472 6 -151 6 80 6 -277 6 151 6 343 6 -638 6 -68 6 228 6 143 6 -40 6 248 6 -191 6 -328 6 180 6 387 6 3 6 -254 6 -361 6 192 6 105 6 -206 6 375 6 -258 6 160 6 191 6 -395 6 429 6 -289 6 -251 6 535 6 -593 6 -29 6 137 6 242 6 2 6 -3 6 -63 6 220 6 -287 6 -270 6 663 6 -704 6 635 6 -51 6 -98 6 -88 6 -57 6 -341 6 253 6 -157 6 395 6 -223 6 523 6 -138 6 -825 6 579 6 -171 6 -52 6 39 6 484 6 -362 6 -487 6 285 6 339 6 -102 6 121 6 -156 6 18 6 25 6 173 6 238 6 -520 6 59 6 -74 6 -142 6 316 6 -333 6 313 6 -268 6 73 6 337 6 -414 6 114 6 86 6 50 6 -36 6 185 6 115 6 -277 6 -201 6 225 6 -206 6 525 6 -737 6 326 6 120 6 -74 6 -70 6 65 6 -69 6 382 6 -432 6 177 6 216 6 -448 6 189 6 -360 6 500 6 -451 6 179 6 309 6 -387 6 81 6 -96 6 354 6 431 6 -459 6 -129 6 -184 6 -62 6 -20 6 154 6 99 6 138 6 -217 6 219 6 -162 6 141 6 -248 6 251 6 62 6 -23 6 -255 6 251 6 -406 6 519 6 -297 6 142 6 198 6 -255 6 -117 6 -44 6 211 6 182 6 -81 6 -38 6 -551 6 707 6 -256 6 -536 6 766 6 -633 6 47 6 136 6 73 6 517 6 -372 6 29 6 -336 6 15 6 541 6 290 6 -379 6 -630 6 421 6 19 6 -157 6 225 6 -139 6 268 6 -12 6 -301 6 73 6 -118 6 148 6 -207 6 126 6 17 6 -171 6 225 6 292 6 -72 6 -138 6 -297 6 371 6 -64 6 -357 6 -52 6 661 6 -55 6 -226 6 -62 6 155 6 209 6 -838 6 414 6 -253 6 148 6 46 6 533 6 -477 6 39 6 5 6 207 6 110 6 -295 6 -137 6 -84 6 190 6 443 6 -314 6 34 6 49 6 115 6 -416 6 301 6 -180 6 -106 6 310 6 -112 6 80 6 -413 6 434 6 182 6 -570 6 773 6 -886 6 217 6 13 6 -8 6 77 6 -80 6 678 6 -490 6 197 6 174 6 -153 6 -199 6 -133 6 241 6 33 6 -548 6 184 6 348 6 -3 6 -222 6 -163 6 317 6 -94 6 -237 6 561 6 -377 6 84 6 181 6 -280 6 -135 6 257 6 50 6 -425 6 259 6 238 6 -264 6 -98 6 202 6 376 6 -287 6 122 6 -606 6 526 6 -575 6 392 6 -10 6 -42 6 -308 6 607 6 -147 6 -25 6 -150 6 213 6 -163 6 -165 6 286 6 -384 6 299 6 29 6 -181 6 216 6 -175 6 239 6 134 6 -341 6 -92 6 179 6 -209 6 289 6 -573 6 537 6 -176 6 127 6 23 6 164 6 -510 6 349 6 101 6 -394 6 18 6 387 6 -306 6 -108 6 206 6 329 6 -269 6 150 6 110 6 -324 6 -96 6 653 6 -417 6 104 6 -279 6 219 6 177 6 -621 6 353 6 -339 6 253 6 249 6 116 6 12 6 -263 6 -97 6 -267 6 568 6 -288 6 -152 6 -139 6 89 6 82 6 -17 6 443 6 -314 6 298 6 -756 6 256 6 254 6 37 6 -5 6 -199 6 201 6 -38 6 168 6 -325 6 -25 6 377 6 -373 6 179 6 -233 6 -26 6 335 6 -248 6 -111 6 517 6 -276 6 242 6 -372 6 511 6 -571 6 274 6 -225 6 -313 6 465 6 212 6 38 6 -417 6 457 6 37 6 -409 6 -213 6 221 6 -353 6 143 6 102 6 73 6 16 6 -13 6 -132 6 199 6 367 6 55 6 -148 6 -240 6 351 6 -292 6 -110 6 -198 6 465 6 4 6 77 6 -14 6 -180 6 -422 6 1058 6 -720 6 -58 6 -249 6 21 6 217 6 454 6 -194 6 -104 6 96 6 -341 6 282 6 139 6 -242 6 -197 6 311 6 107 6 -51 6 -199 6 -52 6 215 6 21 6 -340 6 -331 6 -91 6 53 6 673 6 -187 6 56 6 87 6 16 6 -121 6 -112 6 -191 6 -4 6 362 6 1 6 -273 6 54 6 259 6 -121 6 416 6 -468 6 332 6 -334 6 713 6 -646 6 279 6 -152 6 -143 6 174 6 -514 6 143 6 306 6 -471 6 393 6 -55 6 -353 6 -31 6 418 6 -164 6 192 6 -248 6 281 6 -316 6 631 6 -455 6 -181 6 224 6 419 6 -423 6 295 6 -136 6 -126" fill="none" stroke="#ff0000" stroke-width="97.043"/>
<rect x="403.25" y="167.00" width="247.25" height="118.50" fill="none" stroke="#000" stroke-width="1.5"/>
<path d="M403.25 285.50v-7.50M403.25 167.00v7.50M423.85 285.50v-4.00M423.85 167.00v4.00M444.46 285.50v-7.50M444.46 167.00v7.50M465.06 285.50v-4.00M465.06 167.00v4.00M485.67 285.50v-7.50M485.67 167.00v7.50M506.27 285.50v-4.00M506.27 167.00v4.00M526.88 285.50v-7.50M526.88 167.00v7.50M547.48 285.50v-4.00M547.48 167.00v4.00M568.08 285.50v-7.50M568.08 167.00v7.50M588.69 285.50v-4.00M588.69 167.00v4.00M609.29 285.50v-7.50M609.29 167.00v7.50M629.90 285.50v-4.00M629.90 167.00v4.00M650.50 285.50v-7.50M650.50 167.00v7.50M403.25 285.50h7.50M650.50 285.50h-7.50M403.25 270.69h4.00M650.50 270.69h-4.00M403.25 255.88h7.50M650.50 255.88h-7.50M403.25 241.06h4.00M650.50 241.06h-4.00M403.25 226.25h7.50M650.50 226.25h-7.50M403.25 211.44h4.00M650.50 211.44h-4.00M403.25 196.62h7.50M650.50 196.62h-7.50M403.25 181.81h4.00M650.50 181.81h-4.00M403.25 167.00h7.50M650.50 167.00h-7.50" stroke="#000" stroke-width="1.5" fill="none"/>
<rect x="470.85" y="250.10" width="124.20" height="20.60" fill="#fff" stroke="#2a2a2a" stroke-width="1.15"/>
<path d="M480.80 261.35H517.80" stroke="#c04848" stroke-width="1.1"/>
<text x="590.60" y="267.00" font-size="17.1" text-anchor="end">266 MHz</text>
<g font-size="18.5"><text transform="translate(394.15 290.40) scale(0.96 1.02)" text-anchor="end">0.0</text>
<text transform="translate(394.15 260.77) scale(0.96 1.02)" text-anchor="end">0.5</text>
<text transform="translate(394.15 231.15) scale(0.96 1.02)" text-anchor="end">1.0</text>
<text transform="translate(394.15 201.53) scale(0.96 1.02)" text-anchor="end">1.5</text>
<text transform="translate(394.15 171.90) scale(0.96 1.02)" text-anchor="end">2.0</text></g>
<path transform="translate(67.750 326.800) scale(0.0103130)" d="M0 5310 l6 446 6 232 6 -672 6 472 6 83 6 -88 6 9 6 -358 6 788 6 -289 6 -368 6 143 6 62 6 415 6 -639 6 326 6 -442 6 844 6 -604 6 -49 6 -245 6 349 6 171 6 -203 6 136 6 -111 6 492 6 -460 6 -36 6 -13 6 41 6 -417 6 -36 6 200 6 221 6 -305 6 286 6 117 6 39 6 -102 6 -364 6 36 6 22 6 192 6 215 6 -203 6 80 6 134 6 -383 6 598 6 -45 6 -42 6 -144 6 -100 6 -204 6 -26 6 300 6 29 6 -153 6 -219 6 136 6 -51 6 -64 6 119 6 79 6 473 6 -349 6 173 6 -111 6 -104 6 -227 6 -81 6 423 6 -313 6 -24 6 572 6 -511 6 86 6 397 6 -445 6 -131 6 -19 6 283 6 -285 6 -69 6 94 6 470 6 -526 6 326 6 -1 6 -414 6 -44 6 -19 6 1013 6 -979 6 805 6 -616 6 415 6 -348 6 -173 6 23 6 294 6 538 6 -463 6 -12 6 -132 6 -211 6 397 6 -359 6 375 6 -59 6 -229 6 -92 6 -39 6 346 6 -287 6 403 6 -744 6 336 6 135 6 219 6 -67 6 -171 6 201 6 -180 6 229 6 -46 6 -401 6 450 6 -119 6 120 6 -345 6 352 6 -146 6 -85 6 82 6 -202 6 72 6 21 6 164 6 -70 6 138 6 -23 6 58 6 -563 6 133 6 457 6 -231 6 -219 6 232 6 -419 6 656 6 -302 6 522 6 -776 6 440 6 -202 6 -184 6 256 6 79 6 52 6 -482 6 -41 6 477 6 -429 6 455 6 386 6 -364 6 35 6 -250 6 -20 6 270 6 4 6 -133 6 521 6 -690 6 -90 6 213 6 339 6 -285 6 153 6 -39 6 -524 6 436 6 99 6 -301 6 471 6 -715 6 302 6 31 6 -23 6 408 6 -456 6 17 6 102 6 199 6 -167 6 -348 6 496 6 -263 6 -110 6 482 6 -174 6 -176 6 -220 6 217 6 213 6 -131 6 395 6 -515 6 133 6 40 6 -72 6 -26 6 276 6 -716 6 728 6 -272 6 20 6 385 6 -312 6 168 6 89 6 103 6 -395 6 -236 6 41 6 206 6 -117 6 596 6 -579 6 205 6 -275 6 -20 6 154 6 70 6 1 6 -467 6 491 6 -166 6 -118 6 -114 6 638 6 -353 6 299 6 -189 6 -245 6 567 6 -441 6 65 6 -219 6 189 6 -47 6 114 6 -320 6 91 6 95 6 796 6 -879 6 300 6 -293 6 62 6 -52 6 214 6 -128 6 85 6 302 6 -429 6 268 6 -192 6 -206 6 -68 6 173 6 52 6 67 6 183 6 -296 6 30 6 206 6 -246 6 377 6 -349 6 237 6 39 6 -3 6 -72 6 103 6 -229 6 -17 6 -636 6 1049 6 -299 6 -266 6 -152 6 327 6 -205 6 292 6 -260 6 297 6 171 6 -322 6 86 6 -51 6 105 6 232 6 -243 6 43 6 141 6 -80 6 -167 6 -22 6 206 6 45 6 -91 6 23 6 -122 6 -425 6 454 6 343 6 -756 6 344 6 89 6 -204 6 217 6 -485 6 386 6 -5 6 84 6 -179 6 145 6 35 6 -54 6 156 6 -370 6 -117 6 525 6 -135 6 -198 6 389 6 -118 6 -282 6 92 6 -47 6 497 6 -686 6 226 6 55 6 -447 6 201 6 554 6 -763 6 558 6 -99 6 231 6 -611 6 342 6 -129 6 -107 6 209 6 468 6 -822 6 435 6 266 6 -257 6 -11 6 24 6 -79 6 -124 6 -317 6 208 6 176 6 -472 6 486 6 -525 6 527 6 394 6 -702 6 360 6 27 6 -40 6 -49 6 -121 6 162 6 271 6 -379 6 -29 6 192 6 -154 6 -68 6 554 6 43 6 -265 6 -388 6 559 6 -616 6 390 6 -231 6 221 6 18 6 -51 6 104 6 53 6 -55 6 -85 6 -3 6 240 6 -212 6 -49 6 -209 6 5 6 103 6 -17 6 325 6 -162 6 -290 6 84 6 -254 6 -145 6 66 6 560 6 4 6 -66 6 -382 6 225 6 145 6 193 6 -240 6 43 6 -351 6 -283 6 891 6 37 6 -551 6 33 6 296 6 -214 6 -9 6 337 6 -419 6 290 6 -175 6 -254 6 532 6 -426 6 18 6 -188 6 558 6 -279 6 438 6 -345 6 -325 6 -121 6 284 6 389 6 141 6 -467 6 239 6 -248 6 88 6 6 6 -373 6 709 6 -286 6 -235 6 -172 6 608 6 47 6 -167 6 291 6 -127 6 -611 6 536 6 111 6 -209 6 -133 6 220 6 -188 6 -211 6 43 6 229 6 -341 6 -93 6 245 6 579 6 -671 6 294 6 -297 6 369 6 20 6 -14 6 -32 6 -509 6 525 6 -20 6 -145 6 303 6 -137 6 107 6 -451 6 555 6 -307 6 -76 6 -242 6 96 6 123 6 290 6 -782 6 232 6 216 6 445 6 -219 6 152 6 14 6 -79 6 172 6 -48 6 -179 6 -48 6 393 6 -393 6 -437 6 421 6 80 6 5 6 -648 6 320 6 -6 6 61 6 123 6 -446 6 501 6 448 6 -626 6 -90 6 151 6 -88 6 30 6 21 6 -400 6 130 6 205 6 93 6 145 6 163 6 33 6 -19 6 -216 6 7 6 -223 6 124 6 503 6 -66 6 -242 6 -740 6 680 6 -230 6 70 6 174 6 -280 6 644 6 -239 6 131 6 -455 6 -398 6 593 6 163 6 -4 6 -257 6 41 6 -128 6 237 6 13 6 -431 6 -32 6 134 6 369 6 -505 6 -455 6 967 6 -418 6 231 6 -141 6 36 6 -84 6 292 6 -190 6 186 6 -212 6 55 6 183 6 -145 6 99 6 -189 6 21 6 -15 6 588 6 -472 6 112 6 -22 6 -349 6 38 6 159 6 -325 6 43 6 212 6 -150 6 -188 6 654 6 43 6 -57 6 -137 6 -78 6 -303 6 438 6 -494 6 27 6 0 6 303 6 190 6 -477 6 184 6 158 6 -260 6 124 6 256 6 -287 6 74 6 86 6 -143 6 285 6 -198 6 141 6 -298 6 145 6 78 6 -254 6 341 6 41 6 -429 6 464 6 -540 6 96 6 307 6 74 6 -631 6 457 6 95 6 46 6 92 6 -722 6 350 6 119 6 140 6 -31 6 -300 6 710 6 -343 6 39 6 131 6 -521 6 320 6 -409 6 8 6 489 6 -477 6 176 6 117 6 -335 6 226 6 15 6 368 6 -542 6 268 6 -338 6 335 6 -278 6 191 6 -119 6 633 6 -477 6 55 6 6 6 208 6 176 6 -584 6 160 6 -43 6 -191 6 364 6 -447 6 156 6 88 6 40 6 -387 6 302 6 -57 6 389 6 -321 6 341 6 -82 6 -248 6 157 6 360 6 -176 6 -107 6 -266 6 256 6 -367 6 217 6 254 6 -600 6 397 6 80 6 46 6 -137 6 82 6 -155 6 -121 6 145 6 192 6 -397 6 293 6 -152 6 602 6 -759 6 402 6 -345 6 466 6 -225 6 -355 6 38 6 200 6 -98 6 644 6 -321 6 -108 6 423 6 -338 6 -173 6 -160 6 261 6 -340 6 -309 6 621 6 -179 6 4 6 -167 6 801 6 -571 6 213 6 171 6 -10 6 -186 6 -190 6 239 6 209 6 -293 6 -358 6 529 6 -367 6 -135 6 304 6 144 6 45 6 -512 6 144 6 165 6 -62 6 200 6 -111 6 -397 6 223 6 18 6 -42 6 283 6 -191 6 330 6 282 6 -515 6 90 6 33 6 188 6 -248 6 -8 6 143 6 -30 6 118 6 -149 6 -306 6 401 6 -404 6 473 6 -134 6 -836 6 1001 6 -542 6 408 6 -262 6 -55 6 -87 6 226 6 115 6 -694 6 405 6 0 6 334 6 66 6 -388 6 -203 6 468 6 132 6 -474 6 346 6 -235 6 345 6 -238 6 177 6 -91 6 91 6 -242 6 134 6 -135 6 173 6 -368 6 414 6 -84 6 -315 6 209 6 194 6 -39 6 57 6 -418 6 232 6 11 6 349 6 -553 6 -7 6 -79 6 535 6 -524 6 409 6 -226 6 55 6 -158 6 505 6 -330 6 -152 6 -259 6 471 6 -156 6 -210 6 401 6 -20 6 -68 6 -304 6 377 6 -131 6 143 6 -129 6 -360 6 240 6 28 6 220 6 53 6 -353 6 -72 6 446 6 -104 6 37 6 -25 6 -265 6 442 6 -496 6 -98 6 652 6 -334 6 75 6 178 6 -664 6 99 6 456 6 -10 6 -158 6 -246 6 42 6 191 6 310 6 116 6 -353 6 -157 6 -60 6 -142 6 346 6 18 6 -293 6 296 6 -219 6 723 6 -815 6 210 6 -12 6 -125 6 188 6 358 6 -238 6 -481 6 416 6 -31 6 114 6 -77 6 102 6 110 6 -245 6 148 6 107 6 -516 6 307 6 -126 6 -285 6 -29 6 504 6 -211 6 99 6 158 6 -221 6 183 6 41 6 -160 6 -64 6 -77 6 163 6 -247 6 315 6 -1 6 -258 6 356 6 -309 6 -48 6 284 6 22 6 -155 6 -100 6 222 6 -18 6 259 6 -407 6 -108 6 -26 6 218 6 -144 6 -214 6 157 6 134 6 25 6 -102 6 31 6 129 6 -269 6 224 6 -166 6 248 6 -363 6 234 6 160 6 32 6 -550 6 284 6 -115 6 320 6 -57 6 48 6 -178 6 133 6 -112 6 300 6 -719 6 739 6 -1014 6 683 6 -221 6 292 6 -243 6 155 6 339 6 -42 6 57 6 -455 6 238 6 -34 6 -43 6 55 6 -12 6 168 6 51 6 -319 6 31 6 62 6 -145 6 38 6 14 6 -201 6 750 6 -550 6 598 6 -687 6 18 6 196 6 -22 6 -167 6 248 6 -55 6 -215 6 698 6 -591 6 -22 6 -77 6 73 6 460 6 -634 6 512 6 339 6 -615 6 35 6 -57 6 -71 6 -206 6 132 6 526 6 -417 6 7 6 127 6 -39 6 40 6 -195 6 360 6 336 6 -499 6 170 6 -128 6 -227 6 413 6 -271 6 270 6 -24 6 -80 6 57 6 -300 6 337 6 -208 6 5 6 38 6 -241 6 -79 6 99 6 -131 6 270 6 -263 6 74 6 174 6 -246 6 455 6 31 6 53 6 -353 6 361 6 -471 6 472 6 -197 6 -77 6 -119 6 275 6 -299 6 -48 6 195 6 391 6 -629 6 319 6 70 6 -186 6 481 6 -645 6 457 6 -355 6 77 6 191 6 -256 6 0 6 119 6 -60 6 -43 6 206 6 74 6 -198 6 359 6 -135 6 -377 6 -2 6 178 6 -164 6 167 6 129 6 -293 6 132 6 -8 6 34 6 -531 6 371 6 -80 6 246 6 -158 6 265 6 -74 6 -35 6 -28 6 -383 6 532 6 -361 6 140 6 28 6 -427 6 497 6 335 6 -622 6 101 6 491 6 -479 6 354 6 -193 6 -304 6 492 6 -166 6 -334 6 301 6 81 6 -283 6 -30 6 -13 6 -289 6 886 6 -7 6 -233 6 235 6 -165 6 101 6 -435 6 -80 6 363 6 -632 6 115 6 540 6 -91 6 -27 6 -175 6 -7 6 115 6 -36 6 6 6 -92 6 286 6 -164 6 214 6 -203 6 73 6 -91 6 427 6 -92 6 -682 6 303 6 247 6 -288 6 -369 6 213 6 494 6 -72 6 250 6 -179 6 -447 6 -117 6 311 6 346 6 206 6 -566 6 52 6 19 6 -27 6 -429 6 491 6 -129 6 -77 6 -204 6 371 6 11 6 -176 6 141 6 225 6 -215 6 25 6 149 6 142 6 -145 6 -62 6 -288 6 -87 6 861 6 -637 6 71 6 -61 6 -111 6 322 6 406 6 -672 6 118 6 -181 6 46 6 167 6 -212 6 200 6 -143 6 266 6 -242 6 -6 6 212 6 -154 6 -363 6 469 6 172 6 -595 6 -130 6 403 6 -53 6 -55 6 227 6 -261 6 247 6 455 6 -424 6 -147 6 -348 6 442 6 122 6 -165 6 40 6 99 6 -396 6 176 6 272 6 -208 6 -164 6 521 6 35 6 -301 6 66 6 100 6 -113 6 201 6 -725 6 358 6 -79 6 276 6 -259 6 706 6 -424 6 -242 6 222 6 -135 6 466 6 -408 6 -141 6 -51 6 144 6 140 6 -444 6 495 6 -72 6 -93 6 -88 6 -69 6 292 6 -304 6 16 6 400 6 -400 6 311 6 -507 6 -70 6 665 6 182 6 -273 6 -123 6 -48 6 68 6 -396 6 240 6 -66 6 546 6 -509 6 180 6 -107 6 33 6 -287 6 576 6 -426 6 557 6 -527 6 96 6 -327 6 345 6 -119 6 270 6 -221 6 34 6 53 6 24 6 -111 6 265 6 -216 6 -257 6 73 6 77 6 490 6 -121 6 65 6 -202 6 -75 6 -192 6 255 6 15 6 -342 6 295 6 312 6 -455 6 292 6 -244 6 -212 6 99 6 280 6 -100 6 137 6 -436 6 86 6 128 6 -111 6 -110 6 347 6 -226 6 -212 6 406 6 -336 6 152 6 340 6 -193 6 274 6 -442 6 334 6 -170 6 26 6 -469 6 269 6 116 6 -349 6 545 6 -341 6 75 6 35 6 -131 6 362 6 -543 6 256 6 -16 6 34 6 38 6 -599 6 649 6 197 6 -106 6 550 6 -743 6 209 6 -74 6 126 6 -300 6 -303 6 643 6 -420 6 77 6 -12 6 110 6 -158 6 -69 6 362 6 484 6 -680 6 226 6 -424 6 421 6 -172 6 603 6 -621 6 36 6 -264 6 211 6 -27 6 29 6 512 6 -641 6 166 6 -7 6 -57 6 229 6 -71 6 -55 6 -81 6 -186 6 205 6 -50 6 296 6 -595 6 123 6 107 6 454 6 -400 6 400 6 -181 6 64 6 110 6 -317 6 -331 6 536 6 -360 6 220 6 54 6 -119 6 -48 6 276 6 116 6 -133 6 512 6 35 6 -506 6 -214 6 101 6 50 6 69 6 15 6 -159 6 -22 6 52 6 -90 6 -146 6 462 6 80 6 -669 6 551 6 -91 6 -259 6 158 6 -302 6 245 6 -175 6 120 6 -72 6 216 6 36 6 -184 6 276 6 -511 6 304 6 55 6 -431 6 486 6 33 6 -295 6 177 6 -48 6 -41 6 -118 6 240 6 -356 6 439 6 -209 6 122 6 -385 6 478 6 -736 6 747 6 -283 6 27 6 -73 6 23 6 405 6 25 6 -279 6 -75 6 256 6 -284 6 -240 6 270 6 -108 6 301 6 -667 6 511 6 -35 6 -5 6 107 6 -79 6 -45 6 289 6 -395 6 40 6 199 6 186 6 -184 6 148 6 -649 6 146 6 227 6 106 6 -287 6 73 6 -264 6 836 6 -550 6 446 6 -772 6 896 6 -193 6 -35 6 -126 6 -9 6 -293 6 254 6 -59 6 -42 6 405 6 -608 6 546 6 -413 6 -4 6 393 6 -490 6 109 6 35 6 42 6 -10 6 -86 6 -115 6 732 6 -900 6 358 6 -36 6 219 6 -26 6 -217 6 326 6 83 6 -443 6 107 6 146 6 -491 6 339 6 -40 6 107 6 -31 6 187 6 -486 6 658 6 -209 6 293 6 -345 6 -124 6 32 6 -131 6 275 6 -232 6 270 6 24 6 -169 6 -219 6 653 6 -255 6 -4 6 -282 6 188 6 -162 6 -206 6 201 6 56 6 191 6 150 6 -245 6 -435 6 600 6 -231 6 208 6 -318 6 -135 6 516 6 -285 6 57 6 56 6 122 6 -303 6 2 6 -271 6 496 6 -164 6 179 6 -45 6 -575 6 193 6 319 6 -14 6 -77 6 -314 6 101 6 248 6 263 6 -190 6 -451 6 571 6 -135 6 363 6 -534 6 86 6 -374 6 844 6 -206 6 3 6 -413 6 169 6 298 6 -417 6 804 6 -969 6 81 6 562 6 -156 6 158 6 -395 6 -56 6 299 6 -544 6 427 6 -233 6 44 6 31 6 -23 6 146 6 129 6 72 6 -180 6 -224 6 -229 6 322 6 103 6 5 6 -43 6 274 6 -44 6 -315 6 -146 6 -83 6 174 6 260 6 -385 6 169 6 139 6 -477 6 430 6 -299 6 352 6 -65 6 -16 6 5 6 15 6 -68 6 -229 6 266 6 204 6 292 6 -643 6 -216 6 646 6 -336 6 -342 6 547 6 -36 6 -301 6 359 6 125 6 -217 6 676 6 -485 6 -400 6 254 6 -8 6 -63 6 91 6 71 6 -117 6 264 6 -389 6 104 6 -167 6 236 6 -478 6 386 6 107 6 -348 6 454 6 -559 6 -156 6 745 6 69 6 -408 6 -79 6 15 6 379 6 77 6 187 6 -563 6 266 6 314 6 -569 6 -102 6 101 6 197 6 -288 6 721 6 -602 6 -94 6 197 6 129 6 -62 6 -445 6 493 6 351 6 -551 6 379 6 -304 6 114 6 -137 6 269 6 -430 6 -5 6 81 6 -13 6 -5 6 176 6 -80 6 -149 6 211 6 203 6 291 6 -652 6 -207 6 249 6 53 6 162 6 -124 6 -232 6 -269 6 292 6 107 6 -289 6 17 6 840 6 -380 6 290 6 102 6 -573 6 75 6 19 6 -216 6 163 6 -69 6 -23 6 277 6 -697 6 288 6 231 6 -119 6 244 6 -216 6 -20 6 254 6 30 6 -849 6 843 6 -490 6 477 6 -58 6 -277 6 468 6 -742 6 262 6 172 6 -444 6 581 6 -477 6 308 6 -125 6 183 6 106 6 -49 6 -318 6 232 6 83 6 64 6 295 6 -733 6 242 6 365 6 -247 6 -117 6 185 6 -82 6 -17 6 -124 6 84 6 -190 6 -18 6 154 6 -11 6 119 6 -262 6 -195 6 292 6 -46 6 -114 6 420 6 -145 6 -233 6 158 6 -215 6 243 6 -396 6 247 6 266 6 170 6 -516 6 335 6 3 6 116 6 140 6 -568 6 342 6 -112 6 213 6 -4 6 -197 6 56 6 -310 6 79 6 45 6 -273 6 324 6 226 6 -376 6 -179 6 448 6 -383 6 187 6 152 6 344 6 -214 6 35 6 -396 6 409 6 -395 6 -51 6 301 6 45 6 89 6 -202 6 84 6 -29 6 56 6 -66 6 -400 6 390 6 151 6 28 6 -286 6 192 6 -131 6 27 6 161 6 280 6 -400 6 450 6 -663 6 468 6 -161 6 -73 6 166 6 -432 6 394 6 -200 6 -58 6 -247 6 124 6 -137 6 148 6 608 6 -537 6 179 6 -124 6 16 6 -248 6 648 6 -483 6 128 6 246 6 -236 6 -137 6 78 6 -24 6 119 6 -199 6 71 6 205 6 -633 6 671 6 -577 6 396 6 13 6 -323 6 286 6 78 6 -154 6 -394 6 516 6 -714 6 124 6 -30 6 66 6 245 6 -133 6 -223 6 -112 6 -26 6 104 6 33 6 -615 6 649 6 -285 6 170 6 -498 6 248 6 -267 6 -219 6 644 6 -330 6 98 6 -189 6 -80 6 -170 6 -420 6 128 6 -161 6 -248 6 106 6 -43 6 -273 6 26 6 73 6 40 6 -264 6 -184 6 -7 6 -242 6 -206 6 -6 6 225 6 -285 6 -44 6 -246 6 -57 6 -41 6 -74 6 -61 6 -28 6 -146 6 -18 6 -101 6 -141 6 12 6 -103 6 -25 6 -1 6 -102 6 6 6 -63 6 -7 6 -63 6 4 6 11 6 17 6 -96 6 82 6 -2 6 20 6 35 6 63 6 0 6 58 6 -41 6 -10 6 177 6 20 6 23 6 153 6 53 6 75 6 -59 6 128 6 178 6 18 6 85 6 86 6 250 6 -63 6 65 6 59 6 131 6 166 6 76 6 -37 6 -142 6 515 6 -132 6 79 6 257 6 493 6 -403 6 231 6 111 6 -79 6 293 6 103 6 -233 6 69 6 53 6 170 6 134 6 -24 6 -35 6 -22 6 234 6 5 6 291 6 -231 6 -98 6 57 6 379 6 426 6 -139 6 -191 6 325 6 -40 6 -493 6 717 6 35 6 -273 6 34 6 -449 6 406 6 -13 6 63 6 421 6 103 6 -51 6 -270 6 345 6 -533 6 194 6 -111 6 -8 6 136 6 406 6 -174 6 -217 6 384 6 -263 6 229 6 -407 6 38 6 82 6 -86 6 -114 6 225 6 -53 6 -143 6 150 6 43 6 58 6 63 6 66 6 -285 6 71 6 144 6 -329 6 -33 6 243 6 218 6 -273 6 77 6 -130 6 123 6 -219 6 486 6 -246 6 61 6 -147 6 237 6 10 6 145 6 -311 6 -395 6 19 6 475 6 -89 6 -91 6 458 6 -522 6 -158 6 339 6 383 6 -79 6 -457 6 204 6 -51 6 -172 6 136 6 84 6 0 6 338 6 -694 6 -16 6 400 6 -190 6 274 6 -338 6 148 6 108 6 28 6 -383 6 243 6 -117 6 298 6 -786 6 517 6 373 6 -589 6 556 6 -521 6 35 6 -199 6 486 6 285 6 -459 6 -74 6 121 6 43 6 -367 6 143 6 438 6 -279 6 360 6 -212 6 340 6 -197 6 55 6 161 6 -395 6 -70 6 185 6 213 6 -688 6 381 6 70 6 21 6 -344 6 471 6 -254 6 304 6 -527 6 433 6 27 6 -347 6 23 6 -96 6 50 6 -285 6 621 6 -296 6 -63 6 81 6 -234 6 94 6 124 6 -196 6 413 6 -174 6 182 6 -415 6 457 6 15 6 -277 6 76 6 273 6 -264 6 -267 6 265 6 304 6 -238 6 204 6 -46 6 -399 6 82 6 -191 6 484 6 -134 6 200 6 -453 6 414 6 13 6 40 6 -391 6 56 6 42 6 -257 6 259 6 187 6 -643 6 618 6 -14 6 -418 6 273 6 -54 6 414 6 -184 6 35 6 -288 6 151 6 -166 6 272 6 -108 6 -141 6 353 6 -57 6 -461 6 368 6 -626 6 329 6 19 6 187 6 -118 6 64 6 338 6 -202 6 -31 6 -264 6 238 6 504 6 -599 6 102 6 -180 6 67 6 349 6 53 6 -191 6 66 6 -196 6 113 6 -89 6 -163 6 185 6 46 6 -235 6 -91 6 83 6 478 6 -381 6 86 6 -274 6 783 6 -547 6 -25 6 -92 6 182 6 7 6 -109 6 358 6 -361 6 386 6 -169 6 -382 6 98 6 -2 6 -166 6 160 6 19 6 249 6 -24 6 -467 6 485 6 -388 6 124 6 -272 6 528 6 -412 6 377 6 -51 6 -475 6 23 6 324 6 -280 6 203 6 140 6 -246 6 510 6 -1 6 343 6 -679 6 244 6 -91 6 -104 6 16 6 -145 6 144 6 -285 6 673 6 -610 6 -18 6 313 6 -419 6 388 6 -552 6 190 6 209 6 87 6 -112 6 60 6 56 6 -74 6 -215 6 336 6 150 6 -655 6 415 6 -97 6 170 6 110 6 -357 6 -55 6 379 6 53 6 -192 6 -43 6 182 6 -318 6 161 6 263 6 -174 6 -53 6 -10 6 148 6 -266 6 365 6 -319 6 127 6 197 6 -53 6 192 6 8 6 -2 6 -406 6 86 6 244 6 -120 6 105 6 -446 6 388 6 -211 6 -75 6 -43 6 -113 6 304 6 313 6 -492 6 -14 6 534 6 -373 6 -96 6 158 6 -79 6 307 6 -103 6 54 6 -619 6 350 6 87 6 118 6 -224 6 -8 6 82 6 204 6 -47 6 123 6 61 6 -474 6 211 6 -239 6 138 6 26 6 17 6 -73 6 -423 6 287 6 297 6 -435 6 366 6 205 6 142 6 -40 6 -536 6 -29 6 392 6 -183 6 261 6 -274 6 -238 6 125 6 170 6 114 6 -237 6 -54 6 186 6 -62 6 -230 6 170 6 312 6 -554 6 292 6 398 6 -680 6 -77 6 247 6 218 6 114 6 -142 6 353 6 -575 6 -2 6 355 6 -621 6 190 6 -152 6 218 6 -160 6 198 6 321 6 -256 6 317 6 -79 6 -191 6 236 6 58 6 -454 6 182 6 -5 6 -78 6 356 6 -343 6 231 6 -290 6 18 6 61 6 -334 6 311 6 -83 6 78 6 -41 6 -203 6 -185 6 407 6 107 6 6 6 -30 6 -315 6 413 6 170 6 311 6 -545 6 -53 6 74 6 -33 6 -41 6 176 6 -173 6 226 6 -162 6 -597 6 422 6 71 6 65 6 -38 6 -286 6 472 6 -180 6 62 6 -310 6 128 6 275 6 275 6 -585 6 -125 6 414 6 -449 6 650 6 -19 6 99 6 -536 6 226 6 -248 6 788 6 -772 6 122 6 -344 6 242 6 441 6 -692 6 343 6 -259 6 491 6 -297 6 -128 6 -24 6 57 6 451 6 -199 6 160 6 -303 6 470 6 -770 6 561 6 -359 6 399 6 -739 6 100 6 800 6 -10 6 -463 6 448 6 -322 6 -265 6 445 6 -103 6 -15 6 -125 6 -188 6 68 6 441 6 -34 6 -319 6 -238 6 413 6 68 6 -124 6 -9 6 -98 6 88 6 -97 6 204 6 -368 6 38 6 85 6 69 6 156 6 127 6 -328 6 109 6 20 6 -402 6 397 6 -380 6 -136 6 175 6 332 6 -166 6 159 6 -106 6 -20 6 367 6 -278 6 -81 6 -83 6 70 6 46 6 87 6 -324 6 378 6 14 6 -139 6 61 6 238 6 -448 6 -89 6 202 6 36 6 -44 6 -158 6 424 6 -242 6 -236 6 445 6 -343 6 594 6 -650 6 -173 6 195 6 74 6 329 6 -5 6 14 6 -341 6 161 6 -290 6 304 6 -220 6 70 6 107 6 100 6 -281 6 703 6 -1071 6 651 6 -227 6 -336 6 744 6 -85 6 -445 6 529 6 -265 6 22 6 -114 6 112 6 -202 6 327 6 -156 6 294 6 -429 6 529 6 -500 6 236 6 -476 6 263 6 -20 6 226 6 -216 6 -123 6 80 6 -278 6 394 6 -444 6 764 6 -204 6 -83 6 18 6 -165 6 199 6 200 6 -190 6 195 6 -268 6 -56 6 849 6 -996 6 387 6 -159 6 -77 6 68 6 -241 6 -66 6 918 6 -1177 6 617 6 -107 6 82 6 166 6 -164 6 -50 6 -25 6 -191 6 89 6 294 6 -470 6 157 6 288 6 -268 6 -77 6 234 6 -23 6 545 6 -120 6 -330 6 -46 6 -245 6 513 6 -127 6 -159 6 226 6 6 6 -502 6 237 6 -313 6 559 6 -434 6 -8 6 -247 6 409 6 -263 6 58 6 237 6 301 6 -119 6 -20 6 -85 6 -215 6 -74 6 466 6 -343 6 -19 6 -45 6 420 6 40 6 -445 6 196 6 -7 6 -371 6 499 6 172 6 -172 6 -493 6 380 6 -180 6 9 6 -349 6 632 6 -257 6 24 6 117 6 -104 6 434 6 -482 6 396 6 -521 6 248 6 351 6 -263 6 -266 6 350 6 295 6 -428 6 -49 6 17 6 -71 6 -229 6 47 6 -32 6 304 6 -452 6 758 6 -32 6 -62 6 -201 6 -95 6 273 6 -227 6 -202 6 104 6 17 6 -154 6 -77 6 495 6 -137 6 319 6 -169 6 8 6 -95 6 288 6 -333 6 -56 6 272 6 -143 6 -292 6 17 6 354 6 -87 6 -71 6 -175 6 -76 6 311 6 -12 6 -145 6 180 6 -204 6 394 6 -144 6 -551 6 357 6 255 6 -461 6 207 6 21 6 -35 6 -432 6 558 6 115 6 -349 6 -24 6 368 6 -121 6 -456 6 200 6 -168 6 395 6 -78 6 266 6 251 6 -713 6 473 6 -242 6 184 6 -178 6 124 6 -544 6 396 6 146 6 -130 6 573 6 -702 6 305 6 -424 6 514 6 -578 6 870 6 -389 6 -408 6 101 6 255 6 -321 6 405 6 -427 6 -123 6 -30 6 604 6 -566 6 15 6 255 6 -8 6 -37 6 204 6 -38 6 -189 6 -85 6 205 6 406 6 -534 6 592 6 -745 6 119 6 383 6 -424 6 10 6 300 6 238 6 -593 6 207 6 150 6 -304 6 356 6 -410 6 -127 6 529 6 -21 6 -306 6 157 6 441 6 -680 6 362 6 -379 6 583 6 -393 6 -26 6 -18 6 328 6 145 6 -507 6 -85 6 205 6 -83 6 278 6 79 6 -525 6 -74 6 -86 6 346 6 301 6 409 6 -695 6 -185 6 105 6 -6 6 415 6 -534 6 -58 6 -273 6 292 6 -68 6 800 6 -92 6 -22 6 -515 6 198 6 240 6 -24 6 -344 6 517 6 -486 6 -4 6 -382 6 471 6 435 6 -747 6 277 6 66 6 134 6 -211 6 221 6 -61 6 14 6 -389 6 102 6 463 6 -300 6 127 6 -171 6 -70 6 178 6 -346 6 6 6 509 6 -226 6 250 6 113 6 -34 6 -52 6 -22 6 -353 6 34 6 240 6 61 6 -274 6 -67 6 -195 6 262 6 -57 6 463 6 -274 6 -190 6 276 6 21 6 -708 6 293 6 232 6 -230 6 162 6 219 6 -119 6 19 6 -273 6 275 6 -34 6 265 6 -13 6 -218 6 -15 6 -162 6 6 6 73 6 289 6 -354 6 459 6 -387 6 -84 6 -204 6 432 6 -137 6 36 6 350 6 -556 6 312 6 -265 6 441 6 -397 6 -47 6 154 6 -487 6 429 6 -131 6 648 6 -641 6 557 6 -115 6 -54 6 -88 6 -520 6 461 6 -69 6 163 6 -114 6 376 6 -470 6 1 6 418 6 134 6 -299 6 -203 6 256 6 177 6 -497 6 477 6 -552 6 -108 6 724 6 -589 6 -6 6 1 6 -202 6 -57 6 300 6 -2 6 79 6 47 6 -341 6 74 6 157 6 -347 6 24 6 58 6 245 6 -33 6 -367 6 117 6 149 6 291 6 -62 6 -92 6 37 6 -257 6 57 6 611 6 -472 6 -82 6 382 6 98 6 -317 6 19 6 -372 6 324 6 -221 6 -101 6 48 6 403 6 -144 6 138 6 100 6 -439 6 539 6 -25 6 -12 6 -258 6 34 6 -135 6 -20 6 865 6 -480 6 -216 6 -172 6 -15 6 448 6 -161 6 262 6 -544 6 188 6 -132 6 131 6 195 6 163 6 -770 6 787 6 -81 6 -596 6 534 6 -369 6 -196 6 8 6 133 6 86 6 -201 6 191 6 -64 6 189 6 37 6 230 6 -653 6 292 6 -392 6 810 6 -9 6 -267 6 127 6 -161 6 99 6 -37 6 -121 6 -338 6 195 6 348 6 -176 6 29 6 -435 6 867 6 -302 6 -266 6 239 6 -400 6 417 6 -168 6 -209 6 -217 6 122 6 381 6 -349 6 463 6 -131 6 -336 6 576 6 -601 6 545 6 -428 6 144 6 -100 6 44 6 400 6 -315 6 -167 6 217 6 -229 6 492 6 -153 6 -468 6 262 6 21 6 -44 6 -218 6 444 6 -344 6 184 6 16 6 210 6 -557 6 247 6 194 6 -59 6 111 6 -373 6 543 6 -203 6 -81 6 -71 6 224 6 9 6 -392 6 -182 6 574 6 -116 6 21 6 71 6 -342 6 720 6 -219 6 -229 6 -145 6 -33 6 -59 6 0 6 198 6 -18 6 -145 6 -153 6 9 6 306 6 39 6 -412 6 142 6 -183 6 332 6 73 6 -198 6 486 6 -534 6 292 6 17 6 -128 6 276 6 -144 6 -453 6 599 6 -304 6 256 6 -489 6 -155 6 871 6 -540 6 20 6 -123 6 -54 6 135 6 -67 6 310 6 -569 6 268 6 387 6 -181 6 -30 6 250 6 -122 6 56 6 -415 6 -186 6 329 6 -257 6 569 6 -267 6 106 6 -259 6 341 6 -133 6 1 6 73 6 148 6 -411 6 393 6 -267 6 361 6 22 6 -93 6 -34 6 -420 6 404 6 -67 6 20 6 -228 6 -130 6 355 6 -76 6 -338 6 -35 6 273 6 45 6 512 6 -387 6 -417 6 375 6 335 6 -372 6 70 6 -277 6 160 6 -62 6 -313 6 441 6 99 6 -203 6 -54 6 333 6 -397 6 505 6 -148 6 -333 6 -196 6 372 6 -267 6 245 6 170 6 -124 6 -230 6 15 6 -227 6 263 6 -212 6 -29 6 561 6 16 6 -200 6 -297 6 -48 6 442 6 -56 6 131 6 -84 6 -674 6 543 6 249 6 -51 6 184 6 -584 6 204 6 -516 6 109 6 613 6 84 6 -2 6 -524 6 -420 6 718 6 39 6 -61 6 137 6 211 6 -252 6 160 6 -277 6 54 6 22 6 -200 6 411 6 -548 6 73 6 -30 6 355 6 -162 6 -259 6 179 6 431 6 -443 6 190 6 -33 6 -31 6 314 6 -163 6 79 6 -58 6 -294 6 -101 6 98 6 -73 6 199 6 41 6 120 6 -363 6 182 6 -101 6 42 6 -334 6 573 6 -118 6 182 6 -108 6 -290 6 195 6 465 6 -303 6 -251 6 37 6 116 6 -234 6 163 6 -39 6 -154 6 18 6 509 6 -302 6 -351 6 238 6 -214 6 352 6 -261 6 175 6 33 6 -83 6 -189 6 370 6 -119 6 106 6 -59 6 -53 6 32 6 -54 6 -260 6 465 6 278 6 -833 6 -63 6 699 6 -178 6 -295 6 225 6 86 6 88 6 182 6 -661 6 300 6 365 6 -502 6 -105 6 184 6 -54 6 402 6 -430 6 173 6 49 6 73 6 -225 6 -576 6 669 6 -61 6 32 6 -9 6 -392 6 170 6 -259 6 69 6 748 6 -619 6 261 6 330 6 -41 6 -254 6 -333 6 99 6 141 6 225 6 -152 6 -103 6 -44 6 211 6 326 6 -208 6 -320 6 131 6 -167 6 9 6 315 6 -260 6 -145 6 427 6 -25 6 -395 6 321 6 -114 6 60 6 -27 6 22 6 -292 6 201 6 43 6 -84 6 158 6 130 6 73 6 -682 6 543 6 79 6 -379 6 -12 6 17 6 -5 6 393 6 -699 6 189 6 320 6 21 6 463 6 -326 6 -404 6 -26 6 313 6 113 6 -193 6 63 6 -42 6 -184 6 738 6 -571 6 366 6 -499 6 337 6 176 6 -485 6 -52 6 321 6 -498 6 446 6 8 6 -126 6 54 6 108 6 -509 6 426 6 -198 6 252 6 39 6 -21 6 136 6 -505 6 542 6 -308 6 -76 6 510 6 -544 6 335 6 -93 6 131 6 -412 6 500 6 -87 6 -303 6 -430 6 244 6 -37 6 502 6 -510 6 329 6 9 6 -687 6 263 6 283 6 296 6 -292 6 -165 6 151 6 -249 6 410 6 -241 6 -101 6 254 6 92 6 -439 6 285 6 -67 6 281 6 -253 6 -16 6 -3 6 67 6 -35 6 107 6 -104 6 139 6 23 6 -461 6 959 6 -210 6 -373 6 102 6 -667 6 355 6 -120 6 483 6 -63 6 238 6 -197 6 -303 6 354 6 -378 6 133 6 368 6 -73 6 -145 6 -233 6 334 6 8 6 -139 6 -50 6 -25 6 -132 6 554 6 -322 6 -192 6 -246 6 212 6 171 6 -73 6 241 6 -337 6 403 6 -32 6 -63 6 -183 6 -208 6 252 6 -364 6 87 6 -56 6 141 6 77 6 80 6 -211 6 175 6 154 6 -286 6 -55 6 266 6 131 6 -148 6 390 6 -648 6 304 6 -293 6 75 6 209 6 -71 6 478 6 -436 6 245 6 -457 6 243 6 -164 6 217 6 114 6 -15 6 -494 6 188 6 120 6 -67 6 231 6 -212 6 134 6 -594 6 719 6 -248 6 301 6 24 6 63 6 -702 6 186 6 -129 6 85 6 254 6 190 6 -55 6 133 6 -249 6 46 6 2 6 -473 6 669 6 -332 6 210 6 -106 6 -11 6 -345 6 417 6 -177 6 -392 6 -2 6 286 6 -11 6 -296 6 248 6 232 6 86 6 18 6 -218 6 78 6 -360 6 448 6 -368 6 170 6 38 6 -181 6 208 6 29 6 372 6 -318 6 225 6 -300 6 45 6 32 6 180 6 -91 6 -418 6 89 6 271 6 -362 6 343 6 321 6 -301 6 -25 6 165 6 -61 6 -209 6 260 6 -169 6 -112 6 315 6 -115 6 127 6 -353 6 -220 6 190 6 568 6 -626 6 415 6 -238 6 299 6 -697 6 357 6 188 6 -164 6 -302 6 741 6 -591 6 196 6 433 6 -475 6 -86 6 226 6 182 6 -83 6 -193 6 -186 6 151 6 -139 6 433 6 46 6 -596 6 -94 6 480 6 -110 6 19 6 -165 6 45 6 59 6 84 6 433 6 -783 6 627 6 -73 6 197 6 -254 6 105 6 -122 6 103 6 -328 6 42 6 379 6 -555 6 439 6 -686 6 467 6 -46 6 92 6 -170 6 -491 6 552 6 19 6 134 6 59 6 -350 6 -55 6 437 6 -129 6 40 6 64 6 -150 6 180 6 37 6 -806 6 1109 6 -428 6 -190 6 284 6 111 6 -345 6 -51 6 -121 6 640 6 -379 6 -201 6 -253 6 211 6 453 6 -284 6 65 6 -128 6 -80 6 -183 6 510 6 -351 6 265 6 87 6 1 6 -19 6 -289 6 41 6 698 6 -588 6 -155 6 26 6 -58 6 239 6 -171 6 553 6 -392 6 185 6 165 6 -8 6 -274 6 -177 6 548 6 -403 6 -179 6 269 6 -351 6 312 6 -253 6 66 6 -251 6 -22 6 602 6 -549 6 -101 6 808 6 -776 6 213 6 333 6 -527 6 206 6 236 6 -45 6 -34 6 -55 6 12 6 45 6 147 6 -208 6 -120 6 -108 6 345 6 60 6 153 6 -649 6 84 6 541 6 152 6 -432 6 196 6 -331 6 -352 6 499 6 248 6 -485 6 -16 6 90 6 94 6 82 6 -130 6 472 6 -433 6 51 6 -114 6 639 6 -580 6 -24 6 255 6 -236 6 259 6 -234 6 452 6 -275 6 -154 6 109 6 -243 6 73 6 438 6 -223 6 -327 6 115 6 -164 6 325 6 -128 6 -102 6 463 6 -332 6 384 6 -370 6 -246 6 164 6 55 6 53 6 -205 6 373 6 -678 6 334 6 -2 6 -33 6 296 6 -363 6 98 6 235 6 -52 6 22 6 144 6 261 6 -418 6 -123 6 -225 6 198 6 -296 6 408 6 -20 6 -26 6 99 6 -324 6 449 6 -236 6 -13 6 84 6 -618 6 462 6 191 6 -361 6 263 6 -102 6 265 6 265 6 -867 6 358 6 186 6 160 6 -101 6 -41 6 -50 6 439 6 -336 6 -460 6 151 6 -218 6 271 6 237 6 -432 6 402 6 -150 6 -17 6 24 6 415 6 -651 6 455 6 -276 6 258 6 -166 6 -169 6 574 6 -40 6 -556 6 400 6 -15 6 -461 6 125 6 121 6 -198 6 318 6 -273 6 5 6 11 6 192 6 -289 6 -73 6 -95 6 505 6 3 6 -333 6 231 6 -465 6 389 6 67 6 274 6 -398 6 238 6 -405 6 159 6 -12 6 103" fill="none" stroke="#00ff00" stroke-width="96.965"/>
<rect x="67.75" y="326.80" width="247.45" height="118.50" fill="none" stroke="#000" stroke-width="1.5"/>
<path d="M67.75 445.30v-7.50M67.75 326.80v7.50M88.37 445.30v-4.00M88.37 326.80v4.00M108.99 445.30v-7.50M108.99 326.80v7.50M129.61 445.30v-4.00M129.61 326.80v4.00M150.23 445.30v-7.50M150.23 326.80v7.50M170.85 445.30v-4.00M170.85 326.80v4.00M191.47 445.30v-7.50M191.47 326.80v7.50M212.10 445.30v-4.00M212.10 326.80v4.00M232.72 445.30v-7.50M232.72 326.80v7.50M253.34 445.30v-4.00M253.34 326.80v4.00M273.96 445.30v-7.50M273.96 326.80v7.50M294.58 445.30v-4.00M294.58 326.80v4.00M315.20 445.30v-7.50M315.20 326.80v7.50M67.75 445.30h7.50M315.20 445.30h-7.50M67.75 430.49h4.00M315.20 430.49h-4.00M67.75 415.68h7.50M315.20 415.68h-7.50M67.75 400.86h4.00M315.20 400.86h-4.00M67.75 386.05h7.50M315.20 386.05h-7.50M67.75 371.24h4.00M315.20 371.24h-4.00M67.75 356.43h7.50M315.20 356.43h-7.50M67.75 341.61h4.00M315.20 341.61h-4.00M67.75 326.80h7.50M315.20 326.80h-7.50" stroke="#000" stroke-width="1.5" fill="none"/>
<rect x="137.45" y="409.45" width="124.00" height="20.10" fill="#fff" stroke="#2a2a2a" stroke-width="1.15"/>
<path d="M148.05 420.50H185.05" stroke="#6ccf6c" stroke-width="1.1"/>
<text x="256.90" y="425.85" font-size="17.1" text-anchor="end">532 MHz</text>
<g font-size="18.5"><text transform="translate(58.65 450.20) scale(0.96 1.02)" text-anchor="end">0.0</text>
<text transform="translate(58.65 420.57) scale(0.96 1.02)" text-anchor="end">0.5</text>
<text transform="translate(58.65 390.95) scale(0.96 1.02)" text-anchor="end">1.0</text>
<text transform="translate(58.65 361.32) scale(0.96 1.02)" text-anchor="end">1.5</text>
<text transform="translate(58.65 331.70) scale(0.96 1.02)" text-anchor="end">2.0</text></g>
<path transform="translate(403.250 326.800) scale(0.0103047)" d="M0 5833 l6 -257 6 158 6 -179 6 134 6 -384 6 15 6 301 6 -89 6 103 6 -144 6 -545 6 654 6 620 6 -862 6 233 6 156 6 69 6 -384 6 347 6 -434 6 188 6 295 6 -243 6 -174 6 321 6 214 6 -363 6 -548 6 691 6 2 6 98 6 -553 6 363 6 -52 6 -103 6 21 6 482 6 -561 6 442 6 103 6 -269 6 -164 6 122 6 148 6 6 6 -251 6 143 6 222 6 71 6 -270 6 0 6 427 6 -472 6 -190 6 -147 6 94 6 340 6 49 6 -298 6 357 6 -25 6 -751 6 943 6 -404 6 361 6 -481 6 368 6 -322 6 -79 6 30 6 -200 6 -99 6 727 6 -116 6 -489 6 243 6 -69 6 80 6 -155 6 267 6 -380 6 184 6 -330 6 703 6 -6 6 -201 6 297 6 -27 6 -176 6 53 6 -648 6 686 6 -270 6 174 6 136 6 -323 6 -188 6 -57 6 368 6 -352 6 172 6 174 6 -264 6 345 6 -476 6 637 6 -29 6 276 6 -616 6 272 6 -44 6 -263 6 -234 6 353 6 341 6 -743 6 641 6 -310 6 -79 6 -130 6 233 6 -241 6 91 6 86 6 101 6 -80 6 258 6 -1 6 -285 6 -400 6 885 6 -411 6 -156 6 366 6 -108 6 -295 6 566 6 -501 6 -2 6 113 6 -212 6 102 6 153 6 -53 6 393 6 -80 6 -515 6 176 6 -130 6 -98 6 453 6 -869 6 966 6 -581 6 637 6 -488 6 185 6 256 6 -195 6 -13 6 66 6 -125 6 105 6 -186 6 -217 6 434 6 123 6 -839 6 832 6 111 6 -667 6 545 6 -345 6 173 6 149 6 -357 6 428 6 -469 6 672 6 -572 6 89 6 204 6 339 6 -393 6 -151 6 -12 6 -287 6 53 6 468 6 -42 6 142 6 -263 6 -71 6 -59 6 226 6 -317 6 368 6 -226 6 -345 6 529 6 -108 6 486 6 -762 6 -20 6 165 6 -72 6 517 6 -584 6 24 6 -242 6 559 6 -102 6 303 6 68 6 -510 6 113 6 217 6 -345 6 -178 6 464 6 -287 6 103 6 -32 6 -209 6 359 6 -216 6 578 6 -538 6 -427 6 88 6 209 6 454 6 -386 6 154 6 96 6 -151 6 -12 6 -213 6 292 6 461 6 -405 6 -409 6 334 6 -200 6 54 6 160 6 -249 6 -58 6 -21 6 536 6 -263 6 -13 6 -48 6 411 6 -151 6 -312 6 -134 6 274 6 237 6 -665 6 276 6 -114 6 320 6 -51 6 -50 6 -56 6 400 6 -241 6 573 6 -704 6 388 6 -727 6 203 6 -41 6 -18 6 86 6 248 6 -38 6 -77 6 210 6 36 6 -371 6 -358 6 470 6 313 6 259 6 4 6 -259 6 -381 6 211 6 219 6 -275 6 30 6 -214 6 43 6 125 6 291 6 11 6 -247 6 100 6 -446 6 11 6 639 6 -690 6 618 6 -287 6 -168 6 459 6 -296 6 81 6 -289 6 306 6 98 6 -372 6 84 6 -107 6 262 6 244 6 -583 6 181 6 -519 6 610 6 445 6 -345 6 -198 6 533 6 -164 6 -262 6 109 6 -226 6 261 6 -686 6 686 6 -174 6 267 6 -239 6 -28 6 208 6 122 6 -803 6 581 6 -26 6 264 6 -794 6 724 6 -254 6 -9 6 -287 6 546 6 -349 6 21 6 173 6 165 6 61 6 -258 6 90 6 -213 6 -206 6 194 6 -79 6 413 6 238 6 -483 6 -174 6 301 6 190 6 -202 6 -88 6 -192 6 287 6 -162 6 152 6 550 6 -883 6 400 6 -599 6 9 6 525 6 -48 6 -225 6 128 6 -342 6 -20 6 751 6 154 6 -745 6 -165 6 441 6 98 6 -199 6 202 6 472 6 -168 6 -256 6 -395 6 365 6 -119 6 340 6 -582 6 721 6 -640 6 107 6 25 6 20 6 -3 6 105 6 -198 6 -463 6 467 6 535 6 -304 6 -312 6 61 6 19 6 143 6 50 6 90 6 174 6 -522 6 -20 6 -433 6 404 6 230 6 -301 6 30 6 581 6 -419 6 -103 6 408 6 -109 6 -27 6 -336 6 382 6 -274 6 510 6 -648 6 26 6 -149 6 369 6 108 6 309 6 -619 6 -120 6 317 6 29 6 202 6 -579 6 476 6 -290 6 670 6 -538 6 -3 6 -177 6 -121 6 526 6 14 6 -332 6 -122 6 707 6 -224 6 -632 6 553 6 -72 6 3 6 -195 6 21 6 203 6 -564 6 113 6 285 6 93 6 186 6 -338 6 456 6 -209 6 -77 6 -49 6 105 6 -485 6 432 6 -234 6 83 6 177 6 -179 6 164 6 162 6 34 6 -334 6 273 6 -248 6 45 6 -93 6 32 6 161 6 -234 6 133 6 -96 6 105 6 121 6 9 6 11 6 -100 6 177 6 -283 6 66 6 36 6 109 6 -434 6 -29 6 80 6 292 6 -90 6 -205 6 5 6 54 6 -28 6 -127 6 299 6 320 6 -396 6 44 6 -377 6 442 6 -28 6 -82 6 312 6 -8 6 103 6 -6 6 -492 6 -67 6 746 6 -524 6 -44 6 -12 6 -161 6 887 6 -954 6 568 6 387 6 -871 6 158 6 498 6 165 6 -530 6 -363 6 63 6 424 6 -35 6 -339 6 268 6 88 6 -136 6 185 6 320 6 -487 6 214 6 -483 6 203 6 227 6 208 6 -246 6 -124 6 165 6 -485 6 -124 6 261 6 502 6 -88 6 319 6 -484 6 52 6 -163 6 232 6 183 6 -498 6 233 6 -223 6 -289 6 526 6 -474 6 428 6 -57 6 -210 6 728 6 -633 6 4 6 -81 6 -131 6 207 6 62 6 -185 6 60 6 -290 6 516 6 -326 6 -20 6 -53 6 299 6 14 6 389 6 -389 6 420 6 -338 6 48 6 -36 6 -2 6 -156 6 -237 6 145 6 302 6 13 6 -159 6 -171 6 392 6 -367 6 -350 6 464 6 264 6 -601 6 174 6 194 6 16 6 -144 6 -51 6 329 6 -277 6 488 6 -322 6 139 6 -249 6 -117 6 -214 6 150 6 524 6 -331 6 -307 6 610 6 -249 6 -379 6 352 6 257 6 -342 6 225 6 -243 6 309 6 -195 6 130 6 183 6 -235 6 -858 6 543 6 -517 6 982 6 -305 6 -37 6 324 6 -142 6 -170 6 -377 6 484 6 330 6 -543 6 -353 6 615 6 -43 6 -32 6 323 6 -29 6 -278 6 -214 6 78 6 279 6 -117 6 -353 6 240 6 174 6 -389 6 -494 6 918 6 141 6 -161 6 276 6 -115 6 -150 6 8 6 22 6 -9 6 264 6 -508 6 196 6 27 6 -210 6 220 6 -195 6 -582 6 907 6 34 6 -134 6 -231 6 564 6 -517 6 -3 6 5 6 212 6 -152 6 -39 6 -3 6 324 6 -400 6 379 6 -465 6 712 6 -493 6 137 6 -257 6 286 6 -690 6 621 6 -403 6 246 6 16 6 -384 6 279 6 355 6 -243 6 187 6 -298 6 160 6 478 6 -225 6 -218 6 -212 6 -19 6 670 6 -531 6 160 6 -30 6 -71 6 111 6 72 6 372 6 -993 6 493 6 -116 6 -554 6 245 6 115 6 112 6 304 6 -113 6 -110 6 -293 6 140 6 -18 6 32 6 74 6 -60 6 678 6 -73 6 -46 6 -384 6 -203 6 83 6 -106 6 177 6 -123 6 473 6 -549 6 429 6 -148 6 23 6 -137 6 334 6 24 6 -683 6 710 6 -651 6 292 6 89 6 -69 6 -341 6 362 6 -37 6 -225 6 481 6 -307 6 -24 6 226 6 -502 6 470 6 -102 6 -194 6 184 6 -65 6 314 6 -589 6 -227 6 254 6 223 6 -273 6 127 6 309 6 -60 6 -203 6 126 6 211 6 -169 6 -272 6 292 6 57 6 -146 6 578 6 -616 6 -318 6 453 6 424 6 -509 6 94 6 383 6 -181 6 -377 6 -100 6 231 6 33 6 -175 6 364 6 -109 6 -66 6 1 6 25 6 -75 6 -142 6 317 6 -144 6 31 6 -24 6 -325 6 325 6 -436 6 387 6 363 6 -321 6 141 6 -411 6 601 6 -291 6 568 6 -581 6 364 6 -627 6 106 6 140 6 -169 6 400 6 -176 6 114 6 -245 6 454 6 -720 6 429 6 134 6 -683 6 -85 6 307 6 946 6 -779 6 222 6 1 6 166 6 -308 6 142 6 -345 6 446 6 -419 6 67 6 -189 6 634 6 -260 6 -20 6 -144 6 80 6 154 6 -87 6 -172 6 190 6 -100 6 397 6 -359 6 -297 6 -1 6 345 6 75 6 -189 6 124 6 237 6 -467 6 108 6 -89 6 -431 6 668 6 -377 6 60 6 -204 6 -61 6 369 6 288 6 -87 6 -21 6 -635 6 856 6 -466 6 375 6 107 6 -403 6 205 6 -217 6 265 6 -397 6 -136 6 526 6 -253 6 237 6 230 6 66 6 -946 6 560 6 289 6 -399 6 44 6 122 6 -120 6 118 6 67 6 -267 6 -370 6 232 6 85 6 -2 6 4 6 -204 6 -59 6 625 6 112 6 -238 6 -438 6 -52 6 332 6 -147 6 318 6 -188 6 272 6 -334 6 529 6 96 6 -139 6 -287 6 -93 6 -168 6 249 6 -243 6 289 6 -25 6 -212 6 502 6 -188 6 -85 6 124 6 -40 6 -43 6 -126 6 352 6 -432 6 151 6 -158 6 135 6 -72 6 233 6 -164 6 276 6 -347 6 -234 6 443 6 -192 6 473 6 -215 6 -307 6 280 6 -193 6 -158 6 295 6 -436 6 697 6 -254 6 -66 6 -110 6 564 6 -868 6 321 6 28 6 -149 6 186 6 -216 6 156 6 90 6 125 6 -657 6 866 6 42 6 -428 6 148 6 -789 6 146 6 387 6 264 6 -355 6 325 6 -575 6 349 6 -253 6 -107 6 414 6 -381 6 608 6 -333 6 56 6 -27 6 108 6 -398 6 449 6 -197 6 253 6 -532 6 185 6 129 6 93 6 -54 6 124 6 246 6 29 6 -697 6 626 6 -645 6 532 6 -242 6 -153 6 738 6 -114 6 -436 6 -565 6 1068 6 -505 6 144 6 -109 6 18 6 113 6 -296 6 -147 6 61 6 904 6 -894 6 351 6 65 6 -414 6 167 6 -327 6 764 6 -622 6 343 6 -204 6 157 6 19 6 207 6 50 6 -828 6 517 6 -377 6 471 6 -421 6 269 6 54 6 122 6 -368 6 491 6 -45 6 -612 6 369 6 33 6 418 6 -225 6 -461 6 421 6 318 6 -658 6 573 6 -494 6 -441 6 213 6 362 6 156 6 56 6 -287 6 67 6 -363 6 347 6 -285 6 163 6 -315 6 1036 6 -665 6 275 6 -97 6 375 6 -535 6 351 6 -556 6 -190 6 106 6 736 6 -359 6 -283 6 562 6 -571 6 -18 6 536 6 -380 6 71 6 0 6 -223 6 285 6 -187 6 201 6 93 6 155 6 -468 6 325 6 -519 6 388 6 218 6 -56 6 -279 6 -72 6 275 6 156 6 -271 6 23 6 -231 6 522 6 -622 6 594 6 -75 6 -405 6 -66 6 330 6 -18 6 -69 6 196 6 -135 6 -344 6 -48 6 340 6 -27 6 7 6 -305 6 704 6 -426 6 51 6 71 6 -30 6 247 6 -278 6 -42 6 164 6 -294 6 -146 6 127 6 203 6 54 6 -29 6 294 6 -324 6 -230 6 291 6 -131 6 256 6 -202 6 -71 6 62 6 510 6 -330 6 -79 6 33 6 -202 6 153 6 416 6 -355 6 116 6 -437 6 79 6 62 6 -243 6 266 6 85 6 195 6 -461 6 271 6 -207 6 658 6 -899 6 291 6 -61 6 239 6 228 6 -316 6 110 6 77 6 -17 6 -270 6 168 6 257 6 -392 6 -8 6 10 6 247 6 34 6 -170 6 -339 6 546 6 21 6 -150 6 214 6 -704 6 580 6 -354 6 341 6 -657 6 242 6 116 6 -139 6 42 6 480 6 -386 6 66 6 -311 6 258 6 287 6 -621 6 392 6 194 6 101 6 -401 6 448 6 -291 6 -73 6 519 6 -136 6 190 6 -551 6 70 6 -13 6 45 6 -221 6 -663 6 637 6 141 6 18 6 -434 6 806 6 -349 6 -320 6 529 6 -513 6 537 6 -205 6 136 6 -170 6 598 6 -517 6 -46 6 73 6 -348 6 111 6 252 6 -293 6 379 6 -158 6 -146 6 91 6 -269 6 309 6 91 6 -351 6 143 6 -79 6 -465 6 412 6 201 6 -2 6 243 6 -256 6 230 6 -423 6 256 6 279 6 -386 6 -209 6 114 6 54 6 -256 6 528 6 -226 6 103 6 -164 6 403 6 -520 6 341 6 -286 6 -97 6 223 6 -433 6 699 6 -51 6 31 6 -105 6 -253 6 -133 6 277 6 148 6 -9 6 291 6 -416 6 398 6 -622 6 512 6 -727 6 998 6 -734 6 615 6 -327 6 47 6 -248 6 -252 6 92 6 642 6 -642 6 669 6 -218 6 -520 6 653 6 -137 6 -164 6 312 6 -432 6 533 6 -677 6 204 6 82 6 -316 6 568 6 -388 6 29 6 106 6 -61 6 158 6 226 6 130 6 -622 6 -60 6 222 6 49 6 273 6 -729 6 488 6 -274 6 13 6 364 6 -231 6 -132 6 223 6 -95 6 -94 6 722 6 -686 6 144 6 -28 6 354 6 -205 6 -87 6 80 6 -163 6 184 6 -98 6 -2 6 -507 6 471 6 389 6 -71 6 -471 6 -46 6 282 6 55 6 -293 6 563 6 -559 6 49 6 -13 6 546 6 -551 6 -126 6 281 6 109 6 81 6 -212 6 -208 6 109 6 -52 6 -202 6 435 6 241 6 -35 6 -286 6 -47 6 -23 6 -341 6 574 6 -178 6 372 6 -39 6 -46 6 -204 6 -650 6 507 6 -45 6 412 6 -212 6 108 6 -440 6 257 6 -280 6 492 6 -255 6 -133 6 -253 6 -66 6 678 6 -533 6 345 6 -25 6 38 6 -102 6 497 6 -560 6 235 6 -171 6 514 6 -440 6 64 6 -39 6 -63 6 -212 6 210 6 -111 6 267 6 89 6 -105 6 16 6 -297 6 10 6 -46 6 93 6 185 6 143 6 -504 6 7 6 629 6 -945 6 717 6 -453 6 530 6 -334 6 60 6 -189 6 173 6 230 6 -540 6 758 6 -283 6 297 6 -625 6 183 6 124 6 -456 6 202 6 248 6 -64 6 -60 6 60 6 -260 6 115 6 76 6 -87 6 220 6 -298 6 -110 6 199 6 190 6 -88 6 135 6 -419 6 6 6 377 6 -157 6 198 6 -162 6 157 6 -458 6 502 6 -452 6 397 6 -233 6 128 6 120 6 30 6 -227 6 -102 6 41 6 -18 6 187 6 -314 6 322 6 -26 6 2 6 -105 6 448 6 -500 6 58 6 -69 6 -676 6 758 6 339 6 -60 6 -377 6 232 6 -202 6 28 6 162 6 417 6 -245 6 -66 6 -217 6 234 6 -219 6 -412 6 649 6 253 6 1 6 -489 6 125 6 -612 6 820 6 151 6 -387 6 -209 6 -230 6 -60 6 180 6 259 6 86 6 82 6 -289 6 99 6 301 6 -207 6 187 6 -353 6 -14 6 -55 6 382 6 -73 6 -86 6 330 6 -260 6 -74 6 -90 6 186 6 -527 6 200 6 301 6 34 6 -101 6 -196 6 -53 6 1 6 57 6 23 6 341 6 -142 6 -126 6 -87 6 391 6 -472 6 -78 6 660 6 31 6 -136 6 -60 6 -286 6 -196 6 -24 6 357 6 82 6 -519 6 191 6 81 6 194 6 36 6 -280 6 147 6 27 6 21 6 -188 6 -86 6 82 6 114 6 442 6 -519 6 116 6 475 6 -364 6 120 6 -235 6 -9 6 -148 6 -289 6 803 6 -604 6 523 6 -507 6 194 6 39 6 793 6 -867 6 -80 6 127 6 -140 6 -217 6 333 6 -48 6 97 6 261 6 -587 6 86 6 355 6 -22 6 -274 6 134 6 249 6 -49 6 -505 6 460 6 -63 6 -177 6 -46 6 -33 6 282 6 -27 6 -78 6 218 6 -674 6 515 6 -306 6 440 6 -25 6 -9 6 1 6 203 6 -200 6 -272 6 -180 6 60 6 -24 6 -148 6 351 6 -196 6 -38 6 369 6 -106 6 -201 6 -162 6 622 6 -604 6 467 6 153 6 -47 6 237 6 -382 6 -57 6 -318 6 156 6 -169 6 -228 6 147 6 506 6 65 6 -193 6 59 6 -179 6 232 6 61 6 -412 6 146 6 -189 6 -11 6 457 6 -368 6 82 6 -22 6 -5 6 316 6 -34 6 154 6 60 6 -111 6 168 6 -573 6 113 6 81 6 -171 6 588 6 -906 6 723 6 -284 6 44 6 150 6 -267 6 187 6 -261 6 -16 6 255 6 -484 6 251 6 305 6 22 6 -308 6 750 6 -343 6 -272 6 -106 6 116 6 8 6 224 6 30 6 -610 6 455 6 -137 6 87 6 -352 6 778 6 -432 6 167 6 -135 6 -143 6 318 6 -535 6 428 6 -311 6 201 6 -42 6 -165 6 188 6 -120 6 121 6 -113 6 392 6 -4 6 -343 6 86 6 26 6 70 6 272 6 -495 6 -36 6 238 6 288 6 -28 6 -497 6 232 6 -93 6 141 6 -304 6 145 6 297 6 144 6 -246 6 96 6 13 6 -525 6 17 6 123 6 96 6 -514 6 713 6 -195 6 125 6 102 6 -478 6 287 6 146 6 27 6 -152 6 80 6 161 6 -103 6 -260 6 415 6 -208 6 -664 6 435 6 207 6 -162 6 110 6 -7 6 -317 6 199 6 -106 6 248 6 -19 6 -234 6 -184 6 233 6 217 6 -317 6 97 6 179 6 33 6 -123 6 319 6 -235 6 276 6 -634 6 203 6 -71 6 370 6 -413 6 61 6 289 6 -444 6 308 6 -71 6 -45 6 261 6 -114 6 -41 6 -40 6 94 6 -225 6 295 6 145 6 -337 6 115 6 -129 6 -347 6 156 6 -17 6 231 6 -15 6 80 6 -67 6 -115 6 -44 6 147 6 193 6 -371 6 612 6 -271 6 -187 6 -361 6 227 6 -196 6 273 6 399 6 -246 6 119 6 -177 6 103 6 -23 6 -241 6 -7 6 -277 6 473 6 -72 6 -151 6 134 6 143 6 -60 6 326 6 -190 6 -232 6 30 6 174 6 -111 6 -649 6 306 6 225 6 279 6 -466 6 435 6 302 6 -640 6 -315 6 792 6 56 6 -281 6 -297 6 200 6 5 6 45 6 -272 6 -132 6 266 6 -363 6 343 6 -168 6 86 6 65 6 -64 6 429 6 -530 6 -396 6 55 6 121 6 48 6 331 6 -416 6 359 6 -391 6 -160 6 523 6 -297 6 -302 6 81 6 20 6 -318 6 -75 6 327 6 180 6 -292 6 -175 6 -439 6 143 6 238 6 -370 6 233 6 -41 6 -76 6 -190 6 -188 6 -44 6 125 6 -216 6 248 6 -300 6 111 6 -350 6 -373 6 64 6 131 6 -284 6 -78 6 34 6 -139 6 23 6 -361 6 63 6 19 6 -52 6 -350 6 159 6 -182 6 -45 6 -97 6 -128 6 -100 6 2 6 -72 6 -121 6 -43 6 -90 6 63 6 -164 6 -48 6 63 6 -85 6 -49 6 -18 6 -51 6 -29 6 -8 6 75 6 -91 6 26 6 75 6 23 6 -37 6 72 6 32 6 55 6 -51 6 110 6 -23 6 166 6 32 6 10 6 28 6 -8 6 180 6 103 6 135 6 -108 6 170 6 67 6 89 6 80 6 118 6 59 6 82 6 95 6 16 6 137 6 300 6 76 6 34 6 -17 6 13 6 59 6 137 6 154 6 246 6 -126 6 59 6 288 6 -148 6 100 6 258 6 -111 6 74 6 225 6 -16 6 30 6 124 6 335 6 -304 6 375 6 -367 6 128 6 -91 6 222 6 161 6 -31 6 253 6 -347 6 108 6 126 6 -235 6 584 6 -293 6 281 6 177 6 -258 6 134 6 -492 6 461 6 244 6 -689 6 242 6 -42 6 119 6 0 6 -161 6 16 6 376 6 -351 6 835 6 -483 6 25 6 -28 6 -116 6 65 6 -308 6 790 6 -272 6 -268 6 29 6 346 6 -179 6 43 6 -97 6 27 6 270 6 -110 6 110 6 -269 6 -263 6 -73 6 114 6 168 6 462 6 -456 6 409 6 -110 6 -73 6 -190 6 14 6 323 6 127 6 -498 6 87 6 350 6 -470 6 365 6 -419 6 -66 6 -195 6 366 6 352 6 -757 6 849 6 -341 6 145 6 -210 6 -171 6 -51 6 530 6 333 6 -789 6 -61 6 161 6 -166 6 368 6 -26 6 308 6 -498 6 292 6 -310 6 306 6 79 6 251 6 -432 6 68 6 -204 6 364 6 -330 6 209 6 -84 6 159 6 -111 6 -190 6 -212 6 415 6 -151 6 -206 6 306 6 -428 6 426 6 -91 6 -158 6 113 6 -157 6 -46 6 74 6 134 6 335 6 -265 6 -123 6 250 6 -293 6 104 6 12 6 111 6 -104 6 -48 6 135 6 -159 6 377 6 -284 6 -102 6 476 6 -311 6 -58 6 155 6 -300 6 -250 6 93 6 240 6 -115 6 -253 6 460 6 -90 6 -82 6 -91 6 346 6 -249 6 570 6 -548 6 215 6 -76 6 -581 6 584 6 364 6 -459 6 -86 6 224 6 -42 6 -130 6 36 6 354 6 -109 6 -255 6 -1 6 69 6 -265 6 92 6 297 6 -252 6 -76 6 509 6 -192 6 -97 6 402 6 -679 6 -13 6 880 6 -364 6 -503 6 -145 6 314 6 -285 6 277 6 73 6 -327 6 524 6 -26 6 -96 6 38 6 214 6 -40 6 -651 6 415 6 142 6 179 6 -90 6 -164 6 250 6 -549 6 361 6 -239 6 292 6 -145 6 375 6 -190 6 -54 6 -295 6 382 6 -508 6 490 6 -201 6 -75 6 126 6 136 6 15 6 -250 6 242 6 -591 6 250 6 226 6 227 6 -527 6 -236 6 660 6 178 6 -548 6 -258 6 291 6 368 6 -120 6 -276 6 384 6 -293 6 -67 6 -112 6 476 6 -256 6 -130 6 186 6 -203 6 236 6 159 6 97 6 -229 6 -56 6 -249 6 170 6 292 6 -351 6 -305 6 592 6 -236 6 489 6 -950 6 325 6 -105 6 262 6 -46 6 114 6 109 6 -565 6 161 6 382 6 -45 6 -113 6 -59 6 -303 6 769 6 -211 6 284 6 -299 6 -157 6 -385 6 166 6 15 6 293 6 -549 6 173 6 349 6 53 6 -289 6 418 6 -71 6 -320 6 122 6 113 6 -93 6 31 6 14 6 -111 6 443 6 -569 6 240 6 -13 6 -50 6 -118 6 -429 6 723 6 22 6 -146 6 66 6 265 6 -284 6 32 6 -462 6 143 6 635 6 48 6 -888 6 467 6 373 6 -307 6 -435 6 209 6 -373 6 99 6 434 6 -297 6 538 6 -442 6 25 6 38 6 -49 6 -374 6 683 6 -63 6 -160 6 82 6 -255 6 168 6 336 6 -402 6 188 6 204 6 -498 6 384 6 -89 6 -253 6 320 6 28 6 -67 6 -167 6 64 6 -270 6 441 6 -466 6 143 6 -30 6 166 6 311 6 -248 6 -218 6 -102 6 374 6 -108 6 -110 6 -94 6 138 6 319 6 -31 6 -270 6 152 6 -672 6 829 6 -307 6 190 6 -264 6 -317 6 888 6 -402 6 49 6 -221 6 250 6 -174 6 269 6 -472 6 5 6 351 6 394 6 -430 6 -50 6 213 6 -563 6 690 6 -825 6 398 6 -113 6 401 6 58 6 -384 6 -355 6 501 6 -375 6 231 6 272 6 -298 6 -91 6 226 6 -181 6 63 6 -232 6 405 6 0 6 -257 6 548 6 -358 6 93 6 -4 6 -322 6 163 6 68 6 -220 6 500 6 -462 6 317 6 -242 6 -280 6 356 6 214 6 148 6 -186 6 18 6 74 6 16 6 -102 6 21 6 -121 6 39 6 -408 6 405 6 -7 6 -126 6 1 6 208 6 46 6 -95 6 40 6 -391 6 481 6 -131 6 -117 6 -95 6 -225 6 410 6 -24 6 -377 6 25 6 325 6 218 6 -359 6 426 6 -624 6 134 6 457 6 -490 6 421 6 -116 6 -372 6 558 6 170 6 -174 6 -346 6 40 6 220 6 272 6 -359 6 143 6 -398 6 599 6 -599 6 221 6 -105 6 -51 6 -9 6 361 6 -425 6 456 6 -455 6 162 6 119 6 -113 6 -60 6 24 6 -175 6 151 6 95 6 -588 6 708 6 79 6 -369 6 -146 6 9 6 -7 6 -55 6 466 6 -365 6 459 6 -328 6 275 6 -267 6 -45 6 2 6 167 6 85 6 -397 6 -77 6 406 6 353 6 -435 6 -214 6 280 6 35 6 -279 6 -109 6 494 6 46 6 -161 6 237 6 -427 6 418 6 -617 6 402 6 -23 6 -265 6 52 6 62 6 -61 6 287 6 -595 6 762 6 -189 6 101 6 2 6 -478 6 -53 6 8 6 212 6 472 6 -27 6 -113 6 -53 6 -273 6 -5 6 117 6 342 6 -515 6 149 6 399 6 -485 6 275 6 -633 6 758 6 -458 6 229 6 406 6 -154 6 -7 6 -245 6 -346 6 173 6 -262 6 187 6 -125 6 259 6 -106 6 -16 6 236 6 -121 6 204 6 -107 6 151 6 -137 6 22 6 -317 6 386 6 29 6 -242 6 169 6 5 6 -146 6 -45 6 53 6 -229 6 -147 6 143 6 313 6 227 6 -24 6 -279 6 357 6 -407 6 193 6 -100 6 -143 6 85 6 504 6 -82 6 -702 6 368 6 -362 6 361 6 -109 6 208 6 -253 6 -79 6 141 6 -155 6 150 6 520 6 -606 6 -59 6 380 6 -398 6 488 6 -225 6 -142 6 654 6 -679 6 119 6 -195 6 312 6 -96 6 -12 6 -8 6 223 6 -517 6 603 6 -219 6 -162 6 255 6 -397 6 331 6 37 6 -258 6 -322 6 459 6 -287 6 391 6 -124 6 -26 6 -154 6 56 6 289 6 -43 6 -96 6 -158 6 -463 6 580 6 -410 6 -68 6 571 6 110 6 -456 6 582 6 -657 6 343 6 -194 6 86 6 484 6 -627 6 146 6 629 6 -123 6 -462 6 22 6 42 6 -38 6 252 6 -113 6 -408 6 830 6 78 6 -915 6 177 6 -259 6 193 6 -66 6 177 6 386 6 -92 6 -438 6 167 6 -138 6 -179 6 374 6 -499 6 606 6 -112 6 -171 6 -26 6 250 6 -270 6 585 6 -465 6 -140 6 191 6 33 6 -40 6 246 6 -660 6 398 6 95 6 -48 6 -94 6 221 6 169 6 -525 6 372 6 -39 6 330 6 -537 6 -93 6 56 6 47 6 521 6 -818 6 251 6 241 6 -283 6 120 6 -27 6 214 6 -147 6 101 6 -205 6 180 6 -136 6 86 6 -150 6 -53 6 147 6 -207 6 238 6 -669 6 401 6 -11 6 615 6 -231 6 -112 6 -106 6 29 6 -26 6 364 6 -716 6 394 6 -73 6 126 6 1 6 23 6 -390 6 482 6 -215 6 -168 6 598 6 -101 6 47 6 -355 6 492 6 -299 6 -66 6 80 6 322 6 -803 6 582 6 -26 6 -408 6 379 6 3 6 91 6 -120 6 -143 6 -226 6 300 6 -67 6 493 6 -497 6 -142 6 -48 6 643 6 -179 6 174 6 -358 6 -326 6 661 6 -462 6 249 6 -400 6 393 6 286 6 -289 6 -73 6 63 6 75 6 -319 6 22 6 182 6 -222 6 76 6 -252 6 -109 6 -26 6 538 6 -251 6 191 6 -153 6 -33 6 158 6 14 6 -228 6 295 6 52 6 102 6 41 6 -468 6 -75 6 302 6 108 6 -493 6 400 6 87 6 -57 6 -260 6 145 6 -334 6 146 6 155 6 459 6 -194 6 -569 6 59 6 130 6 -12 6 136 6 34 6 230 6 -397 6 57 6 374 6 30 6 -373 6 243 6 -529 6 347 6 278 6 -139 6 59 6 1 6 -330 6 335 6 78 6 286 6 -673 6 73 6 558 6 -769 6 367 6 -512 6 380 6 178 6 -297 6 -102 6 541 6 -349 6 -74 6 208 6 179 6 -109 6 -377 6 12 6 153 6 -363 6 266 6 -78 6 57 6 108 6 76 6 -174 6 260 6 -93 6 604 6 -326 6 45 6 -745 6 895 6 -517 6 -169 6 304 6 -35 6 -98 6 518 6 -439 6 -326 6 113 6 183 6 9 6 -245 6 434 6 -262 6 -199 6 542 6 -232 6 -230 6 -302 6 733 6 -474 6 -202 6 272 6 141 6 16 6 286 6 -612 6 660 6 -306 6 78 6 -195 6 199 6 -412 6 731 6 56 6 -462 6 318 6 -485 6 2 6 -32 6 440 6 -78 6 -61 6 -153 6 37 6 -170 6 293 6 -583 6 391 6 -42 6 661 6 -336 6 -439 6 355 6 6 6 135 6 -222 6 -228 6 170 6 -269 6 490 6 -355 6 101 6 -2 6 378 6 -334 6 -61 6 422 6 -778 6 420 6 299 6 -579 6 535 6 -342 6 466 6 -650 6 180 6 105 6 176 6 74 6 -606 6 397 6 -338 6 515 6 -240 6 266 6 -363 6 563 6 -645 6 487 6 -399 6 69 6 49 6 -8 6 -412 6 651 6 -80 6 -431 6 108 6 -163 6 232 6 187 6 -90 6 -126 6 -68 6 118 6 244 6 -136 6 -432 6 565 6 -510 6 659 6 -115 6 142 6 -587 6 331 6 -62 6 -350 6 205 6 428 6 -76 6 154 6 -587 6 216 6 192 6 -208 6 -153 6 -79 6 -312 6 693 6 -374 6 -25 6 148 6 705 6 -297 6 -772 6 643 6 -248 6 251 6 -669 6 252 6 410 6 76 6 -442 6 -103 6 344 6 -269 6 155 6 -1 6 -20 6 389 6 -158 6 -253 6 79 6 -351 6 672 6 -422 6 -474 6 440 6 -64 6 291 6 -13 6 -193 6 309 6 87 6 44 6 -19 6 -556 6 62 6 -59 6 195 6 -22 6 355 6 -244 6 -203 6 329 6 247 6 -535 6 403 6 -441 6 251 6 78 6 -9 6 -34 6 -250 6 -5 6 -69 6 144 6 63 6 -124 6 227 6 84 6 -125 6 60 6 293 6 -118 6 -398 6 124 6 82 6 -152 6 -26 6 -189 6 110 6 148 6 -70 6 22 6 495 6 -840 6 652 6 -409 6 271 6 77 6 -468 6 484 6 -90 6 470 6 -711 6 254 6 88 6 -418 6 254 6 572 6 -747 6 392 6 -59 6 12 6 193 6 -244 6 -120 6 -236 6 -97 6 444 6 -564 6 459 6 -365 6 249 6 45 6 571 6 -829 6 640 6 -507 6 554 6 59 6 -87 6 -49 6 -61 6 -328 6 -54 6 -2 6 -143 6 100 6 46 6 89 6 -290 6 316 6 447 6 -251 6 -502 6 361 6 64 6 -396 6 238 6 5 6 20 6 -344 6 272 6 35 6 -19 6 184 6 -85 6 -478 6 416 6 -283 6 437 6 -56 6 94 6 -189 6 -238 6 344 6 -20 6 260 6 -535 6 18 6 144 6 -230 6 115 6 197 6 349 6 -352 6 185 6 -303 6 -131 6 302 6 314 6 -665 6 76 6 -24 6 511 6 -207 6 -291 6 -43 6 37 6 684 6 -868 6 545 6 -3 6 -339 6 292 6 14 6 -147 6 55 6 -24 6 94 6 143 6 -123 6 -45 6 6 6 -200 6 -299 6 710 6 -322 6 -50 6 331 6 -139 6 -18 6 -49 6 37 6 16 6 -279 6 510 6 -452 6 -58 6 58 6 449 6 23 6 -253 6 78 6 35 6 -488 6 502 6 -408 6 -121 6 -26 6 -132 6 213 6 201 6 375 6 -280 6 49 6 -496 6 219 6 170 6 314 6 -32 6 -193 6 -139 6 -167 6 122 6 82 6 -181 6 458 6 -108 6 8 6 -189 6 -85 6 206 6 313 6 -415 6 290 6 -383 6 634 6 -963 6 679 6 -633 6 243 6 -167 6 75 6 413 6 -26 6 44 6 59 6 -512 6 499 6 -121 6 341 6 -505 6 422 6 -906 6 577 6 22 6 -138 6 279 6 -78 6 -107 6 -45 6 -100 6 153 6 478 6 -397 6 107 6 -112 6 -122 6 65 6 -504 6 565 6 120 6 -201 6 -31 6 -303 6 493 6 -301 6 47 6 49 6 11 6 -18 6 343 6 -155 6 -192 6 -302 6 142 6 145 6 0 6 -8 6 -53 6 -85 6 564 6 -280 6 -592 6 320 6 244 6 84 6 -150 6 324 6 -146 6 -352 6 -16 6 132 6 30 6 103 6 222 6 -74 6 -84 6 -102 6 217 6 -15 6 -531 6 359 6 -270 6 219 6 181 6 -110 6 227 6 -507 6 13 6 10 6 122 6 152 6 86 6 -358 6 215 6 63 6 -8 6 -101 6 144 6 -139 6 -183 6 -35 6 364 6 -227 6 130 6 197 6 114 6 -489 6 -312 6 299 6 -186 6 -136 6 101 6 554 6 -268 6 162 6 312 6 -620 6 350 6 -429 6 372 6 -70 6 105 6 -94 6 -223 6 153 6 -7 6 104 6 -180 6 374 6 -284 6 -66 6 244 6 -428 6 269 6 350 6 -257 6 -198 6 115 6 422 6 -515 6 270 6 -162 6 521 6 -904 6 1 6 395 6 370 6 -455 6 -397 6 198 6 -269 6 883 6 -647 6 397 6 5 6 -262 6 137 6 293 6 233 6 -402 6 94 6 -746 6 767 6 -535 6 463 6 -470 6 143 6 -164 6 249 6 -111 6 268 6 193 6 -631 6 -70 6 314 6 -376 6 741 6 -219 6 133 6 -287 6 413 6 -332 6 -106 6 -193 6 310 6 -472 6 755 6 -361 6 -303 6 748 6 -280 6 -82 6 -264 6 109 6 450 6 -122 6 -59 6 -306 6 -134 6 366 6 241 6 74 6 -461 6 -138 6 398 6 167 6 -25 6 -282 6 465 6 -258 6 -149 6 412 6 -502 6 295 6 -431 6 696 6 -725 6 600 6 -379 6 -145 6 258 6 -145 6 56 6 43 6 -337 6 554 6 -444 6 -222 6 211 6 397 6 -304 6 -69 6 -25 6 633 6 43 6 -836 6 189 6 90 6 119 6 -247 6 -151 6 163 6 346 6 -228 6 -412 6 482 6 195 6 -460 6 370 6 -142 6 -392 6 134 6 505 6 -442 6 -62 6 -74 6 336 6 -30 6 -401 6 830 6 -166 6 -15 6 -402 6 3 6 156 6 -213 6 380 6 47 6 -122 6 386 6 -128 6 -367 6 104 6 125 6 -428 6 124 6 115 6 6 6 -252 6 -292 6 752 6 -163 6 88 6 -216 6 369 6 -239 6 -414 6 434 6 190 6 -365 6 -56 6 316 6 -452 6 282 6 -278 6 128 6 176 6 85 6 -267 6 388 6 120 6 -729 6 698 6 -182 6 -6 6 -90 6 296 6 -77 6 -384 6 87 6 507 6 -636 6 46 6 192 6 266 6 -674 6 -236 6 731 6 322 6 -973 6 472 6 -79 6 15 6 305 6 -113 6 32 6 -177 6 165 6 -426 6 359 6 -341 6 603 6 -314 6 -30 6 243 6 -300 6 139 6 -423 6 90 6 260 6 154 6 -124 6 -309 6 236 6 126 6 63 6 344 6 -689 6 389 6 -176 6 -59 6 262 6 -99 6 -150 6 -274 6 377 6 19 6 -36 6 85 6 -305 6 479 6 -240 6 -27 6 -198 6 75 6 282 6 -66 6 193 6 -251 6 3 6 314 6 -396 6 -500 6 475 6 187 6 25 6 -441 6 312 6 146 6 209 6 -590 6 768 6 -614 6 262 6 -450 6 290 6 100 6 -412 6 604 6 -514 6 19 6 732 6 -315 6 -11 6 -112 6 -136 6 75 6 -199 6 264 6 245 6 205 6 -291 6 -95 6 28 6 -330 6 150 6 378 6 -200 6 -85 6 -689 6 418 6 233 6 -181 6 -142 6 508 6 -682 6 626 6 -403 6 -216 6 375 6 -135 6 399 6 -563 6 99 6 -266 6 250 6 381 6 59 6 9 6 -30 6 -483 6 694 6 -59 6 -99 6 158 6 -124 6 -473 6 338 6 -144 6 106 6 -183 6 -147 6 133 6 82 6 219 6 127 6 -365 6 -59 6 -92 6 164 6 234 6 1 6 -324 6 256 6 120 6 114 6 -135 6 -383 6 43 6 -238 6 240 6 46 6 -196 6 -25 6 338 6 617 6 -611 6 146 6 -494 6 253 6 228 6 162 6 -449 6 -146 6 631 6 -440 6 247 6 -228 6 -449 6 835 6 -450 6 -305 6 450 6 274 6 342 6 -416 6 -294 6 322 6 -577 6 903 6 -230 6 -450 6 111 6 -149 6 65 6 281 6 -72 6 -456 6 284 6 -220 6 189 6 -212 6 167 6 214 6 198 6 -542 6 369 6 289 6 -722 6 245 6 28 6 344 6 -473 6 201 6 285 6 -159 6 126 6 -653 6 485 6 -211 6 -197 6 -190 6 616 6 124 6 -488 6 34 6 -410 6 679 6 -482 6 126 6 223 6 779 6 -764 6 98 6 434 6 -696 6 375 6 70 6 -189 6 -338 6 -194 6 217 6 129 6 54 6 457 6 -136 6 -220 6 -22 6 156 6 -570 6 83 6 498 6 -438 6 211 6 -564 6 321 6 63 6 70 6 -109 6 231 6 -436 6 469 6 369 6 -373 6 -194 6 540 6 42 6 -335 6 -369 6 132 6 839 6 -819 6 257 6 98 6 -207 6 -563 6 894 6 -261 6 477 6 -666 6 46 6 16 6 -37 6 411 6 -276 6 32 6 168 6 -412 6 37 6 394 6 -264 6 -87 6 51 6 -83 6 133 6 75 6 259 6 -120 6 -222 6 0 6 328 6 -262 6 -170 6 -195 6 180 6 150 6 -209 6 582 6 -445 6 259 6 -631 6 711 6 -440 6 -311 6 587 6 48 6 -152 6 67 6 166 6 -74 6 -350 6 37 6 380 6 27 6 -294 6 -61 6 77 6 -17 6 -443 6 195 6 106 6 311 6 -555 6 446 6 -96 6 656 6 -812 6 615 6 -250 6 -410 6 319 6 130 6 -374 6 -71 6 195 6 -114 6 425 6 -289 6 149 6 369 6 -548 6 188 6 -26 6 -104 6 69 6 -247 6 324 6 -274 6 277 6 -251 6 122 6 -196 6 -388 6 563 6 -155 6 393 6 -115 6 -192 6 -209 6 557 6 -223 6 -355 6 727 6 -537 6 176 6 -508 6 505 6 180 6 -585 6 -18 6 245 6 -337 6 540 6 -121 6 203 6 44 6 -288 6 151 6 -502 6 597 6 -212 6 575 6 -571 6 169" fill="none" stroke="#00ff00" stroke-width="97.043"/>
<rect x="403.25" y="326.80" width="247.25" height="118.50" fill="none" stroke="#000" stroke-width="1.5"/>
<path d="M403.25 445.30v-7.50M403.25 326.80v7.50M423.85 445.30v-4.00M423.85 326.80v4.00M444.46 445.30v-7.50M444.46 326.80v7.50M465.06 445.30v-4.00M465.06 326.80v4.00M485.67 445.30v-7.50M485.67 326.80v7.50M506.27 445.30v-4.00M506.27 326.80v4.00M526.88 445.30v-7.50M526.88 326.80v7.50M547.48 445.30v-4.00M547.48 326.80v4.00M568.08 445.30v-7.50M568.08 326.80v7.50M588.69 445.30v-4.00M588.69 326.80v4.00M609.29 445.30v-7.50M609.29 326.80v7.50M629.90 445.30v-4.00M629.90 326.80v4.00M650.50 445.30v-7.50M650.50 326.80v7.50M403.25 445.30h7.50M650.50 445.30h-7.50M403.25 430.49h4.00M650.50 430.49h-4.00M403.25 415.68h7.50M650.50 415.68h-7.50M403.25 400.86h4.00M650.50 400.86h-4.00M403.25 386.05h7.50M650.50 386.05h-7.50M403.25 371.24h4.00M650.50 371.24h-4.00M403.25 356.43h7.50M650.50 356.43h-7.50M403.25 341.61h4.00M650.50 341.61h-4.00M403.25 326.80h7.50M650.50 326.80h-7.50" stroke="#000" stroke-width="1.5" fill="none"/>
<rect x="472.65" y="407.85" width="123.90" height="20.50" fill="#fff" stroke="#2a2a2a" stroke-width="1.15"/>
<path d="M482.80 419.35H519.80" stroke="#6ccf6c" stroke-width="1.1"/>
<text x="592.30" y="424.65" font-size="17.1" text-anchor="end">532 MHz</text>
<g font-size="18.5"><text transform="translate(394.15 450.20) scale(0.96 1.02)" text-anchor="end">0.0</text>
<text transform="translate(394.15 420.57) scale(0.96 1.02)" text-anchor="end">0.5</text>
<text transform="translate(394.15 390.95) scale(0.96 1.02)" text-anchor="end">1.0</text>
<text transform="translate(394.15 361.32) scale(0.96 1.02)" text-anchor="end">1.5</text>
<text transform="translate(394.15 331.70) scale(0.96 1.02)" text-anchor="end">2.0</text></g>
<path transform="translate(67.750 484.200) scale(0.0103130)" d="M0 5982 l6 -425 6 254 6 493 6 -1016 6 325 6 406 6 -1212 6 895 6 -521 6 -13 6 705 6 -392 6 286 6 395 6 -273 6 -1214 6 936 6 -889 6 500 6 1274 6 -747 6 -513 6 378 6 -186 6 55 6 594 6 -950 6 -561 6 1342 6 -89 6 -285 6 -375 6 646 6 -748 6 753 6 201 6 721 6 -1342 6 -268 6 970 6 -505 6 486 6 41 6 -1380 6 326 6 1713 6 -1607 6 311 6 -860 6 837 6 63 6 607 6 -354 6 72 6 682 6 -1303 6 743 6 -389 6 -268 6 1442 6 -815 6 224 6 -84 6 364 6 -762 6 850 6 -435 6 2 6 -6 6 -197 6 -99 6 -186 6 -1011 6 1545 6 -261 6 266 6 -1393 6 2012 6 -376 6 -1116 6 285 6 1021 6 -1463 6 1222 6 -30 6 -1328 6 -4 6 230 6 397 6 -324 6 896 6 -1569 6 2107 6 -1343 6 -431 6 1331 6 -379 6 -392 6 -803 6 422 6 -93 6 694 6 -329 6 -43 6 -529 6 1638 6 -868 6 132 6 197 6 -1307 6 1492 6 -754 6 222 6 -257 6 795 6 261 6 -1896 6 577 6 700 6 348 6 -492 6 91 6 208 6 -674 6 280 6 249 6 -241 6 506 6 -692 6 152 6 1320 6 -1516 6 643 6 -165 6 -475 6 387 6 -244 6 1001 6 -1432 6 805 6 -812 6 563 6 -45 6 -526 6 217 6 411 6 -273 6 -874 6 1118 6 223 6 -575 6 1117 6 -940 6 332 6 -316 6 1505 6 -1864 6 422 6 572 6 -973 6 823 6 507 6 -91 6 -543 6 130 6 -203 6 248 6 -558 6 -157 6 956 6 -1224 6 1188 6 -933 6 -79 6 528 6 255 6 316 6 -1731 6 2005 6 -800 6 -35 6 -683 6 209 6 544 6 281 6 -1595 6 1319 6 335 6 -1387 6 1091 6 489 6 -957 6 540 6 1043 6 -1060 6 -392 6 1088 6 -799 6 -770 6 904 6 421 6 -153 6 -936 6 757 6 -564 6 332 6 407 6 -1008 6 -489 6 1633 6 -805 6 -38 6 47 6 73 6 -860 6 -538 6 1297 6 187 6 -559 6 900 6 -3 6 -726 6 -260 6 439 6 -160 6 1579 6 -708 6 -469 6 -484 6 1035 6 -888 6 299 6 -306 6 431 6 -758 6 982 6 -1236 6 1103 6 -549 6 951 6 -244 6 -609 6 1481 6 -1317 6 17 6 -1845 6 1870 6 -1022 6 1032 6 289 6 -1040 6 414 6 -663 6 1631 6 157 6 -1477 6 -104 6 62 6 711 6 -710 6 635 6 340 6 -285 6 964 6 -1501 6 20 6 941 6 414 6 -1102 6 -457 6 1985 6 -1144 6 179 6 -1186 6 -64 6 1688 6 -386 6 691 6 -1066 6 -164 6 -519 6 1814 6 -87 6 -1179 6 26 6 559 6 -397 6 -285 6 380 6 -1076 6 -62 6 748 6 389 6 599 6 -496 6 46 6 1544 6 -1705 6 -259 6 218 6 898 6 -51 6 -1144 6 -215 6 1012 6 361 6 -491 6 -413 6 -1101 6 638 6 247 6 562 6 -302 6 576 6 -1120 6 427 6 623 6 -603 6 -932 6 1383 6 231 6 -454 6 -148 6 -230 6 241 6 -508 6 447 6 -209 6 -789 6 1717 6 -112 6 -683 6 661 6 -202 6 -1784 6 1985 6 -68 6 -805 6 265 6 1039 6 -1180 6 -635 6 914 6 -376 6 342 6 500 6 -42 6 -892 6 126 6 1231 6 -1515 6 346 6 -144 6 -237 6 1561 6 -749 6 175 6 65 6 -393 6 -343 6 397 6 -1318 6 1820 6 -2269 6 1504 6 -967 6 817 6 742 6 -373 6 215 6 -736 6 261 6 856 6 -2052 6 759 6 1556 6 -456 6 -260 6 -306 6 -25 6 340 6 -1234 6 1863 6 -1167 6 208 6 -659 6 981 6 -173 6 -1207 6 990 6 177 6 92 6 118 6 560 6 0 6 -487 6 -294 6 -484 6 714 6 22 6 -254 6 352 6 -319 6 -679 6 1142 6 254 6 -414 6 -323 6 604 6 -1007 6 -792 6 594 6 -227 6 -108 6 415 6 396 6 -27 6 1007 6 -136 6 -363 6 256 6 -201 6 -697 6 323 6 114 6 -1319 6 1431 6 -209 6 -652 6 720 6 -804 6 1103 6 -1281 6 610 6 1217 6 -898 6 -411 6 552 6 -478 6 500 6 -583 6 448 6 -771 6 325 6 -292 6 60 6 774 6 -106 6 -364 6 -469 6 374 6 1037 6 -1439 6 480 6 -520 6 1275 6 -242 6 84 6 324 6 -1514 6 949 6 343 6 315 6 -389 6 -823 6 -291 6 352 6 578 6 -295 6 1124 6 -210 6 -710 6 -265 6 255 6 -203 6 449 6 -141 6 -241 6 285 6 67 6 -133 6 -1100 6 1509 6 -1807 6 1740 6 -1017 6 -186 6 -113 6 1003 6 1372 6 -1034 6 -686 6 -1204 6 1532 6 -430 6 -35 6 -760 6 615 6 -565 6 1334 6 537 6 -859 6 478 6 -949 6 460 6 -588 6 1158 6 -260 6 -75 6 -908 6 801 6 -90 6 -929 6 1221 6 -80 6 -1190 6 2270 6 -2024 6 867 6 -86 6 -129 6 -104 6 175 6 -877 6 2067 6 82 6 -1405 6 951 6 -656 6 85 6 -146 6 -389 6 1674 6 -825 6 -1449 6 1207 6 41 6 -1870 6 1337 6 740 6 -859 6 -33 6 1018 6 -1126 6 622 6 954 6 -1571 6 15 6 131 6 33 6 627 6 -101 6 307 6 -1145 6 257 6 -728 6 797 6 528 6 109 6 175 6 -25 6 -2223 6 2822 6 -477 6 281 6 -1491 6 429 6 234 6 -647 6 775 6 -493 6 -751 6 1040 6 39 6 -396 6 -159 6 -23 6 641 6 -381 6 166 6 -540 6 764 6 -21 6 442 6 -322 6 124 6 -596 6 -521 6 984 6 -1421 6 1276 6 -849 6 362 6 692 6 -288 6 864 6 -1191 6 -805 6 907 6 -877 6 1044 6 129 6 -193 6 293 6 -431 6 -882 6 1015 6 354 6 -300 6 -531 6 631 6 945 6 -501 6 -1445 6 969 6 -781 6 742 6 399 6 -540 6 -463 6 746 6 615 6 -570 6 203 6 -1060 6 1209 6 73 6 228 6 -828 6 272 6 -75 6 -440 6 338 6 -1524 6 420 6 1371 6 -1470 6 1030 6 -194 6 815 6 -886 6 -320 6 249 6 145 6 -373 6 199 6 1266 6 -791 6 -345 6 637 6 -1604 6 904 6 326 6 -147 6 -154 6 505 6 171 6 599 6 -1553 6 433 6 878 6 -1330 6 541 6 324 6 234 6 -1628 6 493 6 302 6 -2 6 338 6 -7 6 -962 6 1225 6 78 6 -952 6 1639 6 -758 6 119 6 -373 6 767 6 -562 6 24 6 -349 6 -346 6 -352 6 633 6 414 6 107 6 -146 6 -1463 6 349 6 197 6 264 6 993 6 -1267 6 753 6 488 6 6 6 -735 6 540 6 -1335 6 183 6 304 6 158 6 -189 6 1651 6 -373 6 -839 6 274 6 1014 6 -1412 6 476 6 292 6 -1070 6 -176 6 1094 6 -377 6 -213 6 349 6 -288 6 821 6 -212 6 -717 6 234 6 -1122 6 1416 6 -145 6 -316 6 -170 6 150 6 -588 6 564 6 -358 6 846 6 -889 6 345 6 1097 6 -1489 6 132 6 1011 6 -663 6 -614 6 892 6 -918 6 940 6 -865 6 570 6 1735 6 -1562 6 187 6 -372 6 531 6 -967 6 459 6 166 6 81 6 -8 6 391 6 -621 6 707 6 -174 6 314 6 -1337 6 -78 6 1173 6 -183 6 628 6 31 6 -1176 6 -988 6 1651 6 -825 6 1275 6 -1838 6 -334 6 1275 6 -212 6 -871 6 850 6 958 6 -913 6 1046 6 -1345 6 247 6 -438 6 448 6 -117 6 511 6 -493 6 415 6 168 6 -1785 6 2646 6 -1204 6 475 6 -89 6 -331 6 -33 6 -538 6 1638 6 -1297 6 375 6 -717 6 1233 6 768 6 -1305 6 193 6 207 6 -138 6 -854 6 776 6 -909 6 316 6 881 6 860 6 -1743 6 1087 6 14 6 -1045 6 -344 6 -20 6 923 6 -99 6 527 6 -633 6 -160 6 -915 6 1146 6 492 6 -1130 6 1030 6 220 6 -722 6 -28 6 89 6 652 6 -535 6 597 6 223 6 -1230 6 -451 6 527 6 -567 6 430 6 -936 6 1634 6 -267 6 -3 6 -440 6 -173 6 870 6 344 6 337 6 119 6 -1575 6 1078 6 -1236 6 753 6 -615 6 -43 6 37 6 -165 6 807 6 -579 6 570 6 320 6 -429 6 -321 6 606 6 -1099 6 1347 6 141 6 -259 6 -1048 6 714 6 -364 6 -54 6 1087 6 -713 6 -599 6 51 6 476 6 -317 6 174 6 -305 6 1372 6 -297 6 -1344 6 724 6 647 6 -861 6 88 6 683 6 -620 6 181 6 -557 6 457 6 -149 6 -343 6 292 6 502 6 314 6 -178 6 -38 6 -338 6 76 6 49 6 216 6 -1166 6 808 6 692 6 -811 6 -497 6 548 6 -244 6 754 6 -994 6 90 6 -275 6 414 6 -995 6 589 6 -65 6 -64 6 1332 6 -1002 6 -133 6 6 6 738 6 356 6 -193 6 393 6 -922 6 610 6 -460 6 24 6 142 6 322 6 -26 6 -1117 6 1562 6 -997 6 671 6 -134 6 -261 6 -1300 6 928 6 -164 6 -45 6 -149 6 355 6 -617 6 674 6 441 6 -268 6 -2 6 -911 6 1786 6 -465 6 -382 6 -54 6 157 6 409 6 -486 6 -177 6 877 6 -617 6 -116 6 8 6 -942 6 1648 6 -965 6 24 6 997 6 -1278 6 1114 6 -729 6 562 6 -217 6 -584 6 -257 6 533 6 -57 6 211 6 -646 6 259 6 1537 6 -2240 6 1459 6 511 6 -436 6 -384 6 109 6 566 6 -1104 6 623 6 -361 6 -941 6 836 6 1364 6 -559 6 -332 6 -533 6 -390 6 1015 6 -214 6 -334 6 -200 6 -236 6 -22 6 1155 6 -913 6 877 6 -561 6 -367 6 46 6 380 6 423 6 -937 6 174 6 1477 6 -1883 6 162 6 1562 6 -1781 6 357 6 132 6 879 6 -174 6 -546 6 -323 6 183 6 -677 6 1165 6 574 6 -281 6 -921 6 -31 6 -214 6 251 6 -165 6 370 6 -223 6 -202 6 153 6 742 6 279 6 -547 6 -1456 6 1247 6 680 6 -66 6 -42 6 -904 6 -120 6 1358 6 -336 6 -32 6 989 6 -1247 6 26 6 -255 6 641 6 -241 6 -425 6 315 6 -766 6 2 6 621 6 -127 6 176 6 -1348 6 1641 6 381 6 292 6 -157 6 -926 6 182 6 39 6 1521 6 -2457 6 494 6 1420 6 -1271 6 709 6 -1952 6 1241 6 576 6 370 6 -1496 6 1151 6 -86 6 -387 6 151 6 678 6 -1236 6 652 6 -956 6 738 6 -406 6 -456 6 506 6 503 6 614 6 -673 6 708 6 -523 6 -10 6 -247 6 -582 6 137 6 17 6 408 6 -51 6 650 6 -1378 6 963 6 -468 6 92 6 997 6 -1236 6 639 6 -636 6 -488 6 1099 6 -428 6 528 6 -462 6 76 6 292 6 -256 6 -310 6 132 6 -191 6 214 6 403 6 525 6 -976 6 157 6 -493 6 676 6 -323 6 295 6 376 6 -113 6 1543 6 -1943 6 628 6 -836 6 -223 6 891 6 -64 6 -389 6 -33 6 -388 6 1066 6 -490 6 -1077 6 955 6 -934 6 742 6 624 6 -792 6 -61 6 924 6 -1694 6 512 6 57 6 1524 6 -347 6 29 6 -388 6 -530 6 -256 6 84 6 892 6 -1402 6 1363 6 65 6 -278 6 -974 6 2337 6 -2163 6 974 6 147 6 1040 6 -1324 6 233 6 -177 6 423 6 -482 6 577 6 -728 6 -586 6 -602 6 1502 6 -1157 6 511 6 -506 6 1578 6 196 6 -588 6 -565 6 -179 6 1786 6 -1529 6 -766 6 1126 6 -775 6 1088 6 -734 6 685 6 -249 6 724 6 -1532 6 -590 6 1515 6 -457 6 433 6 -166 6 -256 6 31 6 83 6 -135 6 -287 6 -861 6 858 6 81 6 718 6 4 6 -428 6 51 6 -124 6 472 6 -323 6 145 6 -254 6 110 6 -370 6 -31 6 578 6 -790 6 317 6 -610 6 2079 6 -903 6 11 6 -1235 6 639 6 -98 6 250 6 300 6 -43 6 -201 6 1150 6 -822 6 171 6 -392 6 190 6 448 6 -269 6 399 6 -460 6 -873 6 897 6 -1230 6 1717 6 -1375 6 813 6 -820 6 1054 6 -857 6 -592 6 1332 6 -859 6 -188 6 1398 6 -868 6 188 6 534 6 -949 6 30 6 123 6 579 6 -363 6 44 6 -229 6 -353 6 772 6 100 6 -1162 6 455 6 1044 6 -1330 6 -186 6 -7 6 344 6 839 6 -132 6 -505 6 -80 6 636 6 -555 6 43 6 960 6 -514 6 -1453 6 1753 6 -614 6 634 6 -390 6 -178 6 499 6 -858 6 -385 6 403 6 1421 6 -1001 6 149 6 -208 6 -611 6 1270 6 -1044 6 707 6 -622 6 246 6 -6 6 -431 6 -295 6 1543 6 -823 6 1384 6 -1044 6 -980 6 1342 6 -328 6 123 6 -144 6 -572 6 -2 6 738 6 200 6 -568 6 -477 6 196 6 -436 6 303 6 445 6 -358 6 821 6 -1290 6 965 6 78 6 -106 6 -538 6 548 6 756 6 -1963 6 1220 6 753 6 104 6 -982 6 850 6 -561 6 517 6 -652 6 -315 6 1011 6 -1799 6 1383 6 -627 6 -816 6 548 6 -55 6 1282 6 59 6 -917 6 -125 6 -335 6 215 6 242 6 162 6 39 6 -149 6 697 6 -428 6 -375 6 -211 6 395 6 -540 6 -22 6 18 6 268 6 382 6 -805 6 202 6 573 6 -620 6 -135 6 517 6 -7 6 762 6 -445 6 -463 6 -42 6 792 6 -1449 6 896 6 60 6 512 6 -824 6 859 6 -940 6 652 6 -606 6 1185 6 -963 6 -412 6 477 6 -378 6 527 6 -1076 6 989 6 534 6 501 6 -1955 6 1283 6 -963 6 1160 6 -133 6 -1287 6 1347 6 -837 6 939 6 73 6 -611 6 245 6 207 6 -758 6 1010 6 -1215 6 327 6 957 6 -1135 6 141 6 -1064 6 761 6 57 6 -498 6 1919 6 -321 6 -156 6 142 6 -1054 6 150 6 -1156 6 1923 6 -87 6 -847 6 202 6 -28 6 515 6 -726 6 213 6 396 6 -688 6 1414 6 -1384 6 -532 6 1310 6 -1550 6 706 6 735 6 -892 6 1331 6 -49 6 -364 6 -517 6 714 6 26 6 34 6 -1482 6 581 6 1195 6 -101 6 -852 6 -601 6 877 6 -993 6 432 6 950 6 -90 6 -797 6 -28 6 650 6 -220 6 596 6 -1024 6 -190 6 560 6 -430 6 -236 6 1010 6 -1112 6 1064 6 -774 6 335 6 93 6 -178 6 -812 6 1143 6 -472 6 -411 6 77 6 477 6 390 6 -590 6 371 6 231 6 -718 6 -305 6 486 6 418 6 210 6 -866 6 237 6 73 6 373 6 111 6 578 6 -1170 6 673 6 548 6 -364 6 309 6 -2 6 -1305 6 622 6 333 6 -94 6 364 6 -61 6 -825 6 431 6 -68 6 902 6 -498 6 -1140 6 749 6 -470 6 644 6 -902 6 130 6 -101 6 351 6 579 6 -225 6 -133 6 18 6 261 6 102 6 -276 6 57 6 -709 6 392 6 -1067 6 788 6 851 6 -365 6 -546 6 -644 6 1416 6 -264 6 -205 6 28 6 796 6 -1010 6 166 6 -700 6 967 6 -1057 6 585 6 21 6 319 6 608 6 555 6 -886 6 885 6 -1195 6 722 6 233 6 -1690 6 41 6 -150 6 1165 6 79 6 -372 6 -125 6 -481 6 666 6 219 6 -187 6 722 6 -1089 6 507 6 -1258 6 1335 6 -407 6 499 6 -894 6 -563 6 -266 6 1590 6 -1051 6 265 6 -188 6 579 6 -96 6 81 6 636 6 -576 6 -845 6 1610 6 -1201 6 1010 6 -558 6 -813 6 1498 6 -1404 6 1756 6 -1882 6 1223 6 -2252 6 2099 6 439 6 -17 6 -550 6 366 6 -458 6 499 6 -1078 6 -479 6 1540 6 -918 6 469 6 -405 6 -133 6 485 6 232 6 1115 6 -2556 6 2056 6 -1435 6 851 6 -478 6 978 6 -1067 6 742 6 26 6 -86 6 -333 6 566 6 -453 6 564 6 -1226 6 1119 6 -896 6 704 6 200 6 -161 6 -440 6 -188 6 -333 6 586 6 -417 6 889 6 736 6 -1834 6 613 6 -236 6 1229 6 -1044 6 -14 6 -568 6 1178 6 -743 6 283 6 -188 6 -557 6 594 6 -275 6 172 6 144 6 78 6 89 6 -168 6 10 6 -4 6 472 6 368 6 -452 6 577 6 -1764 6 1494 6 -301 6 -664 6 636 6 -292 6 -572 6 1024 6 -1377 6 1429 6 -894 6 881 6 -111 6 572 6 -1511 6 331 6 1129 6 -1744 6 1364 6 -295 6 242 6 566 6 -2344 6 1858 6 3 6 -1168 6 787 6 493 6 -1191 6 -894 6 1130 6 832 6 -35 6 -41 6 254 6 -176 6 -266 6 -117 6 -181 6 -978 6 1898 6 -994 6 69 6 875 6 -1821 6 443 6 1649 6 -2120 6 1736 6 -1003 6 -580 6 1044 6 -694 6 1251 6 -265 6 -25 6 -358 6 -1050 6 35 6 1620 6 211 6 -932 6 636 6 157 6 -603 6 -375 6 443 6 1 6 81 6 -648 6 -248 6 461 6 545 6 -523 6 327 6 538 6 -724 6 -137 6 -317 6 21 6 600 6 212 6 -623 6 -523 6 620 6 -80 6 778 6 214 6 -758 6 388 6 965 6 -1504 6 -414 6 -511 6 1440 6 69 6 -274 6 260 6 -1139 6 415 6 873 6 -976 6 390 6 -133 6 967 6 504 6 -1610 6 579 6 -319 6 -111 6 243 6 -1054 6 572 6 1611 6 -1211 6 -368 6 107 6 82 6 512 6 -360 6 -36 6 -457 6 394 6 112 6 -215 6 392 6 -816 6 738 6 -1185 6 1228 6 -473 6 287 6 -655 6 158 6 888 6 -1529 6 227 6 422 6 430 6 655 6 -1204 6 702 6 -443 6 1350 6 -904 6 -924 6 40 6 455 6 -363 6 932 6 -1438 6 1214 6 278 6 -199 6 -579 6 -172 6 1120 6 -974 6 -231 6 -120 6 610 6 -226 6 1005 6 -15 6 -1820 6 937 6 215 6 -886 6 810 6 98 6 -559 6 -180 6 1694 6 -58 6 -1510 6 -56 6 1244 6 -796 6 -625 6 185 6 300 6 -732 6 1221 6 -446 6 -37 6 428 6 -49 6 -675 6 112 6 59 6 1084 6 -1660 6 545 6 61 6 77 6 -561 6 842 6 -221 6 220 6 -968 6 -66 6 882 6 -1336 6 1507 6 -303 6 -226 6 545 6 -364 6 428 6 -192 6 -450 6 -467 6 982 6 477 6 -416 6 187 6 -635 6 -431 6 -147 6 1079 6 -1642 6 1502 6 -574 6 -111 6 484 6 -807 6 727 6 -362 6 361 6 -112 6 -383 6 179 6 -96 6 -344 6 659 6 -426 6 582 6 -1076 6 355 6 -468 6 479 6 -163 6 28 6 78 6 75 6 -905 6 368 6 130 6 -204 6 99 6 -859 6 212 6 470 6 266 6 -1001 6 1133 6 -609 6 -280 6 -130 6 691 6 -491 6 161 6 -295 6 237 6 -439 6 178 6 -303 6 278 6 -185 6 25 6 -657 6 273 6 -247 6 274 6 -434 6 117 6 -305 6 117 6 254 6 -684 6 422 6 -565 6 -23 6 -366 6 309 6 -475 6 5 6 21 6 -213 6 186 6 -67 6 -34 6 -166 6 57 6 -300 6 59 6 -21 6 156 6 59 6 60 6 7 6 -148 6 177 6 -8 6 140 6 219 6 -262 6 334 6 -3 6 99 6 173 6 -61 6 369 6 -313 6 243 6 188 6 92 6 175 6 -133 6 -165 6 158 6 392 6 127 6 -380 6 264 6 10 6 -11 6 349 6 -68 6 509 6 25 6 -192 6 490 6 -14 6 -344 6 391 6 1 6 -739 6 1101 6 -571 6 -7 6 -34 6 -157 6 174 6 166 6 860 6 -142 6 -531 6 1213 6 -1255 6 37 6 -249 6 859 6 -574 6 1176 6 -275 6 -298 6 -689 6 907 6 -334 6 -151 6 869 6 -217 6 637 6 -1948 6 614 6 649 6 211 6 -353 6 -770 6 1477 6 -178 6 468 6 -1153 6 -10 6 714 6 206 6 -728 6 -413 6 261 6 305 6 149 6 -635 6 1116 6 -519 6 -163 6 13 6 413 6 154 6 -501 6 26 6 481 6 -73 6 -178 6 -181 6 218 6 -109 6 668 6 -500 6 371 6 -764 6 -499 6 1137 6 -1324 6 1434 6 -284 6 206 6 -79 6 -271 6 -252 6 233 6 244 6 -678 6 453 6 33 6 -2 6 -644 6 796 6 173 6 -74 6 -385 6 -399 6 -36 6 1832 6 -1389 6 381 6 -229 6 -149 6 1313 6 -1039 6 542 6 -1540 6 1287 6 95 6 173 6 -330 6 -812 6 606 6 -354 6 501 6 -622 6 1209 6 -1043 6 521 6 -1251 6 1461 6 -740 6 1211 6 -678 6 105 6 383 6 141 6 -372 6 207 6 182 6 -1315 6 1139 6 393 6 -493 6 -887 6 1363 6 -1142 6 1693 6 -1257 6 171 6 -363 6 -361 6 267 6 1285 6 -1225 6 471 6 -201 6 298 6 -114 6 -852 6 117 6 557 6 648 6 -325 6 -413 6 242 6 -835 6 832 6 248 6 -785 6 339 6 981 6 -834 6 -366 6 -450 6 1774 6 -1172 6 269 6 -93 6 470 6 -860 6 173 6 764 6 -349 6 -1553 6 1947 6 168 6 -658 6 -785 6 398 6 473 6 -611 6 437 6 -344 6 -575 6 1381 6 -655 6 763 6 215 6 -341 6 -1046 6 -773 6 174 6 1271 6 -769 6 370 6 -748 6 743 6 217 6 -346 6 -404 6 1059 6 -667 6 823 6 -1499 6 1445 6 -407 6 -550 6 -29 6 711 6 -209 6 650 6 1147 6 -613 6 -1108 6 -289 6 1527 6 -872 6 -112 6 852 6 -987 6 -241 6 -226 6 295 6 318 6 -990 6 993 6 333 6 -493 6 204 6 -588 6 365 6 -1136 6 478 6 724 6 -21 6 190 6 -623 6 253 6 -344 6 572 6 -320 6 5 6 676 6 -1714 6 1261 6 -105 6 -121 6 782 6 -1368 6 922 6 -674 6 -223 6 707 6 -627 6 207 6 778 6 -896 6 747 6 -703 6 884 6 -498 6 569 6 -871 6 57 6 369 6 599 6 573 6 -1925 6 859 6 611 6 -733 6 38 6 -272 6 1384 6 -1033 6 -500 6 -287 6 414 6 250 6 -424 6 350 6 1073 6 -1123 6 778 6 -1787 6 920 6 -479 6 -109 6 1126 6 -32 6 -862 6 362 6 590 6 18 6 -883 6 -536 6 844 6 302 6 -78 6 848 6 -1136 6 -250 6 1178 6 -894 6 -121 6 -105 6 328 6 296 6 -772 6 1010 6 -1055 6 639 6 -275 6 -124 6 503 6 -814 6 1240 6 -850 6 841 6 -1286 6 931 6 -724 6 1317 6 -1620 6 1716 6 179 6 -38 6 -1312 6 219 6 318 6 280 6 -590 6 -560 6 649 6 743 6 -1594 6 508 6 -58 6 798 6 102 6 -698 6 733 6 -1198 6 794 6 -1153 6 482 6 609 6 -659 6 -204 6 1693 6 -1488 6 249 6 1557 6 -944 6 -267 6 -751 6 708 6 299 6 647 6 -620 6 -358 6 514 6 -97 6 -701 6 129 6 -54 6 232 6 -528 6 1254 6 228 6 -2348 6 925 6 1165 6 429 6 -2248 6 1375 6 -399 6 -1614 6 2149 6 725 6 -1595 6 904 6 -1983 6 1952 6 -184 6 0 6 -182 6 192 6 198 6 -497 6 813 6 83 6 -676 6 147 6 -876 6 -130 6 -287 6 -369 6 1911 6 -328 6 -702 6 -47 6 -504 6 1212 6 261 6 -1091 6 186 6 992 6 -553 6 476 6 -888 6 275 6 231 6 520 6 9 6 -829 6 1147 6 -206 6 -1126 6 -130 6 314 6 664 6 308 6 -849 6 290 6 214 6 -749 6 29 6 1661 6 -3051 6 1547 6 277 6 -45 6 -815 6 390 6 424 6 110 6 -555 6 -837 6 784 6 -234 6 403 6 -294 6 143 6 -424 6 65 6 1292 6 80 6 -750 6 924 6 -1030 6 501 6 269 6 387 6 -270 6 46 6 -1918 6 838 6 -389 6 689 6 -56 6 233 6 -572 6 370 6 264 6 315 6 426 6 -78 6 -1296 6 895 6 -1071 6 1748 6 -1264 6 -532 6 1724 6 -166 6 -934 6 -105 6 -44 6 598 6 -678 6 -112 6 1829 6 -740 6 -438 6 227 6 -98 6 -474 6 1101 6 -847 6 -1073 6 651 6 365 6 44 6 -762 6 223 6 -41 6 1010 6 -309 6 -13 6 55 6 -350 6 -111 6 -339 6 833 6 379 6 -969 6 532 6 84 6 223 6 291 6 -659 6 537 6 -411 6 -360 6 -784 6 964 6 170 6 -525 6 -525 6 1051 6 -448 6 -331 6 1076 6 164 6 -991 6 917 6 471 6 -677 6 -770 6 90 6 862 6 -1235 6 868 6 -534 6 892 6 -1048 6 -796 6 1584 6 323 6 -529 6 -323 6 -418 6 625 6 -203 6 192 6 583 6 -1343 6 753 6 -1087 6 1520 6 -152 6 -645 6 -158 6 -278 6 -52 6 233 6 1398 6 -2257 6 1172 6 679 6 -598 6 768 6 -1362 6 523 6 -73 6 439 6 -703 6 229 6 723 6 -365 6 -281 6 962 6 -1414 6 992 6 -506 6 -16 6 995 6 -892 6 981 6 -1020 6 571 6 -629 6 712 6 284 6 -1003 6 1425 6 -775 6 -245 6 -552 6 4 6 390 6 443 6 145 6 207 6 -858 6 1407 6 -858 6 -909 6 54 6 -413 6 272 6 877 6 -513 6 1813 6 -1432 6 -404 6 688 6 -524 6 -518 6 860 6 -819 6 967 6 -1125 6 402 6 1068 6 -587 6 -455 6 1061 6 -629 6 -1607 6 1350 6 -987 6 1867 6 104 6 -904 6 296 6 -922 6 1988 6 -1178 6 -360 6 -226 6 162 6 632 6 -493 6 291 6 78 6 -454 6 376 6 316 6 -238 6 -440 6 -500 6 391 6 1076 6 -350 6 -1613 6 1174 6 -416 6 299 6 896 6 -623 6 308 6 -761 6 129 6 1055 6 -891 6 -31 6 1 6 -473 6 131 6 -544 6 1900 6 -1469 6 -558 6 1296 6 -558 6 416 6 803 6 -1613 6 1135 6 -487 6 181 6 22 6 326 6 460 6 -1251 6 306 6 -764 6 1027 6 -926 6 862 6 1198 6 -1363 6 -330 6 223 6 -776 6 632 6 551 6 649 6 -227 6 -1005 6 1013 6 -605 6 -575 6 -229 6 -40 6 1008 6 -600 6 -323 6 800 6 133 6 -1 6 -210 6 283 6 -1840 6 1551 6 -442 6 541 6 -646 6 -1220 6 1359 6 -985 6 1050 6 -122 6 -112 6 -438 6 1180 6 71 6 -600 6 -329 6 750 6 -324 6 -161 6 -201 6 303 6 1356 6 -1418 6 -320 6 1077 6 -1127 6 697 6 -135 6 735 6 -1892 6 -389 6 1456 6 998 6 -209 6 -393 6 -183 6 127 6 -712 6 815 6 -366 6 -188 6 -107 6 853 6 -1092 6 1389 6 -1023 6 887 6 -452 6 -494 6 424 6 -1058 6 1521 6 323 6 -170 6 -1403 6 1204 6 -1473 6 1155 6 686 6 -308 6 -728 6 489 6 393 6 -966 6 -287 6 932 6 -139 6 -840 6 367 6 340 6 -245 6 -815 6 307 6 324 6 1291 6 -962 6 419 6 -247 6 -1057 6 708 6 588 6 -1006 6 1708 6 -2175 6 992 6 -394 6 299 6 -730 6 1192 6 -107 6 765 6 25 6 -1300 6 817 6 -1090 6 1289 6 -537 6 1127 6 -1556 6 819 6 -548 6 -688 6 244 6 -383 6 351 6 267 6 813 6 -433 6 -644 6 745 6 -371 6 430 6 -1256 6 775 6 477 6 -1274 6 1097 6 -595 6 -1033 6 606 6 1172 6 287 6 -690 6 -7 6 231 6 -589 6 220 6 99 6 905 6 -78 6 -1282 6 1075 6 -2097 6 1899 6 -477 6 -375 6 -455 6 489 6 52 6 1408 6 -424 6 -695 6 543 6 -1009 6 830 6 -166 6 -383 6 -323 6 1076 6 -168 6 968 6 -756 6 -712 6 32 6 -444 6 1001 6 -538 6 1495 6 -929 6 -1161 6 2036 6 -587 6 -469 6 422 6 263 6 -1056 6 429 6 -956 6 612 6 55 6 294 6 -611 6 687 6 -201 6 -471 6 540 6 -1206 6 1839 6 -728 6 -1127 6 167 6 581 6 -498 6 1247 6 -344 6 1030 6 -978 6 -322 6 -331 6 1139 6 -1407 6 472 6 156 6 740 6 -672 6 535 6 -683 6 -515 6 748 6 617 6 -685 6 118 6 -589 6 291 6 -685 6 2160 6 -1130 6 160 6 -224 6 1079 6 -1640 6 630 6 518 6 -727 6 -429 6 416 6 -60 6 407 6 -1445 6 1760 6 -753 6 560 6 -150 6 -859 6 655 6 -455 6 715 6 -342 6 -606 6 1212 6 537 6 -1175 6 174 6 -770 6 593 6 1044 6 -824 6 898 6 -859 6 309 6 -467 6 603 6 -1099 6 222 6 566 6 -321 6 -431 6 1089 6 143 6 -1790 6 1691 6 -63 6 84 6 -225 6 -1068 6 -290 6 232 6 175 6 668 6 -739 6 636 6 -370 6 599 6 -69 6 -858 6 592 6 -274 6 273 6 408 6 -1273 6 753 6 329 6 -755 6 -280 6 490 6 1132 6 -1030 6 282 6 300 6 -130 6 -370 6 -58 6 498 6 -403 6 1086 6 -182 6 -1253 6 -290 6 1092 6 -127 6 -255 6 133 6 85 6 151 6 -284 6 -432 6 686 6 -270 6 -163 6 59 6 450 6 -923 6 1184 6 -329 6 -547 6 148 6 134 6 254 6 -603 6 -193 6 -1058 6 2233 6 -374 6 -995 6 446 6 51 6 -394 6 -120 6 661 6 12 6 773 6 -1151 6 -115 6 134 6 899 6 407 6 -1339 6 816 6 -21 6 -1320 6 926 6 242 6 -812 6 619 6 -674 6 -509 6 1212 6 589 6 -792 6 -755 6 -214 6 243 6 343 6 -52 6 982 6 761 6 -1320 6 437 6 -148 6 376 6 -1031 6 1373 6 -441 6 -1102 6 894 6 -55 6 -427 6 396 6 -579 6 -191 6 397 6 -138 6 356 6 174 6 444 6 -1464 6 422 6 1342 6 -1207 6 190 6 -578 6 312 6 211 6 253 6 249 6 -987 6 360 6 -131 6 200 6 -95 6 555 6 107 6 -260 6 -197 6 -23 6 308 6 -165 6 -906 6 2127 6 -532 6 -1222 6 1359 6 -1659 6 19 6 1228 6 -267 6 -297 6 516 6 -919 6 292 6 1279 6 -242 6 -1390 6 1176 6 -616 6 153 6 -155 6 367 6 -566 6 -646 6 872 6 -127 6 100 6 -64 6 56 6 -438 6 855 6 472 6 -1726 6 881 6 -275 6 -71 6 -262 6 1444 6 -399 6 -519 6 -72 6 429 6 -703 6 1167 6 60 6 -284 6 -656 6 -1308 6 1621 6 -4 6 557 6 -1583 6 1193 6 -482 6 -675 6 1459 6 -23 6 -899 6 153 6 396 6 -696 6 756 6 84 6 293 6 14 6 -251 6 -925 6 413 6 284 6 69 6 494 6 -786 6 -119 6 -465 6 1261 6 -1477 6 749 6 -6 6 63 6 952 6 -1305 6 126 6 743 6 194 6 -873 6 373 6 673 6 -612 6 -166 6 729 6 -935 6 -474 6 866 6 -281 6 431 6 101 6 -1137 6 1178 6 -1491 6 1222 6 -32 6 674 6 -546 6 -731 6 342 6 -199 6 -404 6 855 6 -395 6 -1215 6 1747 6 -1023 6 1420 6 -866 6 -515 6 1379 6 -560 6 750 6 -1062 6 599 6 -728 6 -435 6 895 6 258 6 -831 6 1505 6 -951 6 300 6 570 6 -1535 6 672 6 196 6 -269 6 348 6 240 6 -618 6 -55 6 -130 6 54 6 401 6 -1273 6 632 6 -202 6 1366 6 -603 6 13 6 -829 6 807 6 191 6 -219 6 497 6 -331 6 -445 6 -512 6 1450 6 -2397 6 1492 6 -355 6 845 6 -495 6 -96 6 -201 6 546 6 206 6 -286 6 -435 6 -1117 6 1919 6 -50 6 186 6 -73 6 -1229 6 768 6 -230 6 -899 6 510 6 13 6 368 6 -156 6 117 6 -407 6 -279 6 730 6 -12 6 -231 6 2 6 -458 6 -40 6 736 6 65 6 360 6 -161 6 -742 6 39 6 1867 6 -1436 6 330 6 -432 6 -431 6 1026 6 312 6 -835 6 126 6 -663 6 892 6 237 6 -262 6 399 6 -487 6 -465 6 582 6 800 6 -545 6 -1006 6 -207 6 10 6 701 6 537 6 -607 6 -431 6 272 6 650 6 -768 6 -104 6 1703 6 -665 6 -1118 6 190 6 150 6 -257 6 505 6 92 6 -602 6 1202 6 -328 6 -1668 6 1314 6 -762 6 67 6 64 6 282 6 1658 6 -2039 6 360 6 -275 6 -85 6 -897 6 2056 6 -758 6 -1305 6 1842 6 -941 6 194 6 296 6 1062 6 -907 6 357 6 74 6 -27 6 -102 6 -514 6 1041 6 -744 6 42 6 545 6 -397 6 -177 6 279 6 618 6 -1046 6 245 6 -229 6 1043 6 -1588 6 1253 6 -843 6 403 6 595 6 -511 6 -1235 6 357 6 -81 6 500 6 -99 6 1137 6 -1654 6 82 6 807 6 -148 6 304 6 -621 6 -141 6 -554 6 788 6 95 6 -279 6 518 6 -83 6 -189 6 -702 6 51 6 589 6 -456 6 448 6 458 6 380 6 -916 6 215 6 47 6 263 6 -415 6 754 6 -884 6 438 6 -95 6 -85 6 1376 6 -1372 6 -1252 6 2039 6 -1298 6 982 6 -1004 6 954 6 -39 6 338 6 -1252 6 388 6 1570 6 -1240 6 151 6 146 6 -800 6 595 6 -282 6 -23 6 -121 6 251 6 -1126 6 2148 6 -134 6 -223 6 -561 6 -941 6 542 6 36 6 -280 6 -38 6 920 6 -398 6 131 6 -244 6 -20 6 145 6 -360 6 1519 6 -2660 6 895 6 1185 6 274 6 -1685 6 449 6 374 6 169 6 -113 6 600 6 190 6 57 6 -378 6 244 6 -1126 6 655 6 -630 6 801 6 718 6 -826 6 -445 6 878 6 -7 6 -885 6 -125 6 691 6 -416 6 -43 6 -390 6 1190 6 -1118 6 16 6 -206 6 -108 6 1085 6 -744 6 360 6 -892 6 1026 6 395 6 -392 6 431 6 -837 6 768 6 -411 6 -500 6 676 6 -1 6 78 6 -517 6 1055 6 -1700 6 1020 6 253 6 -1478 6 1120 6 -665 6 31 6 562 6 414 6 -383 6 251 6 -770 6 856 6 -136 6 -187 6 454 6 -1611 6 1607 6 -197 6 -758 6 -564 6 1630 6 -968 6 529 6 -514 6 -309 6 534 6 -312 6 922 6 -358 6 -807 6 133 6 -300 6 301 6 314 6 -143 6 1024 6 -683 6 227 6 -1226 6 1754 6 -435 6 -7 6 196 6 -26 6 -92 6 -413 6 -381 6 285 6 384 6 71 6 -40 6 -993 6 -245 6 1564 6 -196 6 116 6 -380 6 137 6 -1415 6 -358 6 1019 6 908 6 -1701 6 2020 6 -1347 6 754 6 -397 6 345 6 -449 6 -630 6 1501 6 -44 6 -165 6 20 6 -1788 6 958 6 309 6 -471 6 1492 6 -1197 6 1585 6 -1375 6 423 6 -125 6 583 6 -1649 6 975 6 -1357 6 1879 6 -196 6 -1537 6 1209 6 -345 6 791 6 -218 6 -411 6 508 6 -586 6 -505 6 901 6 -221 6 -472 6 55 6 606 6 -811 6 66 6 1375 6 -622 6 -574 6 1009 6 -276 6 -279 6 183 6 -323 6 -1145 6 1097 6 210 6 385 6 -1276 6 186 6 1105 6 -593 6 838 6 -2280 6 1638 6 -427 6 745 6 -507 6 185 6 -910 6 143 6 440 6 -138 6 -392 6 1511 6 -1128 6 277 6 260 6 -150 6 283 6 -232 6 -499 6 525 6 599 6 -682 6 -342 6 337 6 1148 6 -338 6 -1431 6 587 6 109 6 419 6 -802 6 -375 6 716 6 -130 6 -311 6 113 6 105 6 -536 6 1632 6 -532 6 39 6 475 6 -882 6 -670 6 1269 6 -767 6 -262 6 1231 6 -638 6 283 6 -1144 6 761 6 -318 6 -338 6 -451 6 1108 6 -10 6 164 6 115 6 -69 6 730 6 -182 6 -467 6 -911 6 913 6 531 6 -852 6 -368 6 421 6 806 6 -401 6 -652 6 -298 6 835 6 83 6 -537 6 32 6 171 6 -485 6 219 6 782 6 -213 6 -422 6 949 6 -1175 6 617 6 -1823 6 1566 6 195 6 -418 6 -528 6 424 6 814 6 -613 6 390 6 -348 6 2 6 167 6 -823 6 1055 6 -181 6 -638 6 -420 6 964 6 -263 6 -1111 6 1357 6 -1083 6 1024 6 -313 6 546 6 -90 6 -881 6 1024 6 -463 6 -377 6 417 6 811 6 -1379 6 460 6 -415 6 1447 6 15 6 -798 6 247 6 -984 6 -344 6 1140 6 -526 6 106 6 70 6 -510 6 1184 6 -932 6 770 6 150 6 -770 6 262 6 67 6 -400 6 -209 6 94 6 1483 6 -756 6 82 6 -217 6 -510 6 538 6 -685 6 735 6 -1531 6 1843 6 -700 6 -99 6 301 6 -581 6 182 6 673 6 -753 6 1253 6 -720 6 -331 6 -1168 6 784 6 171 6 -144 6 299 6 415 6 -95 6 83 6 -1203 6 791 6 139 6 -38 6 203 6 185 6 -1108 6 928 6 -57 6 -98 6 1056 6 -202 6 -483 6 365 6 179 6 -1463 6 1509 6 -1195 6 1111 6 -608 6 468 6 -120 6 -511 6 889 6 -1098 6 -522 6 244 6 -99 6 464 6 -679 6 357 6 -985 6 2285 6 -1260 6 436 6 -70 6 841 6 -915 6 -286 6 -119 6 -13 6 1630 6 -1212 6 -271 6 -360 6 438 6 -564 6 722 6 -243 6 1260 6 -709 6 97 6 -320 6 -629 6 925 6 -509 6 856 6 -808 6 424 6 225 6 -341 6 67 6 139 6 133 6 -912 6 236 6 -720 6 1359 6 -307 6 -592 6 700 6 626 6 -1077 6 -956 6 1629 6 150 6 -867 6 525 6 262 6 -386 6 -163 6 -380 6 -138 6 1043 6 -731 6 -468 6 -820 6 1366 6 84 6 -360 6 67 6 395 6 250 6 16 6 -1845 6 2357 6 -613 6 -48 6 -4 6 28 6 -520 6 256 6 1620 6 -1574 6 -619 6 151 6 1723 6 -1932 6 466 6 920 6 -1083 6 541 6 -40 6 -237 6 1141 6 -910 6 641 6 -1388 6 2503 6 -1563 6 159 6 -467 6 -205 6 -311 6 827 6 -384 6 637 6 -871 6 -448 6 1448 6 15 6 -549 6 -613 6 371 6 1044 6 -124 6 -887 6 -956 6 1601 6 -188 6 270 6 -411 6 -891 6 951 6 1060 6 -880 6 320 6 -968 6 -159 6 783 6 -180 6 -1034 6 266 6 533 6 957 6 -1041 6 -25 6 -28 6 1052 6 510 6 -2016 6 -943 6 2487 6 -1020 6 -163 6 113 6 -307 6 374 6 -647 6 1551 6 -632 6 -1026 6 1598 6 -962 6 864 6 -1118 6 588 6 613 6 -1361" fill="none" stroke="#ff00ff" stroke-width="96.965"/>
<rect x="67.75" y="484.20" width="247.45" height="118.50" fill="none" stroke="#000" stroke-width="1.5"/>
<path d="M67.75 602.70v-7.50M67.75 484.20v7.50M88.37 602.70v-4.00M88.37 484.20v4.00M108.99 602.70v-7.50M108.99 484.20v7.50M129.61 602.70v-4.00M129.61 484.20v4.00M150.23 602.70v-7.50M150.23 484.20v7.50M170.85 602.70v-4.00M170.85 484.20v4.00M191.47 602.70v-7.50M191.47 484.20v7.50M212.10 602.70v-4.00M212.10 484.20v4.00M232.72 602.70v-7.50M232.72 484.20v7.50M253.34 602.70v-4.00M253.34 484.20v4.00M273.96 602.70v-7.50M273.96 484.20v7.50M294.58 602.70v-4.00M294.58 484.20v4.00M315.20 602.70v-7.50M315.20 484.20v7.50M67.75 602.70h7.50M315.20 602.70h-7.50M67.75 587.89h4.00M315.20 587.89h-4.00M67.75 573.08h7.50M315.20 573.08h-7.50M67.75 558.26h4.00M315.20 558.26h-4.00M67.75 543.45h7.50M315.20 543.45h-7.50M67.75 528.64h4.00M315.20 528.64h-4.00M67.75 513.83h7.50M315.20 513.83h-7.50M67.75 499.01h4.00M315.20 499.01h-4.00M67.75 484.20h7.50M315.20 484.20h-7.50" stroke="#000" stroke-width="1.5" fill="none"/>
<rect x="132.65" y="566.10" width="130.75" height="20.45" fill="#fff" stroke="#2a2a2a" stroke-width="1.15"/>
<path d="M141.00 577.35H178.00" stroke="#c46cc8" stroke-width="1.1"/>
<text x="259.70" y="582.85" font-size="17.1" text-anchor="end">1000 MHz</text>
<g font-size="18.5"><text transform="translate(58.65 607.60) scale(0.96 1.02)" text-anchor="end">0.0</text>
<text transform="translate(58.65 577.98) scale(0.96 1.02)" text-anchor="end">0.5</text>
<text transform="translate(58.65 548.35) scale(0.96 1.02)" text-anchor="end">1.0</text>
<text transform="translate(58.65 518.73) scale(0.96 1.02)" text-anchor="end">1.5</text>
<text transform="translate(58.65 489.10) scale(0.96 1.02)" text-anchor="end">2.0</text></g>
<path transform="translate(403.250 484.200) scale(0.0103047)" d="M0 6491 l6 -806 6 -74 6 207 6 52 6 40 6 -108 6 362 6 -87 6 -610 6 458 6 -780 6 491 6 329 6 -277 6 605 6 -545 6 467 6 -842 6 -379 6 709 6 203 6 -144 6 84 6 -253 6 -102 6 -148 6 162 6 -70 6 259 6 698 6 -533 6 -91 6 143 6 643 6 -339 6 -859 6 651 6 -602 6 224 6 -71 6 -63 6 -166 6 643 6 -204 6 -70 6 -383 6 919 6 -965 6 101 6 -59 6 714 6 -922 6 17 6 995 6 -871 6 344 6 389 6 -472 6 239 6 -48 6 636 6 86 6 -132 6 -360 6 -191 6 487 6 -201 6 -834 6 267 6 112 6 727 6 -447 6 97 6 -251 6 40 6 -315 6 22 6 519 6 -68 6 -451 6 675 6 -783 6 -443 6 1018 6 -647 6 1384 6 -1362 6 773 6 216 6 112 6 -209 6 -37 6 -744 6 46 6 681 6 53 6 250 6 -739 6 -199 6 -107 6 513 6 710 6 -675 6 -528 6 713 6 -459 6 -608 6 534 6 -88 6 -5 6 42 6 465 6 -1101 6 1124 6 -690 6 315 6 -46 6 196 6 -347 6 380 6 65 6 76 6 -285 6 373 6 -129 6 80 6 -504 6 -552 6 1423 6 -580 6 -138 6 -6 6 891 6 -1087 6 -93 6 781 6 -170 6 -1073 6 53 6 381 6 664 6 -14 6 -439 6 100 6 644 6 -714 6 -217 6 631 6 -519 6 -96 6 299 6 -417 6 397 6 15 6 -475 6 397 6 69 6 117 6 120 6 526 6 -926 6 84 6 689 6 44 6 -544 6 -428 6 726 6 -949 6 696 6 -706 6 442 6 -202 6 597 6 -399 6 339 6 -207 6 -345 6 -183 6 1032 6 -580 6 40 6 -329 6 -27 6 540 6 272 6 -445 6 -602 6 478 6 -152 6 494 6 -921 6 1066 6 -422 6 190 6 298 6 -618 6 -25 6 380 6 -352 6 314 6 -574 6 439 6 632 6 -1000 6 750 6 -4 6 -81 6 4 6 -360 6 658 6 -783 6 765 6 -970 6 1427 6 -681 6 -244 6 94 6 443 6 -251 6 -161 6 -242 6 -9 6 -97 6 -89 6 84 6 218 6 -635 6 146 6 696 6 211 6 -582 6 -203 6 1322 6 -1209 6 286 6 -74 6 -341 6 669 6 -263 6 355 6 -380 6 521 6 -451 6 -17 6 -426 6 314 6 -383 6 667 6 -1118 6 770 6 524 6 -53 6 -929 6 -53 6 556 6 364 6 15 6 -333 6 -655 6 1004 6 -814 6 179 6 700 6 -477 6 -316 6 295 6 50 6 397 6 -1713 6 737 6 -103 6 750 6 -430 6 320 6 446 6 -282 6 262 6 136 6 -361 6 -357 6 -49 6 216 6 93 6 463 6 -970 6 507 6 -112 6 190 6 -141 6 388 6 -591 6 650 6 85 6 27 6 -488 6 -69 6 136 6 28 6 4 6 -145 6 236 6 -323 6 221 6 547 6 -1092 6 761 6 -470 6 951 6 -498 6 -556 6 -1124 6 1169 6 575 6 -482 6 120 6 477 6 -991 6 531 6 -25 6 522 6 -60 6 -236 6 303 6 -196 6 191 6 -603 6 239 6 277 6 -1278 6 1822 6 -839 6 -22 6 -47 6 381 6 -397 6 -409 6 595 6 -316 6 -10 6 606 6 -288 6 -345 6 -344 6 471 6 -483 6 850 6 242 6 -707 6 67 6 127 6 -770 6 401 6 296 6 79 6 -114 6 -108 6 -453 6 1213 6 -844 6 273 6 -433 6 71 6 114 6 387 6 403 6 -1017 6 456 6 -171 6 -208 6 265 6 280 6 -138 6 13 6 336 6 -686 6 174 6 425 6 -360 6 -152 6 419 6 -46 6 -105 6 -544 6 2 6 367 6 -158 6 64 6 -75 6 684 6 -492 6 -220 6 1263 6 -456 6 -1129 6 591 6 -259 6 566 6 -617 6 202 6 320 6 -280 6 449 6 181 6 10 6 310 6 -738 6 203 6 -601 6 52 6 394 6 -136 6 83 6 806 6 -1007 6 183 6 -385 6 -248 6 -74 6 247 6 1141 6 -1085 6 190 6 400 6 -682 6 571 6 -560 6 -483 6 1074 6 -525 6 -81 6 6 6 642 6 613 6 -1580 6 875 6 -88 6 167 6 118 6 -639 6 -213 6 102 6 387 6 -216 6 762 6 -1017 6 712 6 328 6 -702 6 352 6 -1083 6 686 6 -193 6 -425 6 1207 6 -163 6 -920 6 620 6 -100 6 -200 6 218 6 95 6 67 6 -40 6 -317 6 -37 6 987 6 -324 6 271 6 -659 6 19 6 -529 6 1104 6 -278 6 18 6 -354 6 -134 6 -49 6 -22 6 -25 6 146 6 131 6 -215 6 347 6 -311 6 15 6 -131 6 440 6 644 6 -655 6 -306 6 113 6 -10 6 313 6 -532 6 354 6 335 6 -419 6 348 6 -865 6 -187 6 935 6 -740 6 169 6 204 6 -20 6 480 6 562 6 -896 6 -548 6 826 6 -109 6 -226 6 150 6 -547 6 864 6 -688 6 1062 6 -244 6 -704 6 263 6 -343 6 839 6 -438 6 -416 6 670 6 -772 6 342 6 -208 6 1145 6 -934 6 537 6 -215 6 -328 6 536 6 411 6 -717 6 -990 6 237 6 209 6 525 6 267 6 -526 6 149 6 500 6 -888 6 440 6 -80 6 53 6 39 6 -254 6 608 6 -1007 6 281 6 212 6 535 6 -769 6 984 6 -1024 6 724 6 -682 6 355 6 -609 6 986 6 847 6 -1567 6 755 6 -297 6 -193 6 -55 6 -133 6 689 6 39 6 -569 6 -81 6 -83 6 655 6 -162 6 144 6 -346 6 -886 6 1673 6 -298 6 -1099 6 248 6 638 6 -491 6 -710 6 1164 6 -380 6 -204 6 94 6 273 6 409 6 -848 6 -24 6 386 6 659 6 -928 6 730 6 274 6 -1212 6 262 6 -9 6 69 6 -23 6 -660 6 340 6 803 6 110 6 -734 6 176 6 -16 6 697 6 302 6 -123 6 -387 6 382 6 -74 6 -11 6 -479 6 -158 6 185 6 377 6 -104 6 -114 6 -531 6 -492 6 180 6 950 6 -460 6 -287 6 129 6 -314 6 747 6 -268 6 -145 6 -426 6 219 6 31 6 1003 6 -1224 6 460 6 617 6 -536 6 -254 6 331 6 -295 6 743 6 -1446 6 1229 6 -288 6 609 6 -20 6 -816 6 486 6 87 6 -533 6 70 6 197 6 -174 6 19 6 463 6 -361 6 210 6 -174 6 614 6 -1108 6 707 6 -653 6 -200 6 733 6 -952 6 1133 6 -259 6 139 6 74 6 -190 6 21 6 130 6 -188 6 -126 6 -107 6 94 6 31 6 25 6 -732 6 994 6 315 6 -655 6 -147 6 164 6 -270 6 846 6 -791 6 -249 6 352 6 -153 6 -226 6 565 6 603 6 -866 6 -99 6 744 6 -1241 6 808 6 -268 6 542 6 136 6 -381 6 300 6 -686 6 -36 6 1483 6 -1418 6 856 6 -1396 6 1032 6 -243 6 314 6 -412 6 376 6 -135 6 31 6 -320 6 516 6 62 6 -362 6 12 6 38 6 526 6 -575 6 379 6 -84 6 -693 6 872 6 98 6 -328 6 -372 6 153 6 171 6 -685 6 -39 6 1446 6 -656 6 497 6 -738 6 122 6 -475 6 1332 6 -526 6 -201 6 -578 6 166 6 -236 6 243 6 -46 6 456 6 198 6 -970 6 815 6 -47 6 -743 6 103 6 678 6 -665 6 -96 6 623 6 -384 6 -256 6 900 6 -542 6 447 6 -182 6 454 6 -288 6 -627 6 629 6 -533 6 -147 6 597 6 -315 6 308 6 40 6 509 6 -935 6 -304 6 737 6 50 6 -450 6 202 6 63 6 -973 6 906 6 249 6 27 6 -103 6 -810 6 318 6 -284 6 952 6 -1292 6 1027 6 -417 6 779 6 -356 6 425 6 -593 6 -268 6 990 6 -456 6 12 6 -128 6 -52 6 -352 6 239 6 400 6 -593 6 292 6 533 6 -1144 6 648 6 427 6 -466 6 308 6 144 6 -699 6 743 6 -135 6 213 6 -409 6 -125 6 -250 6 -497 6 738 6 266 6 -101 6 -342 6 213 6 -367 6 -104 6 662 6 -321 6 -81 6 459 6 33 6 -309 6 272 6 -430 6 -475 6 352 6 201 6 305 6 -1020 6 1034 6 -423 6 254 6 -255 6 -338 6 359 6 -53 6 -254 6 1220 6 -608 6 62 6 1002 6 -863 6 -774 6 -193 6 1311 6 -426 6 -483 6 244 6 -550 6 469 6 -43 6 130 6 230 6 -715 6 -294 6 67 6 632 6 -59 6 87 6 -316 6 153 6 -34 6 234 6 566 6 -72 6 -724 6 107 6 162 6 318 6 -512 6 -318 6 279 6 -283 6 324 6 687 6 -569 6 383 6 -856 6 96 6 -322 6 541 6 610 6 176 6 -230 6 -387 6 -322 6 99 6 -205 6 753 6 -510 6 50 6 260 6 284 6 -459 6 -130 6 510 6 83 6 -856 6 159 6 1025 6 -871 6 -85 6 449 6 45 6 -262 6 -401 6 261 6 58 6 525 6 -905 6 289 6 575 6 -14 6 -67 6 -368 6 119 6 -408 6 863 6 -1083 6 1273 6 -387 6 -831 6 -78 6 1057 6 -202 6 -505 6 -824 6 1330 6 40 6 -802 6 474 6 249 6 -547 6 -23 6 -217 6 1071 6 -393 6 479 6 -642 6 -26 6 103 6 -535 6 619 6 -692 6 920 6 -73 6 -88 6 -909 6 369 6 310 6 -145 6 520 6 -40 6 -505 6 -34 6 445 6 -732 6 734 6 472 6 -548 6 14 6 -613 6 923 6 -831 6 501 6 -321 6 318 6 -164 6 670 6 -797 6 299 6 -248 6 388 6 -238 6 822 6 -915 6 48 6 28 6 167 6 567 6 -1572 6 870 6 -653 6 646 6 408 6 -302 6 -83 6 -1 6 236 6 -306 6 -229 6 319 6 -75 6 -301 6 94 6 566 6 -984 6 561 6 -251 6 600 6 -118 6 -171 6 -370 6 13 6 -413 6 718 6 77 6 153 6 -315 6 429 6 -687 6 -84 6 985 6 -543 6 -599 6 967 6 79 6 -761 6 772 6 -152 6 -861 6 494 6 462 6 -409 6 155 6 -392 6 916 6 -466 6 -209 6 402 6 67 6 -349 6 -111 6 -50 6 -131 6 -297 6 -405 6 1191 6 -479 6 452 6 -192 6 -409 6 -531 6 1288 6 -903 6 817 6 -1262 6 685 6 589 6 -339 6 19 6 -149 6 -43 6 947 6 -1046 6 -14 6 -168 6 180 6 698 6 -71 6 -430 6 -258 6 596 6 273 6 309 6 -60 6 -975 6 535 6 -202 6 -91 6 -116 6 285 6 -142 6 -17 6 78 6 -486 6 -273 6 1082 6 -541 6 -137 6 196 6 -743 6 790 6 81 6 -22 6 -298 6 254 6 -1218 6 835 6 259 6 -134 6 300 6 -611 6 1119 6 -359 6 -392 6 268 6 -506 6 954 6 -306 6 -537 6 411 6 96 6 -401 6 -396 6 1171 6 -506 6 -579 6 50 6 471 6 81 6 -300 6 -75 6 59 6 -101 6 362 6 -641 6 1086 6 -1004 6 359 6 -341 6 760 6 166 6 -800 6 -33 6 1017 6 -1098 6 125 6 773 6 -1077 6 556 6 -533 6 -418 6 580 6 496 6 -736 6 562 6 -314 6 388 6 104 6 41 6 -324 6 116 6 -535 6 -595 6 1640 6 366 6 -24 6 -667 6 -1061 6 1268 6 -357 6 222 6 -539 6 353 6 126 6 -90 6 609 6 -453 6 -179 6 -510 6 666 6 354 6 -781 6 163 6 150 6 752 6 -353 6 -862 6 626 6 -574 6 584 6 -581 6 -213 6 673 6 -44 6 -309 6 531 6 54 6 -744 6 781 6 -136 6 -932 6 544 6 463 6 -545 6 512 6 -320 6 -112 6 -13 6 579 6 -240 6 -493 6 -522 6 1112 6 -358 6 618 6 -659 6 -117 6 -150 6 523 6 -29 6 851 6 -510 6 -719 6 518 6 -232 6 218 6 -212 6 563 6 -500 6 -71 6 36 6 -836 6 1090 6 -241 6 14 6 -568 6 365 6 693 6 -764 6 221 6 -607 6 1258 6 -1094 6 798 6 -356 6 68 6 -182 6 -105 6 -34 6 307 6 98 6 -71 6 -37 6 185 6 -453 6 861 6 -894 6 635 6 -545 6 -285 6 121 6 -161 6 678 6 -464 6 98 6 407 6 238 6 -85 6 -876 6 641 6 -517 6 337 6 -202 6 601 6 -32 6 141 6 -254 6 -558 6 576 6 -4 6 -169 6 0 6 -127 6 378 6 -254 6 810 6 -1132 6 -153 6 690 6 -426 6 243 6 291 6 -375 6 223 6 41 6 100 6 -73 6 -935 6 393 6 196 6 142 6 -22 6 338 6 225 6 86 6 -209 6 -231 6 101 6 109 6 -769 6 558 6 -642 6 819 6 -878 6 201 6 -86 6 -311 6 601 6 275 6 -549 6 -598 6 983 6 14 6 -699 6 506 6 548 6 -310 6 -427 6 424 6 110 6 -634 6 8 6 -234 6 1179 6 -316 6 -287 6 -667 6 418 6 385 6 -5 6 -387 6 684 6 -594 6 67 6 -362 6 471 6 266 6 438 6 -617 6 -1085 6 631 6 585 6 170 6 -222 6 -33 6 -82 6 -459 6 -305 6 840 6 394 6 -569 6 339 6 -212 6 690 6 -1077 6 341 6 -799 6 566 6 744 6 -125 6 -17 6 -226 6 -552 6 729 6 -99 6 -951 6 1071 6 -738 6 302 6 127 6 412 6 -595 6 794 6 -35 6 -1018 6 372 6 -68 6 -768 6 550 6 370 6 273 6 -652 6 35 6 -356 6 640 6 -159 6 -78 6 223 6 285 6 -478 6 -11 6 -198 6 39 6 -118 6 420 6 -243 6 -214 6 738 6 -426 6 27 6 611 6 -429 6 -110 6 168 6 485 6 -468 6 412 6 -40 6 -355 6 -74 6 215 6 305 6 -648 6 15 6 297 6 -681 6 294 6 428 6 -752 6 239 6 370 6 342 6 -178 6 -456 6 292 6 35 6 264 6 -371 6 222 6 -408 6 -329 6 -81 6 345 6 -81 6 414 6 -157 6 582 6 -473 6 408 6 -479 6 -97 6 -91 6 -27 6 261 6 317 6 -127 6 -278 6 465 6 -560 6 89 6 -241 6 159 6 466 6 -98 6 303 6 -405 6 355 6 -400 6 -364 6 357 6 -82 6 -837 6 1385 6 -984 6 324 6 -751 6 920 6 1103 6 -1288 6 -101 6 358 6 -264 6 -774 6 658 6 607 6 -130 6 -194 6 131 6 -141 6 123 6 -302 6 433 6 -871 6 667 6 145 6 107 6 -207 6 -826 6 559 6 -283 6 639 6 -349 6 683 6 -1107 6 597 6 -748 6 832 6 -249 6 152 6 -652 6 445 6 47 6 53 6 23 6 -29 6 -229 6 1103 6 -1068 6 501 6 -268 6 -80 6 488 6 -290 6 406 6 -1196 6 1027 6 -536 6 18 6 -157 6 276 6 407 6 -533 6 495 6 265 6 -335 6 -207 6 -346 6 914 6 -238 6 -349 6 102 6 -658 6 537 6 531 6 -937 6 528 6 162 6 440 6 -280 6 -192 6 -284 6 21 6 -595 6 241 6 326 6 -181 6 253 6 264 6 -405 6 477 6 -569 6 369 6 -48 6 -389 6 351 6 422 6 -38 6 -971 6 493 6 15 6 115 6 407 6 -436 6 -314 6 407 6 -200 6 252 6 -181 6 -623 6 467 6 -629 6 1217 6 529 6 -1122 6 440 6 -54 6 -228 6 -132 6 317 6 -167 6 -603 6 -221 6 874 6 784 6 -37 6 -537 6 -312 6 484 6 -442 6 -415 6 317 6 -566 6 766 6 -121 6 424 6 -513 6 -181 6 456 6 1 6 -340 6 237 6 441 6 -1242 6 904 6 12 6 62 6 -125 6 419 6 30 6 -31 6 -982 6 324 6 53 6 -151 6 333 6 -510 6 323 6 552 6 745 6 -1127 6 -35 6 34 6 -432 6 643 6 -339 6 115 6 -288 6 116 6 420 6 -66 6 -530 6 409 6 485 6 -744 6 533 6 100 6 -480 6 28 6 -430 6 878 6 -193 6 -691 6 -532 6 889 6 64 6 -17 6 229 6 14 6 -603 6 136 6 736 6 -977 6 520 6 411 6 -411 6 -836 6 803 6 -222 6 -332 6 510 6 469 6 -666 6 -8 6 255 6 -102 6 519 6 -239 6 -293 6 930 6 -2293 6 1251 6 414 6 145 6 -103 6 -64 6 -446 6 74 6 -194 6 215 6 277 6 -67 6 643 6 -1268 6 467 6 477 6 -624 6 -560 6 833 6 -383 6 -122 6 -445 6 515 6 -164 6 478 6 -407 6 495 6 -185 6 721 6 -714 6 318 6 -80 6 -45 6 162 6 -569 6 701 6 -1144 6 365 6 935 6 460 6 -1279 6 610 6 -111 6 -876 6 384 6 835 6 -681 6 636 6 -1010 6 1246 6 -18 6 -726 6 -202 6 814 6 -781 6 -126 6 257 6 179 6 -289 6 535 6 -577 6 -375 6 370 6 654 6 -158 6 62 6 -59 6 -1340 6 838 6 307 6 124 6 179 6 5 6 -666 6 748 6 -668 6 15 6 696 6 -344 6 -675 6 607 6 -94 6 -534 6 217 6 94 6 393 6 601 6 -488 6 -272 6 614 6 -1211 6 837 6 166 6 125 6 -1078 6 245 6 634 6 -671 6 346 6 -170 6 126 6 -30 6 346 6 -454 6 -39 6 617 6 -990 6 379 6 -304 6 267 6 450 6 21 6 -486 6 157 6 -219 6 126 6 38 6 -155 6 62 6 1517 6 -2421 6 1555 6 -282 6 -210 6 134 6 538 6 -690 6 -213 6 -182 6 476 6 -408 6 -15 6 295 6 257 6 -1392 6 1409 6 -699 6 -461 6 1048 6 105 6 -384 6 -297 6 666 6 -452 6 306 6 126 6 -275 6 616 6 -1106 6 1026 6 -908 6 407 6 -23 6 -277 6 994 6 -590 6 81 6 -296 6 214 6 -767 6 809 6 116 6 -266 6 569 6 -345 6 -450 6 -403 6 403 6 526 6 249 6 -662 6 -626 6 875 6 -14 6 -792 6 687 6 -643 6 260 6 221 6 -399 6 -268 6 1116 6 99 6 -1287 6 124 6 794 6 -330 6 456 6 -359 6 -13 6 378 6 -708 6 729 6 -688 6 -430 6 768 6 -689 6 217 6 392 6 -466 6 -21 6 459 6 -33 6 91 6 90 6 -458 6 538 6 -621 6 -288 6 508 6 385 6 -421 6 -601 6 -286 6 868 6 -46 6 -23 6 -114 6 435 6 -257 6 323 6 -381 6 14 6 61 6 283 6 -54 6 4 6 -1066 6 786 6 -476 6 420 6 315 6 -443 6 145 6 -414 6 49 6 142 6 -408 6 528 6 92 6 -65 6 -1185 6 1133 6 90 6 -633 6 -4 6 365 6 244 6 186 6 -597 6 237 6 -289 6 -627 6 737 6 249 6 -201 6 -749 6 304 6 -314 6 51 6 -311 6 499 6 -42 6 505 6 -809 6 116 6 296 6 -291 6 -179 6 -41 6 36 6 -79 6 132 6 -600 6 -32 6 676 6 -482 6 50 6 158 6 -115 6 -461 6 -31 6 161 6 -117 6 -18 6 -59 6 279 6 -560 6 264 6 -594 6 503 6 -154 6 -231 6 -150 6 182 6 -237 6 1 6 -316 6 99 6 -40 6 -61 6 -121 6 46 6 -225 6 71 6 84 6 -109 6 -170 6 107 6 -89 6 -196 6 143 6 -166 6 82 6 2 6 27 6 68 6 30 6 -50 6 120 6 -48 6 57 6 -102 6 171 6 94 6 -63 6 104 6 144 6 11 6 -87 6 236 6 43 6 276 6 -304 6 157 6 370 6 -241 6 294 6 102 6 33 6 156 6 70 6 12 6 -220 6 294 6 -112 6 77 6 124 6 -81 6 284 6 -115 6 126 6 416 6 -433 6 401 6 -166 6 -35 6 426 6 -267 6 -350 6 481 6 68 6 -395 6 384 6 -8 6 50 6 205 6 -81 6 -241 6 649 6 -873 6 545 6 159 6 -311 6 569 6 -244 6 -59 6 80 6 -240 6 720 6 -307 6 -290 6 537 6 -142 6 91 6 -122 6 182 6 157 6 -279 6 3 6 188 6 48 6 -34 6 -385 6 498 6 -377 6 35 6 -125 6 273 6 43 6 -70 6 -173 6 589 6 -179 6 449 6 -517 6 178 6 -375 6 601 6 -935 6 -21 6 1280 6 -821 6 555 6 -442 6 759 6 -446 6 -439 6 80 6 446 6 -177 6 -301 6 -340 6 247 6 719 6 -49 6 -144 6 -120 6 727 6 -337 6 -202 6 208 6 504 6 -515 6 -540 6 -112 6 893 6 -556 6 208 6 -149 6 -495 6 617 6 220 6 -124 6 101 6 444 6 -833 6 529 6 -675 6 -61 6 534 6 21 6 4 6 6 6 271 6 -82 6 634 6 -1091 6 -218 6 600 6 -122 6 -152 6 199 6 -141 6 525 6 -585 6 117 6 -72 6 561 6 -133 6 -685 6 701 6 -24 6 -572 6 190 6 366 6 -414 6 -30 6 -497 6 221 6 611 6 -211 6 444 6 -343 6 -326 6 412 6 -86 6 -385 6 -704 6 669 6 -10 6 382 6 -407 6 755 6 -141 6 316 6 -1045 6 473 6 3 6 -13 6 55 6 89 6 -132 6 533 6 259 6 -330 6 -170 6 -585 6 -91 6 495 6 -744 6 551 6 282 6 430 6 -663 6 -144 6 401 6 17 6 82 6 -905 6 730 6 -59 6 69 6 31 6 -56 6 -723 6 199 6 -6 6 749 6 -349 6 693 6 -874 6 124 6 -513 6 536 6 -409 6 669 6 -116 6 652 6 -450 6 -130 6 360 6 -583 6 -471 6 840 6 37 6 -743 6 253 6 451 6 -409 6 468 6 485 6 -545 6 -472 6 130 6 28 6 432 6 139 6 -735 6 200 6 -664 6 1332 6 -1013 6 115 6 275 6 844 6 88 6 -1126 6 -97 6 105 6 547 6 -100 6 -203 6 637 6 -596 6 -53 6 -206 6 743 6 -893 6 442 6 -60 6 433 6 -92 6 -448 6 483 6 -378 6 -29 6 224 6 312 6 -927 6 -198 6 -27 6 937 6 -148 6 160 6 -191 6 17 6 -27 6 -214 6 237 6 -278 6 1563 6 -1647 6 1145 6 -1682 6 1519 6 -533 6 -106 6 -688 6 1247 6 -221 6 -577 6 816 6 -1423 6 443 6 1061 6 -937 6 183 6 513 6 -779 6 498 6 -503 6 375 6 -697 6 300 6 287 6 214 6 236 6 -465 6 -222 6 122 6 365 6 -68 6 -363 6 40 6 -639 6 1527 6 -512 6 96 6 -453 6 -466 6 1196 6 -442 6 -495 6 549 6 -476 6 793 6 -1164 6 327 6 555 6 -993 6 -130 6 693 6 17 6 204 6 352 6 -816 6 464 6 -231 6 329 6 -101 6 -215 6 -193 6 155 6 359 6 -747 6 360 6 -68 6 -85 6 64 6 571 6 -185 6 379 6 -873 6 981 6 -677 6 236 6 -26 6 71 6 -507 6 281 6 199 6 -59 6 61 6 -891 6 872 6 -337 6 209 6 -291 6 217 6 385 6 -459 6 -439 6 48 6 981 6 -939 6 112 6 356 6 -341 6 617 6 -524 6 737 6 -706 6 -149 6 709 6 86 6 -422 6 632 6 -820 6 103 6 -910 6 1045 6 504 6 -694 6 194 6 -498 6 688 6 -227 6 79 6 -65 6 161 6 -544 6 196 6 411 6 -519 6 -49 6 533 6 88 6 -217 6 -326 6 208 6 63 6 620 6 -462 6 -154 6 -263 6 257 6 265 6 -52 6 -402 6 227 6 1187 6 -777 6 -97 6 -553 6 157 6 -44 6 109 6 343 6 66 6 -504 6 -88 6 -579 6 935 6 -160 6 -3 6 -947 6 721 6 -156 6 410 6 19 6 -445 6 1238 6 -655 6 -458 6 227 6 714 6 -587 6 -120 6 216 6 -629 6 610 6 -292 6 600 6 -558 6 -347 6 50 6 958 6 -590 6 228 6 -70 6 119 6 -9 6 -334 6 -583 6 662 6 -763 6 1007 6 351 6 -410 6 -263 6 370 6 172 6 -1122 6 105 6 125 6 251 6 97 6 303 6 -120 6 -173 6 451 6 -368 6 -83 6 195 6 -69 6 11 6 -566 6 881 6 75 6 -229 6 -526 6 210 6 706 6 -242 6 -865 6 1279 6 -912 6 -676 6 1475 6 -830 6 663 6 -373 6 119 6 661 6 -696 6 -326 6 193 6 -795 6 1312 6 -281 6 442 6 -130 6 -1001 6 -137 6 108 6 394 6 -10 6 -687 6 135 6 704 6 -567 6 447 6 -695 6 410 6 273 6 434 6 -322 6 -160 6 39 6 100 6 296 6 -314 6 -33 6 -534 6 445 6 -198 6 551 6 8 6 100 6 -143 6 -482 6 -454 6 868 6 -1111 6 834 6 -274 6 1006 6 -767 6 -105 6 -333 6 742 6 -161 6 19 6 411 6 -1012 6 403 6 -812 6 886 6 -274 6 859 6 -275 6 -5 6 -1068 6 833 6 510 6 -545 6 526 6 -1180 6 841 6 167 6 -150 6 -759 6 750 6 -665 6 532 6 -43 6 -409 6 652 6 -465 6 436 6 438 6 -571 6 114 6 122 6 -266 6 79 6 -512 6 378 6 506 6 -336 6 -113 6 -321 6 45 6 599 6 -953 6 302 6 227 6 246 6 715 6 -1646 6 224 6 69 6 816 6 78 6 -278 6 -77 6 457 6 -417 6 -615 6 1334 6 -1030 6 -34 6 421 6 -139 6 62 6 -98 6 -434 6 889 6 -1613 6 559 6 431 6 -119 6 193 6 -542 6 -45 6 1034 6 -665 6 -232 6 696 6 -425 6 109 6 121 6 55 6 -488 6 805 6 -699 6 -65 6 259 6 448 6 205 6 -101 6 -294 6 -327 6 1214 6 -1519 6 885 6 -573 6 584 6 -77 6 -464 6 645 6 -1214 6 1094 6 119 6 -755 6 -106 6 855 6 -643 6 857 6 -1195 6 725 6 326 6 -811 6 277 6 -141 6 558 6 -890 6 398 6 589 6 -398 6 397 6 98 6 -1063 6 -67 6 -53 6 1337 6 -518 6 -309 6 922 6 -33 6 -1360 6 635 6 103 6 427 6 -1346 6 1055 6 196 6 -1213 6 845 6 715 6 -1039 6 81 6 563 6 -427 6 -499 6 -84 6 235 6 691 6 -732 6 200 6 874 6 -629 6 306 6 -466 6 520 6 -953 6 814 6 -110 6 111 6 -835 6 837 6 481 6 -390 6 -675 6 82 6 -848 6 1024 6 -39 6 243 6 -255 6 35 6 -95 6 888 6 -1294 6 594 6 153 6 83 6 -333 6 -237 6 -128 6 310 6 -589 6 1476 6 -796 6 -302 6 49 6 195 6 460 6 -182 6 -401 6 446 6 -543 6 681 6 -288 6 522 6 -358 6 -502 6 302 6 329 6 -1303 6 1107 6 -380 6 -378 6 972 6 -322 6 0 6 -378 6 138 6 398 6 193 6 64 6 -728 6 -180 6 464 6 52 6 -498 6 751 6 -98 6 -1090 6 569 6 241 6 930 6 -1141 6 533 6 -661 6 64 6 288 6 -261 6 -342 6 82 6 559 6 -230 6 284 6 -113 6 439 6 -983 6 518 6 -228 6 650 6 407 6 -435 6 -524 6 -76 6 -467 6 576 6 114 6 -428 6 302 6 -163 6 -326 6 1245 6 -1091 6 1302 6 -700 6 62 6 -240 6 -620 6 719 6 -107 6 -164 6 599 6 210 6 -816 6 -2 6 67 6 173 6 338 6 -742 6 588 6 -760 6 817 6 -185 6 61 6 -903 6 716 6 -508 6 676 6 -968 6 588 6 -262 6 188 6 615 6 -940 6 371 6 -592 6 1408 6 -209 6 -794 6 116 6 1145 6 -610 6 80 6 -476 6 -276 6 108 6 420 6 -135 6 19 6 467 6 -713 6 251 6 970 6 -955 6 -269 6 -382 6 572 6 -205 6 366 6 -294 6 -16 6 130 6 259 6 0 6 -964 6 306 6 -101 6 456 6 -138 6 1015 6 -625 6 -357 6 378 6 -245 6 682 6 -273 6 -783 6 1429 6 -1128 6 31 6 -61 6 -423 6 45 6 617 6 -78 6 273 6 98 6 264 6 -267 6 -822 6 1 6 175 6 160 6 347 6 -129 6 524 6 -714 6 113 6 -38 6 309 6 -11 6 12 6 -678 6 161 6 378 6 -540 6 10 6 -140 6 957 6 -716 6 192 6 202 6 395 6 -361 6 138 6 -631 6 -497 6 1520 6 -510 6 -289 6 740 6 -350 6 -519 6 986 6 -1196 6 202 6 383 6 -18 6 77 6 215 6 -356 6 -260 6 -1 6 159 6 686 6 -254 6 -763 6 313 6 -64 6 -503 6 1195 6 -856 6 -15 6 813 6 377 6 -300 6 -449 6 722 6 -82 6 -558 6 251 6 -468 6 484 6 -257 6 -203 6 431 6 -325 6 -110 6 -103 6 336 6 250 6 -128 6 -385 6 512 6 -368 6 53 6 -203 6 -157 6 -79 6 702 6 -292 6 -185 6 270 6 -196 6 876 6 -1548 6 751 6 -551 6 596 6 -365 6 47 6 -266 6 861 6 -547 6 764 6 -213 6 139 6 -492 6 -682 6 1228 6 -1082 6 467 6 262 6 123 6 -699 6 239 6 -216 6 465 6 670 6 -9 6 -940 6 544 6 -449 6 293 6 1 6 677 6 -1364 6 1330 6 -574 6 -515 6 1200 6 -1037 6 -316 6 -392 6 930 6 -365 6 573 6 -855 6 482 6 510 6 -339 6 -367 6 239 6 -687 6 749 6 101 6 -633 6 503 6 311 6 -982 6 765 6 -496 6 303 6 -1390 6 1472 6 -132 6 13 6 294 6 -957 6 698 6 76 6 -388 6 1103 6 -772 6 -148 6 -492 6 475 6 501 6 -430 6 -175 6 406 6 524 6 -511 6 -74 6 -318 6 650 6 252 6 -479 6 191 6 -777 6 -411 6 1242 6 -934 6 998 6 419 6 -680 6 -372 6 21 6 13 6 117 6 61 6 -60 6 502 6 -731 6 -404 6 443 6 46 6 -326 6 217 6 -64 6 614 6 -127 6 274 6 -260 6 340 6 -590 6 210 6 -5 6 -685 6 340 6 52 6 195 6 -224 6 137 6 -987 6 884 6 421 6 181 6 -895 6 271 6 -453 6 576 6 77 6 426 6 -380 6 -256 6 655 6 -652 6 355 6 250 6 -703 6 686 6 -378 6 -317 6 -279 6 -13 6 675 6 -514 6 568 6 -212 6 -540 6 446 6 555 6 -169 6 337 6 -211 6 -1284 6 730 6 210 6 72 6 -691 6 299 6 150 6 438 6 -284 6 -485 6 473 6 264 6 -552 6 51 6 471 6 -93 6 -527 6 -171 6 946 6 -660 6 742 6 -916 6 123 6 299 6 169 6 199 6 159 6 -635 6 225 6 -227 6 -360 6 617 6 -166 6 567 6 -1169 6 414 6 131 6 -134 6 842 6 -406 6 -144 6 -237 6 444 6 -378 6 38 6 507 6 -601 6 254 6 -35 6 -65 6 372 6 -536 6 -11 6 523 6 -122 6 137 6 -1293 6 830 6 412 6 254 6 -467 6 -260 6 538 6 -422 6 362 6 212 6 -658 6 1064 6 -1396 6 1081 6 -548 6 -203 6 -24 6 125 6 416 6 -931 6 1329 6 -1081 6 244 6 -502 6 393 6 -295 6 1170 6 -1308 6 161 6 852 6 -133 6 -854 6 641 6 -113 6 -37 6 -462 6 1008 6 -745 6 638 6 -59 6 170 6 145 6 -1060 6 -147 6 482 6 -823 6 1476 6 -2 6 -778 6 -233 6 1132 6 -385 6 -235 6 345 6 -349 6 976 6 -452 6 -857 6 116 6 -287 6 112 6 1070 6 -686 6 -183 6 654 6 -429 6 297 6 421 6 -1080 6 257 6 -348 6 -266 6 515 6 -132 6 -9 6 858 6 -1268 6 1010 6 -44 6 438 6 -1054 6 383 6 -664 6 806 6 1 6 451 6 -1073 6 465 6 -272 6 881 6 -22 6 -755 6 455 6 -114 6 281 6 -409 6 144 6 -221 6 489 6 -1365 6 1037 6 -666 6 138 6 729 6 -617 6 1003 6 166 6 -489 6 -360 6 -613 6 718 6 -553 6 149 6 696 6 -737 6 -196 6 54 6 687 6 -225 6 25 6 482 6 290 6 -538 6 -510 6 816 6 -872 6 760 6 -747 6 666 6 -516 6 483 6 -408 6 64 6 205 6 0 6 -249 6 -179 6 337 6 -303 6 184 6 -484 6 1276 6 -525 6 -93 6 155 6 81 6 -87 6 -283 6 16 6 49 6 -189 6 238 6 233 6 -701 6 -395 6 337 6 648 6 -97 6 -996 6 1483 6 -1102 6 321 6 413 6 187 6 -995 6 272 6 106 6 258 6 140 6 -282 6 250 6 -168 6 235 6 -75 6 -681 6 570 6 641 6 -71 6 -635 6 82 6 683 6 -1055 6 -818 6 1205 6 376 6 -1079 6 191 6 824 6 -91 6 -370 6 170 6 -412 6 457 6 -366 6 -396 6 327 6 -103 6 271 6 -562 6 158 6 977 6 -1022 6 824 6 -919 6 906 6 -223 6 34 6 -33 6 111 6 686 6 -862 6 -795 6 432 6 563 6 -618 6 -475 6 1229 6 70 6 -751 6 416 6 -277 6 498 6 -661 6 804 6 -207 6 -156 6 -52 6 234 6 -178 6 139 6 -437 6 498 6 -389 6 -541 6 308 6 80 6 492 6 413 6 -492 6 149 6 -166 6 -403 6 772 6 -89 6 -287 6 -351 6 372 6 740 6 -677 6 -485 6 490 6 -785 6 506 6 -17 6 359 6 -1219 6 1244 6 -207 6 -159 6 438 6 -643 6 13 6 283 6 101 6 -517 6 -419 6 347 6 498 6 456 6 -573 6 725 6 -1458 6 961 6 -430 6 465 6 110 6 -1187 6 479 6 744 6 -364 6 -221 6 714 6 -815 6 94 6 682 6 -712 6 508 6 -77 6 -69 6 -202 6 -468 6 -71 6 678 6 125 6 -143 6 132 6 -1076 6 410 6 1423 6 -744 6 -66 6 -603 6 564 6 -535 6 -159 6 275 6 330 6 109 6 -618 6 721 6 3 6 -492 6 331 6 -314 6 178 6 411 6 -292 6 314 6 -1084 6 1124 6 -564 6 640 6 -885 6 215 6 704 6 -779 6 -740 6 688 6 802 6 -1067 6 1106 6 -224 6 246 6 -63 6 277 6 -407 6 -403 6 -956 6 926 6 -7 6 -63 6 -145 6 1282 6 -837 6 -665 6 1559 6 -912 6 -222 6 -344 6 853 6 299 6 -877 6 223 6 237 6 -711 6 1114 6 -823 6 -338 6 -470 6 854 6 -181 6 43 6 -425 6 1215 6 -508 6 369 6 -151 6 -305 6 -210 6 32 6 874 6 1 6 -594 6 -159 6 545 6 -460 6 174 6 -79 6 -242 6 523 6 -523 6 397 6 264 6 -58 6 -395 6 38 6 127 6 -451 6 342 6 786 6 -477 6 -473 6 -54 6 576 6 -739 6 -278 6 418 6 618 6 -250 6 31 6 -166 6 -455 6 136 6 -420 6 692 6 -167 6 -4 6 -225 6 359 6 245 6 70 6 -1124 6 1302 6 166 6 -1301 6 392 6 7 6 -188 6 675 6 154 6 -574 6 275 6 -201 6 -118 6 279 6 -362 6 950 6 -740 6 -229 6 236 6 141 6 -246 6 328 6 -137 6 109 6 -953 6 1403 6 -409 6 40 6 -347 6 794 6 -409 6 526 6 -709 6 608 6 -409 6 -817 6 1155 6 -622 6 -647 6 278 6 992 6 -947 6 181 6 6 6 805 6 -1213 6 676 6 490 6 -438 6 -161 6 -490 6 407 6 292 6 -249 6 -234 6 308 6 -73 6 341 6 162 6 -376 6 -378 6 237 6 -203 6 -292 6 476 6 -256 6 181 6 407 6 -892 6 133 6 970 6 -456 6 -163 6 668 6 -265 6 -365 6 123 6 506 6 -376 6 -184 6 -107 6 30 6 153 6 28 6 -711 6 783 6 55 6 61 6 -83 6 76 6 -507 6 264 6 657 6 -569 6 192 6 -286 6 120 6 -143 6 398 6 -497 6 -470 6 -365 6 941 6 48 6 212 6 -323 6 680 6 -104 6 -1256 6 -452 6 1141 6 110 6 -41 6 -738 6 1252 6 -233 6 -178 6 -791 6 125 6 594 6 55 6 54 6 40 6 -197 6 562 6 -288 6 163 6 -620 6 511 6 -352 6 -362 6 549 6 515 6 -331 6 611 6 -1830 6 634 6 -77 6 1047 6 -376 6 66 6 306 6 -1137 6 -306 6 662 6 -426 6 185 6 867 6 -439 6 365 6 -270 6 -601 6 608 6 -454 6 374 6 -691 6 253 6 -52 6 218 6 215 6 -378 6 806 6 646 6 -1350 6 344 6 106 6 156 6 -656 6 327 6 438 6 -1274 6 332 6 1398 6 -411 6 -566 6 -87 6 499 6 -1224 6 356 6 396 6 -48 6 198 6 144 6 -732 6 1082 6 -893 6 126 6 36 6 15 6 503 6 -162 6 235 6 -336 6 318 6 -168 6 93 6 480 6 -297 6 -150 6 -463 6 335 6 -284 6 314 6 -171 6 -77 6 392 6 169 6 -365 6 -25 6 -388 6 95 6 791 6 -311 6 -534 6 408 6 50 6 -408 6 327 6 -232 6 617 6 -517 6 671 6 -526 6 -134 6 66 6 101 6 7 6 348 6 -619 6 66 6 803 6 -838 6 692 6 -616 6 -551 6 1296 6 -1736 6 615 6 344 6 -631 6 754 6 -629 6 799 6 211 6 -71 6 -306 6 277 6 134 6 -571 6 193 6 -722 6 601 6 -506 6 149 6 457 6 256 6 -374 6 -72 6 -313 6 -610 6 890 6 296 6 -96 6 -768 6 669 6 282 6 -158 6 -215 6 60 6 -142 6 -282 6 994 6 -870 6 203 6 309 6 -704 6 -236 6 445 6 833 6 -911 6 171 6 67 6 289 6 -304 6 197 6 -882 6 54 6 1466 6 -1096 6 489 6 -107 6 191 6 -60 6 -668 6 931 6 -510 6 -825 6 1673 6 -459 6 -193 6 -363 6 -273 6 196 6 421 6 -89 6 -270 6 281 6 -91 6 581 6 -413 6 -983 6 382 6 302 6 -403 6 610 6 659 6 -761 6 26 6 861 6 -888 6 -81 6 -889 6 930 6 -526 6 -108 6 240 6 570 6 -450 6 124 6 767 6 -555 6 718 6 14 6 -554 6 96 6 -74 6 -148 6 -167 6 676 6 -317 6 -605 6 -53 6 -154 6 -200 6 1323 6 -337 6 -35 6 210 6 -214 6 -99 6 803 6 -681 6 312 6 218 6 99 6 -1454 6 997 6 -260 6 -230 6 533 6 -362 6 142 6 180 6 -122 6 2 6 -387 6 231 6 30 6 -610 6 5 6 469 6 407 6 -848 6 368 6 101 6 503 6 -461 6 312 6 -639 6 603 6 -488 6 -420 6 1048 6 426 6 -1083 6 490 6 121 6 274 6 -154 6 -18 6 -358 6 585 6 -100 6 -686 6 65 6 339 6 -778 6 285 6 394 6 174 6 -225" fill="none" stroke="#ff00ff" stroke-width="97.043"/>
<rect x="403.25" y="484.20" width="247.25" height="118.50" fill="none" stroke="#000" stroke-width="1.5"/>
<path d="M403.25 602.70v-7.50M403.25 484.20v7.50M423.85 602.70v-4.00M423.85 484.20v4.00M444.46 602.70v-7.50M444.46 484.20v7.50M465.06 602.70v-4.00M465.06 484.20v4.00M485.67 602.70v-7.50M485.67 484.20v7.50M506.27 602.70v-4.00M506.27 484.20v4.00M526.88 602.70v-7.50M526.88 484.20v7.50M547.48 602.70v-4.00M547.48 484.20v4.00M568.08 602.70v-7.50M568.08 484.20v7.50M588.69 602.70v-4.00M588.69 484.20v4.00M609.29 602.70v-7.50M609.29 484.20v7.50M629.90 602.70v-4.00M629.90 484.20v4.00M650.50 602.70v-7.50M650.50 484.20v7.50M403.25 602.70h7.50M650.50 602.70h-7.50M403.25 587.89h4.00M650.50 587.89h-4.00M403.25 573.08h7.50M650.50 573.08h-7.50M403.25 558.26h4.00M650.50 558.26h-4.00M403.25 543.45h7.50M650.50 543.45h-7.50M403.25 528.64h4.00M650.50 528.64h-4.00M403.25 513.83h7.50M650.50 513.83h-7.50M403.25 499.01h4.00M650.50 499.01h-4.00M403.25 484.20h7.50M650.50 484.20h-7.50" stroke="#000" stroke-width="1.5" fill="none"/>
<rect x="467.75" y="566.10" width="130.70" height="20.65" fill="#fff" stroke="#2a2a2a" stroke-width="1.15"/>
<path d="M475.90 577.35H512.90" stroke="#c46cc8" stroke-width="1.1"/>
<text x="594.70" y="583.05" font-size="17.1" text-anchor="end">1000 MHz</text>
<g font-size="18.5"><text transform="translate(394.15 607.60) scale(0.96 1.02)" text-anchor="end">0.0</text>
<text transform="translate(394.15 577.98) scale(0.96 1.02)" text-anchor="end">0.5</text>
<text transform="translate(394.15 548.35) scale(0.96 1.02)" text-anchor="end">1.0</text>
<text transform="translate(394.15 518.73) scale(0.96 1.02)" text-anchor="end">1.5</text>
<text transform="translate(394.15 489.10) scale(0.96 1.02)" text-anchor="end">2.0</text></g>
<g font-size="18.5"><text transform="translate(67.35 625.6) scale(0.95 1.02)" text-anchor="middle">-60</text>
<text transform="translate(108.59 625.6) scale(0.95 1.02)" text-anchor="middle">-40</text>
<text transform="translate(149.83 625.6) scale(0.95 1.02)" text-anchor="middle">-20</text>
<text transform="translate(191.07 625.6) scale(0.95 1.02)" text-anchor="middle">0</text>
<text transform="translate(232.32 625.6) scale(0.95 1.02)" text-anchor="middle">20</text>
<text transform="translate(273.56 625.6) scale(0.95 1.02)" text-anchor="middle">40</text>
<text transform="translate(314.80 625.6) scale(0.95 1.02)" text-anchor="middle">60</text><text transform="translate(402.85 625.6) scale(0.95 1.02)" text-anchor="middle">-60</text>
<text transform="translate(444.06 625.6) scale(0.95 1.02)" text-anchor="middle">-40</text>
<text transform="translate(485.27 625.6) scale(0.95 1.02)" text-anchor="middle">-20</text>
<text transform="translate(526.48 625.6) scale(0.95 1.02)" text-anchor="middle">0</text>
<text transform="translate(567.68 625.6) scale(0.95 1.02)" text-anchor="middle">20</text>
<text transform="translate(608.89 625.6) scale(0.95 1.02)" text-anchor="middle">40</text>
<text transform="translate(650.10 625.6) scale(0.95 1.02)" text-anchor="middle">60</text></g>
<text x="103.2" y="651.2" font-size="23.75">Time delay (ns)</text>
<text x="438.4" y="651.2" font-size="23.75">Time delay (ns)</text>
<text transform="translate(185 686.9) scale(1 0.97)" font-size="23" font-weight="bold" text-anchor="middle">(a)</text>
<text transform="translate(518.9 686.9) scale(1 0.97)" font-size="23" font-weight="bold" text-anchor="middle">(b)</text>
<text transform="translate(22.00 372.20) rotate(-90)" font-size="22">g<tspan font-size="12.5" dy="-12.5">(2)</tspan><tspan dy="12.5" dx="0.2">(</tspan><tspan font-size="17.5" dx="1.6">&#964;</tspan><tspan dx="1.4">) of idler</tspan></text>
<text transform="translate(356.80 381.20) rotate(-90)" font-size="22">g<tspan font-size="12.5" dy="-12.5">(2)</tspan><tspan dy="12.5" dx="0.2">(</tspan><tspan font-size="17.5" dx="1.6">&#964;</tspan><tspan dx="1.4">) of signal</tspan></text>
</svg></body></html>
